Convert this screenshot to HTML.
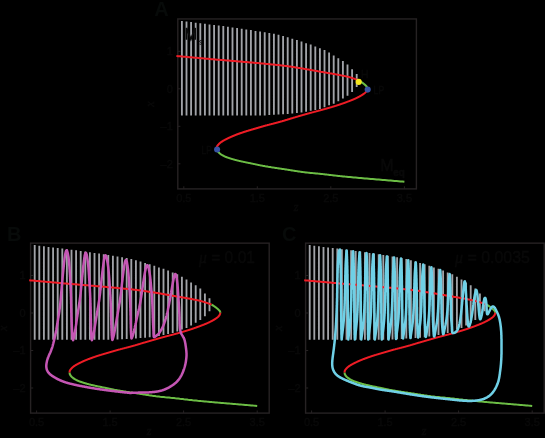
<!DOCTYPE html>
<html><head><meta charset="utf-8"><title>Bifurcation figure</title>
<style>
html,body{margin:0;padding:0;background:#000;}
body{width:545px;height:438px;overflow:hidden;}
svg{display:block;will-change:transform;}
text{font-family:"Liberation Sans",sans-serif;fill:#090909;stroke:#090909;stroke-width:0.45px;}
.t{font-size:11px;}
.h{font-size:11.5px;}
.L{font-size:20px;font-weight:bold;fill:#070a09;stroke:none;}
.ai{font-size:12px;font-style:italic;font-family:"Liberation Serif",serif;}
.m2{font-size:16px;}
.s{font-size:10px;font-weight:bold;}
.mu{font-size:16.4px;}
.mi{font-style:italic;font-family:"Liberation Serif",serif;}
</style></head><body>
<svg width="545" height="438" viewBox="0 0 545 438">
<rect width="545" height="438" fill="#000"/>
<g transform="translate(0.00,0.00)">
<path d="M181.90 20.90V115.60M186.50 21.50V115.60M191.10 22.10V115.60M195.70 22.70V115.60M200.30 23.20V115.60M204.90 23.80V115.60M209.50 24.40V115.60M214.10 25.00V115.60M218.70 25.50V115.60M223.30 26.10V115.60M227.90 26.80V115.60M232.50 27.40V115.60M237.10 28.00V115.60M241.70 28.70V115.60M246.30 29.40V115.60M250.90 30.10V115.60M255.50 30.90V115.60M260.10 31.60V115.50M264.70 32.30V115.40M269.30 33.00V115.00M273.90 33.80V114.70M278.50 34.80V114.40M283.10 36.00V114.20M287.70 37.30V113.90M292.30 38.70V113.50M296.90 40.10V113.10M301.50 41.60V112.40M306.10 43.20V111.70M310.70 44.60V110.70M315.30 46.40V109.90M319.90 48.30V108.90M324.50 50.10V107.30M329.10 52.50V105.30M333.70 55.40V103.80M338.30 58.20V101.20M342.90 61.10V98.60M347.50 64.40V95.80M352.10 69.20V92.10M356.70 74.00V87.10" stroke="#a1a3a8" stroke-width="1.85" fill="none"/>
<rect x="177.80" y="18.95" width="238.60" height="169.95" fill="none" stroke="#262223" stroke-width="1.4"/>
<path d="M177.80 51.30h2.6M177.80 88.80h2.6M177.80 126.30h2.6M177.80 163.80h2.6M183.80 188.90v-2.6M257.30 188.90v-2.6M330.80 188.90v-2.6M404.40 188.90v-2.6" stroke="#262223" stroke-width="1" fill="none"/>
<text x="172.8" y="55.2" text-anchor="end" class="t">1</text>
<text x="172.8" y="92.7" text-anchor="end" class="t">0</text>
<text x="172.8" y="130.2" text-anchor="end" class="t">–1</text>
<text x="172.8" y="167.7" text-anchor="end" class="t">–2</text>
<text x="183.8" y="201.9" text-anchor="middle" class="t">0.5</text>
<text x="257.3" y="201.9" text-anchor="middle" class="t">1.5</text>
<text x="330.8" y="201.9" text-anchor="middle" class="t">2.5</text>
<text x="404.4" y="201.9" text-anchor="middle" class="t">3.5</text>
<text x="154.2" y="16.3" class="L">A</text>
<text x="296.2" y="210.8" text-anchor="middle" class="ai">z</text>
<text transform="translate(154.2,104.2) rotate(-90)" text-anchor="middle" class="ai">x</text>
<g fill="none" stroke-width="2.0" stroke-linecap="butt" stroke-linejoin="round">
<path d="M404.4 181.7L402.4 181.5L400.5 181.4L398.5 181.2L396.5 181.0L394.6 180.9L392.6 180.7L390.6 180.5L388.7 180.4L386.7 180.2L384.7 180.0L382.8 179.9L380.8 179.7L378.8 179.5L376.8 179.4L374.8 179.2L372.8 179.0L370.8 178.9L368.8 178.7L366.8 178.5L364.8 178.4L362.9 178.2L361.0 178.0L359.2 177.9L357.3 177.7L355.5 177.5L353.7 177.4L351.9 177.2L350.1 177.0L348.3 176.9L346.6 176.7L344.9 176.6L343.2 176.4L341.6 176.2L339.9 176.1L338.4 175.9L336.9 175.7L335.4 175.6L334.0 175.4L332.6 175.2L331.2 175.1L329.8 174.9L328.4 174.7L327.0 174.6L325.5 174.4L324.1 174.2L322.6 174.1L321.1 173.9L319.5 173.7L317.8 173.6L316.1 173.4L314.3 173.2L312.5 173.1L310.7 172.9L309.0 172.7L307.4 172.6L305.9 172.4L304.5 172.2L303.2 172.1L302.0 171.9L300.8 171.7L299.6 171.6L298.5 171.4L297.4 171.2L296.3 171.1L295.2 170.9L294.1 170.7L293.0 170.6L292.0 170.4L291.0 170.2L289.9 170.1L288.9 169.9L287.9 169.7L286.8 169.6L285.8 169.4L284.7 169.2L283.6 169.1L282.4 168.9L281.3 168.7L280.2 168.6L279.0 168.4L277.9 168.2L276.8 168.1L275.7 167.9L274.6 167.7L273.5 167.6L272.4 167.4L271.3 167.3L270.3 167.1L269.2 166.9L268.2 166.8L267.2 166.6L266.2 166.4L265.2 166.3L264.3 166.1L263.4 165.9L262.6 165.8L261.7 165.6L260.9 165.4L260.1 165.3L259.3 165.1L258.5 164.9L257.7 164.8L256.9 164.6L256.1 164.4L255.4 164.3L254.6 164.1L253.8 163.9L253.0 163.8L252.2 163.6L251.4 163.4L250.6 163.3L249.7 163.1L248.9 162.9L248.1 162.8L247.3 162.6L246.5 162.4L245.6 162.3L244.8 162.1L244.1 161.9L243.3 161.8L242.5 161.6L241.8 161.4L241.0 161.3L240.3 161.1L239.6 160.9L238.9 160.8L238.1 160.6L237.4 160.4L236.8 160.3L236.1 160.1L235.5 159.9L234.8 159.8L234.2 159.6L233.7 159.4L233.1 159.3L232.5 159.1L231.9 158.9L231.4 158.8L230.8 158.6L230.3 158.4L229.8 158.3L229.3 158.1L228.8 157.9L228.3 157.8L227.8 157.6L227.3 157.5L226.9 157.3L226.5 157.1L226.0 157.0L225.6 156.8L225.2 156.6L224.9 156.5L224.5 156.3L224.2 156.1L223.8 156.0L223.5 155.8L223.2 155.6L222.9 155.5L222.6 155.3L222.3 155.1L222.0 155.0L221.7 154.8L221.5 154.6L221.2 154.5L221.0 154.3L220.8 154.1L220.5 154.0L220.3 153.8L220.1 153.6L219.9 153.5L219.7 153.3L219.5 153.1L219.3 153.0L219.1 152.8L219.0 152.6L218.8 152.5L218.6 152.3L218.5 152.1L218.3 152.0L218.2 151.8L218.1 151.6L217.9 151.5L217.8 151.3L217.7 151.1L217.6 151.0L217.5 150.8L217.4 150.6L217.3 150.5L217.2 150.3L217.1 150.1L217.0 150.0L217.0 149.8L217.0 149.6L216.9 149.5L216.9 149.3L216.9 149.1L216.8 149.0L216.8 148.8L216.8 148.6L216.8 148.5L216.8 148.3L216.8 148.2" stroke="#6cbd45"/>
<path d="M358.7 80.4L359.0 80.6L359.3 80.7L359.6 80.9L359.9 81.1L360.2 81.2L360.4 81.4L360.7 81.6L360.9 81.7L361.1 81.9L361.4 82.0L361.6 82.2L361.8 82.4L362.0 82.5L362.3 82.7L362.5 82.9L362.7 83.0L363.0 83.2L363.2 83.4L363.4 83.5L363.6 83.7L363.8 83.9L364.0 84.0L364.2 84.2L364.4 84.3L364.6 84.5L364.8 84.7L365.0 84.8L365.2 85.0L365.4 85.2L365.5 85.3L365.7 85.5L365.9 85.7L366.0 85.8L366.2 86.0L366.4 86.2L366.5 86.3L366.7 86.5L366.8 86.6L366.9 86.8L367.0 87.0L367.1 87.1L367.1 87.3L367.2 87.5L367.3 87.6L367.4 87.8L367.4 88.0L367.5 88.1L367.5 88.3L367.5 88.5" stroke="#6cbd45"/>
<path d="M176.4 56.0L178.2 56.2L180.1 56.3L181.9 56.5L183.7 56.7L185.6 56.8L187.4 57.0L189.3 57.2L191.1 57.3L193.0 57.5L194.8 57.7L196.7 57.8L198.5 58.0L200.4 58.2L202.2 58.3L204.1 58.5L206.0 58.7L207.8 58.8L209.7 59.0L211.6 59.2L213.4 59.3L215.3 59.5L217.2 59.7L219.1 59.8L221.0 60.0L222.9 60.1L224.8 60.3L226.7 60.5L228.6 60.6L230.6 60.8L232.6 61.0L234.5 61.1L236.5 61.3L238.5 61.5L240.4 61.6L242.4 61.8L244.4 62.0L246.3 62.1L248.3 62.3L250.2 62.5L252.1 62.6L254.0 62.8L255.9 63.0L257.8 63.1L259.6 63.3L261.4 63.5L263.2 63.6L265.0 63.8L266.7 64.0L268.4 64.1L270.1 64.3L271.9 64.5L273.5 64.6L275.2 64.8L276.8 65.0L278.4 65.1L280.0 65.3L281.5 65.5L282.9 65.6L284.2 65.8L285.5 66.0L286.8 66.1L288.0 66.3L289.2 66.5L290.3 66.6L291.5 66.8L292.5 67.0L293.6 67.1L294.7 67.3L295.7 67.5L296.7 67.6L297.8 67.8L298.8 68.0L299.8 68.1L300.8 68.3L301.8 68.4L302.8 68.6L303.8 68.8L304.8 68.9L305.8 69.1L306.8 69.3L307.7 69.4L308.7 69.6L309.6 69.8L310.6 69.9L311.5 70.1L312.4 70.3L313.4 70.4L314.3 70.6L315.2 70.8L316.1 70.9L317.1 71.1L318.0 71.3L318.9 71.4L319.9 71.6L320.8 71.8L321.8 71.9L322.7 72.1L323.7 72.3L324.7 72.4L325.7 72.6L326.7 72.8L327.6 72.9L328.6 73.1L329.6 73.3L330.6 73.4L331.6 73.6L332.5 73.8L333.5 73.9L334.4 74.1L335.4 74.3L336.3 74.4L337.2 74.6L338.1 74.8L339.0 74.9L339.9 75.1L340.7 75.3L341.6 75.4L342.4 75.6L343.3 75.8L344.1 75.9L344.9 76.1L345.7 76.3L346.4 76.4L347.1 76.6L347.8 76.7L348.4 76.9L349.0 77.1L349.6 77.2L350.2 77.4L350.7 77.6L351.2 77.7L351.8 77.9L352.3 78.1L352.7 78.2L353.2 78.4L353.7 78.6L354.2 78.7L354.7 78.9L355.2 79.1L355.6 79.2L356.1 79.4L356.6 79.6L357.1 79.7L357.5 79.9L358.0 80.1L358.3 80.2L358.7 80.4" stroke="#ee1c25"/>
<path d="M367.5 88.5L367.5 88.6L367.5 88.8L367.4 88.9L367.4 89.1L367.4 89.3L367.3 89.4L367.3 89.6L367.2 89.8L367.1 89.9L367.1 90.1L367.0 90.3L366.9 90.4L366.9 90.6L366.8 90.8L366.7 90.9L366.6 91.1L366.4 91.3L366.3 91.4L366.2 91.6L366.1 91.8L365.9 91.9L365.8 92.1L365.6 92.3L365.5 92.4L365.3 92.6L365.1 92.8L364.9 92.9L364.7 93.1L364.5 93.3L364.3 93.4L364.1 93.6L363.8 93.8L363.6 93.9L363.4 94.1L363.1 94.3L362.9 94.4L362.6 94.6L362.4 94.8L362.1 94.9L361.8 95.1L361.6 95.3L361.3 95.4L361.0 95.6L360.8 95.8L360.5 95.9L360.2 96.1L359.9 96.3L359.6 96.4L359.3 96.6L358.9 96.8L358.6 96.9L358.3 97.1L358.0 97.3L357.7 97.4L357.3 97.6L357.0 97.8L356.6 97.9L356.3 98.1L355.9 98.3L355.6 98.4L355.2 98.6L354.9 98.8L354.5 98.9L354.1 99.1L353.7 99.3L353.3 99.4L353.0 99.6L352.6 99.8L352.1 99.9L351.7 100.1L351.3 100.3L350.9 100.4L350.5 100.6L350.0 100.8L349.6 100.9L349.2 101.1L348.7 101.3L348.3 101.4L347.9 101.6L347.4 101.8L347.0 101.9L346.5 102.1L346.1 102.3L345.7 102.4L345.2 102.6L344.8 102.8L344.3 102.9L343.9 103.1L343.4 103.3L343.0 103.4L342.5 103.6L342.0 103.7L341.6 103.9L341.1 104.1L340.6 104.2L340.1 104.4L339.7 104.6L339.2 104.7L338.7 104.9L338.2 105.1L337.6 105.2L337.1 105.4L336.6 105.6L336.1 105.7L335.6 105.9L335.0 106.1L334.5 106.2L333.9 106.4L333.4 106.6L332.8 106.7L332.3 106.9L331.7 107.1L331.2 107.2L330.6 107.4L330.0 107.6L329.5 107.7L328.9 107.9L328.3 108.1L327.7 108.2L327.1 108.4L326.6 108.6L326.0 108.7L325.4 108.9L324.8 109.1L324.2 109.2L323.6 109.4L323.0 109.6L322.4 109.7L321.8 109.9L321.2 110.1L320.6 110.2L320.0 110.4L319.3 110.6L318.7 110.7L318.1 110.9L317.4 111.1L316.8 111.2L316.2 111.4L315.5 111.6L314.9 111.7L314.3 111.9L313.6 112.1L313.0 112.2L312.4 112.4L311.7 112.6L311.1 112.7L310.5 112.9L309.9 113.1L309.3 113.2L308.7 113.4L308.1 113.6L307.5 113.7L306.9 113.9L306.3 114.1L305.7 114.2L305.1 114.4L304.5 114.6L304.0 114.7L303.4 114.9L302.8 115.1L302.2 115.2L301.6 115.4L301.1 115.6L300.5 115.7L299.9 115.9L299.3 116.1L298.7 116.2L298.2 116.4L297.6 116.6L297.0 116.7L296.5 116.9L295.9 117.1L295.3 117.2L294.8 117.4L294.2 117.6L293.6 117.7L293.1 117.9L292.5 118.1L292.0 118.2L291.4 118.4L290.9 118.5L290.3 118.7L289.8 118.9L289.2 119.0L288.7 119.2L288.1 119.4L287.6 119.5L287.1 119.7L286.5 119.9L286.0 120.0L285.4 120.2L284.9 120.4L284.3 120.5L283.8 120.7L283.2 120.9L282.6 121.0L282.1 121.2L281.5 121.4L280.9 121.5L280.3 121.7L279.7 121.9L279.1 122.0L278.5 122.2L277.9 122.4L277.3 122.5L276.6 122.7L276.0 122.9L275.4 123.0L274.7 123.2L274.1 123.4L273.4 123.5L272.8 123.7L272.1 123.9L271.4 124.0L270.8 124.2L270.1 124.4L269.5 124.5L268.9 124.7L268.2 124.9L267.6 125.0L267.0 125.2L266.3 125.4L265.7 125.5L265.1 125.7L264.5 125.9L264.0 126.0L263.4 126.2L262.8 126.4L262.2 126.5L261.6 126.7L261.1 126.9L260.5 127.0L259.9 127.2L259.4 127.4L258.8 127.5L258.2 127.7L257.7 127.9L257.1 128.0L256.5 128.2L256.0 128.4L255.4 128.5L254.8 128.7L254.3 128.9L253.7 129.0L253.1 129.2L252.5 129.4L252.0 129.5L251.4 129.7L250.8 129.9L250.2 130.0L249.7 130.2L249.1 130.4L248.5 130.5L248.0 130.7L247.4 130.9L246.9 131.0L246.4 131.2L245.9 131.4L245.3 131.5L244.8 131.7L244.3 131.9L243.8 132.0L243.3 132.2L242.8 132.4L242.3 132.5L241.9 132.7L241.4 132.9L240.9 133.0L240.4 133.2L240.0 133.3L239.5 133.5L239.0 133.7L238.6 133.8L238.1 134.0L237.7 134.2L237.3 134.3L236.8 134.5L236.4 134.7L235.9 134.8L235.5 135.0L235.1 135.2L234.7 135.3L234.3 135.5L233.9 135.7L233.5 135.8L233.1 136.0L232.7 136.2L232.3 136.3L231.9 136.5L231.5 136.7L231.1 136.8L230.7 137.0L230.4 137.2L230.0 137.3L229.6 137.5L229.3 137.7L228.9 137.8L228.6 138.0L228.2 138.2L227.9 138.3L227.5 138.5L227.2 138.7L226.9 138.8L226.5 139.0L226.2 139.2L225.9 139.3L225.5 139.5L225.2 139.7L224.9 139.8L224.6 140.0L224.3 140.2L224.0 140.3L223.7 140.5L223.4 140.7L223.1 140.8L222.9 141.0L222.6 141.2L222.3 141.3L222.0 141.5L221.8 141.7L221.5 141.8L221.3 142.0L221.0 142.2L220.8 142.3L220.6 142.5L220.4 142.7L220.2 142.8L220.0 143.0L219.8 143.2L219.6 143.3L219.4 143.5L219.3 143.7L219.1 143.8L218.9 144.0L218.8 144.2L218.6 144.3L218.5 144.5L218.3 144.7L218.2 144.8L218.0 145.0L217.9 145.2L217.8 145.3L217.6 145.5L217.5 145.7L217.4 145.8L217.3 146.0L217.2 146.2L217.1 146.3L217.0 146.5L217.0 146.7L216.9 146.8L216.9 147.0L216.9 147.2L216.8 147.3L216.8 147.5L216.8 147.7L216.8 147.8L216.8 148.0L216.8 148.2" stroke="#ee1c25"/>
</g>
<path d="M186.5 39.7V27.9L190.85 39.3L195.2 27.9V39.7" fill="none" stroke="#0c0c0c" stroke-width="1.7" stroke-linejoin="miter"/><path d="M201.5 40.6c-2 -.6 -2.6 1.2 -.9 1.8c1.8 .6 1 2.4 -1 1.7" fill="none" stroke="#0c0c0c" stroke-width="1"/><text x="380.3" y="170.6" class="m2">M</text><text x="393.2" y="176" class="s">eq</text><circle cx="358.7" cy="81.9" r="3.05" fill="#f6e71d"/><circle cx="367.7" cy="89.6" r="3.05" fill="#3753a4"/><circle cx="217.1" cy="149.5" r="3.05" fill="#3753a4"/><text x="360.9" y="78.3" class="h" textLength="7.4" lengthAdjust="spacingAndGlyphs">H</text><text x="373.6" y="94.0" class="h" textLength="10.6" lengthAdjust="spacingAndGlyphs">LP</text><text x="201.6" y="154.3" class="h" textLength="10.2" lengthAdjust="spacingAndGlyphs">LP</text>
</g>
<g transform="translate(-147.20,224.20)">
<path d="M181.90 20.90V115.60M186.50 21.50V115.60M191.10 22.10V115.60M195.70 22.70V115.60M200.30 23.20V115.60M204.90 23.80V115.60M209.50 24.40V115.60M214.10 25.00V115.60M218.70 25.50V115.60M223.30 26.10V115.60M227.90 26.80V115.60M232.50 27.40V115.60M237.10 28.00V115.60M241.70 28.70V115.60M246.30 29.40V115.60M250.90 30.10V115.60M255.50 30.90V115.60M260.10 31.60V115.50M264.70 32.30V115.40M269.30 33.00V115.00M273.90 33.80V114.70M278.50 34.80V114.40M283.10 36.00V114.20M287.70 37.30V113.90M292.30 38.70V113.50M296.90 40.10V113.10M301.50 41.60V112.40M306.10 43.20V111.70M310.70 44.60V110.70M315.30 46.40V109.90M319.90 48.30V108.90M324.50 50.10V107.30M329.10 52.50V105.30M333.70 55.40V103.80M338.30 58.20V101.20M342.90 61.10V98.60M347.50 64.40V95.80M352.10 69.20V92.10M356.70 74.00V87.10" stroke="#a1a3a8" stroke-width="1.85" fill="none"/>
<rect x="177.80" y="18.95" width="238.60" height="169.95" fill="none" stroke="#262223" stroke-width="1.4"/>
<path d="M177.80 51.30h2.6M177.80 88.80h2.6M177.80 126.30h2.6M177.80 163.80h2.6M183.80 188.90v-2.6M257.30 188.90v-2.6M330.80 188.90v-2.6M404.40 188.90v-2.6" stroke="#262223" stroke-width="1" fill="none"/>
<text x="172.8" y="55.2" text-anchor="end" class="t">1</text>
<text x="172.8" y="92.7" text-anchor="end" class="t">0</text>
<text x="172.8" y="130.2" text-anchor="end" class="t">–1</text>
<text x="172.8" y="167.7" text-anchor="end" class="t">–2</text>
<text x="183.8" y="201.9" text-anchor="middle" class="t">0.5</text>
<text x="257.3" y="201.9" text-anchor="middle" class="t">1.5</text>
<text x="330.8" y="201.9" text-anchor="middle" class="t">2.5</text>
<text x="404.4" y="201.9" text-anchor="middle" class="t">3.5</text>
<text x="154.2" y="16.3" class="L">B</text>
<text x="296.2" y="210.8" text-anchor="middle" class="ai">z</text>
<text transform="translate(154.2,104.2) rotate(-90)" text-anchor="middle" class="ai">x</text>
<g fill="none" stroke-width="2.0" stroke-linecap="butt" stroke-linejoin="round">
<path d="M404.4 181.7L402.4 181.5L400.5 181.4L398.5 181.2L396.5 181.0L394.6 180.9L392.6 180.7L390.6 180.5L388.7 180.4L386.7 180.2L384.7 180.0L382.8 179.9L380.8 179.7L378.8 179.5L376.8 179.4L374.8 179.2L372.8 179.0L370.8 178.9L368.8 178.7L366.8 178.5L364.8 178.4L362.9 178.2L361.0 178.0L359.2 177.9L357.3 177.7L355.5 177.5L353.7 177.4L351.9 177.2L350.1 177.0L348.3 176.9L346.6 176.7L344.9 176.6L343.2 176.4L341.6 176.2L339.9 176.1L338.4 175.9L336.9 175.7L335.4 175.6L334.0 175.4L332.6 175.2L331.2 175.1L329.8 174.9L328.4 174.7L327.0 174.6L325.5 174.4L324.1 174.2L322.6 174.1L321.1 173.9L319.5 173.7L317.8 173.6L316.1 173.4L314.3 173.2L312.5 173.1L310.7 172.9L309.0 172.7L307.4 172.6L305.9 172.4L304.5 172.2L303.2 172.1L302.0 171.9L300.8 171.7L299.6 171.6L298.5 171.4L297.4 171.2L296.3 171.1L295.2 170.9L294.1 170.7L293.0 170.6L292.0 170.4L291.0 170.2L289.9 170.1L288.9 169.9L287.9 169.7L286.8 169.6L285.8 169.4L284.7 169.2L283.6 169.1L282.4 168.9L281.3 168.7L280.2 168.6L279.0 168.4L277.9 168.2L276.8 168.1L275.7 167.9L274.6 167.7L273.5 167.6L272.4 167.4L271.3 167.3L270.3 167.1L269.2 166.9L268.2 166.8L267.2 166.6L266.2 166.4L265.2 166.3L264.3 166.1L263.4 165.9L262.6 165.8L261.7 165.6L260.9 165.4L260.1 165.3L259.3 165.1L258.5 164.9L257.7 164.8L256.9 164.6L256.1 164.4L255.4 164.3L254.6 164.1L253.8 163.9L253.0 163.8L252.2 163.6L251.4 163.4L250.6 163.3L249.7 163.1L248.9 162.9L248.1 162.8L247.3 162.6L246.5 162.4L245.6 162.3L244.8 162.1L244.1 161.9L243.3 161.8L242.5 161.6L241.8 161.4L241.0 161.3L240.3 161.1L239.6 160.9L238.9 160.8L238.1 160.6L237.4 160.4L236.8 160.3L236.1 160.1L235.5 159.9L234.8 159.8L234.2 159.6L233.7 159.4L233.1 159.3L232.5 159.1L231.9 158.9L231.4 158.8L230.8 158.6L230.3 158.4L229.8 158.3L229.3 158.1L228.8 157.9L228.3 157.8L227.8 157.6L227.3 157.5L226.9 157.3L226.5 157.1L226.0 157.0L225.6 156.8L225.2 156.6L224.9 156.5L224.5 156.3L224.2 156.1L223.8 156.0L223.5 155.8L223.2 155.6L222.9 155.5L222.6 155.3L222.3 155.1L222.0 155.0L221.7 154.8L221.5 154.6L221.2 154.5L221.0 154.3L220.8 154.1L220.5 154.0L220.3 153.8L220.1 153.6L219.9 153.5L219.7 153.3L219.5 153.1L219.3 153.0L219.1 152.8L219.0 152.6L218.8 152.5L218.6 152.3L218.5 152.1L218.3 152.0L218.2 151.8L218.1 151.6L217.9 151.5L217.8 151.3L217.7 151.1L217.6 151.0L217.5 150.8L217.4 150.6L217.3 150.5L217.2 150.3L217.1 150.1L217.0 150.0L217.0 149.8L217.0 149.6L216.9 149.5L216.9 149.3L216.9 149.1L216.8 149.0L216.8 148.8L216.8 148.6L216.8 148.5L216.8 148.3L216.8 148.2" stroke="#6cbd45"/>
<path d="M358.7 80.4L359.0 80.6L359.3 80.7L359.6 80.9L359.9 81.1L360.2 81.2L360.4 81.4L360.7 81.6L360.9 81.7L361.1 81.9L361.4 82.0L361.6 82.2L361.8 82.4L362.0 82.5L362.3 82.7L362.5 82.9L362.7 83.0L363.0 83.2L363.2 83.4L363.4 83.5L363.6 83.7L363.8 83.9L364.0 84.0L364.2 84.2L364.4 84.3L364.6 84.5L364.8 84.7L365.0 84.8L365.2 85.0L365.4 85.2L365.5 85.3L365.7 85.5L365.9 85.7L366.0 85.8L366.2 86.0L366.4 86.2L366.5 86.3L366.7 86.5L366.8 86.6L366.9 86.8L367.0 87.0L367.1 87.1L367.1 87.3L367.2 87.5L367.3 87.6L367.4 87.8L367.4 88.0L367.5 88.1L367.5 88.3L367.5 88.5" stroke="#6cbd45"/>
<path d="M176.4 56.0L178.2 56.2L180.1 56.3L181.9 56.5L183.7 56.7L185.6 56.8L187.4 57.0L189.3 57.2L191.1 57.3L193.0 57.5L194.8 57.7L196.7 57.8L198.5 58.0L200.4 58.2L202.2 58.3L204.1 58.5L206.0 58.7L207.8 58.8L209.7 59.0L211.6 59.2L213.4 59.3L215.3 59.5L217.2 59.7L219.1 59.8L221.0 60.0L222.9 60.1L224.8 60.3L226.7 60.5L228.6 60.6L230.6 60.8L232.6 61.0L234.5 61.1L236.5 61.3L238.5 61.5L240.4 61.6L242.4 61.8L244.4 62.0L246.3 62.1L248.3 62.3L250.2 62.5L252.1 62.6L254.0 62.8L255.9 63.0L257.8 63.1L259.6 63.3L261.4 63.5L263.2 63.6L265.0 63.8L266.7 64.0L268.4 64.1L270.1 64.3L271.9 64.5L273.5 64.6L275.2 64.8L276.8 65.0L278.4 65.1L280.0 65.3L281.5 65.5L282.9 65.6L284.2 65.8L285.5 66.0L286.8 66.1L288.0 66.3L289.2 66.5L290.3 66.6L291.5 66.8L292.5 67.0L293.6 67.1L294.7 67.3L295.7 67.5L296.7 67.6L297.8 67.8L298.8 68.0L299.8 68.1L300.8 68.3L301.8 68.4L302.8 68.6L303.8 68.8L304.8 68.9L305.8 69.1L306.8 69.3L307.7 69.4L308.7 69.6L309.6 69.8L310.6 69.9L311.5 70.1L312.4 70.3L313.4 70.4L314.3 70.6L315.2 70.8L316.1 70.9L317.1 71.1L318.0 71.3L318.9 71.4L319.9 71.6L320.8 71.8L321.8 71.9L322.7 72.1L323.7 72.3L324.7 72.4L325.7 72.6L326.7 72.8L327.6 72.9L328.6 73.1L329.6 73.3L330.6 73.4L331.6 73.6L332.5 73.8L333.5 73.9L334.4 74.1L335.4 74.3L336.3 74.4L337.2 74.6L338.1 74.8L339.0 74.9L339.9 75.1L340.7 75.3L341.6 75.4L342.4 75.6L343.3 75.8L344.1 75.9L344.9 76.1L345.7 76.3L346.4 76.4L347.1 76.6L347.8 76.7L348.4 76.9L349.0 77.1L349.6 77.2L350.2 77.4L350.7 77.6L351.2 77.7L351.8 77.9L352.3 78.1L352.7 78.2L353.2 78.4L353.7 78.6L354.2 78.7L354.7 78.9L355.2 79.1L355.6 79.2L356.1 79.4L356.6 79.6L357.1 79.7L357.5 79.9L358.0 80.1L358.3 80.2L358.7 80.4" stroke="#ee1c25"/>
<path d="M367.5 88.5L367.5 88.6L367.5 88.8L367.4 88.9L367.4 89.1L367.4 89.3L367.3 89.4L367.3 89.6L367.2 89.8L367.1 89.9L367.1 90.1L367.0 90.3L366.9 90.4L366.9 90.6L366.8 90.8L366.7 90.9L366.6 91.1L366.4 91.3L366.3 91.4L366.2 91.6L366.1 91.8L365.9 91.9L365.8 92.1L365.6 92.3L365.5 92.4L365.3 92.6L365.1 92.8L364.9 92.9L364.7 93.1L364.5 93.3L364.3 93.4L364.1 93.6L363.8 93.8L363.6 93.9L363.4 94.1L363.1 94.3L362.9 94.4L362.6 94.6L362.4 94.8L362.1 94.9L361.8 95.1L361.6 95.3L361.3 95.4L361.0 95.6L360.8 95.8L360.5 95.9L360.2 96.1L359.9 96.3L359.6 96.4L359.3 96.6L358.9 96.8L358.6 96.9L358.3 97.1L358.0 97.3L357.7 97.4L357.3 97.6L357.0 97.8L356.6 97.9L356.3 98.1L355.9 98.3L355.6 98.4L355.2 98.6L354.9 98.8L354.5 98.9L354.1 99.1L353.7 99.3L353.3 99.4L353.0 99.6L352.6 99.8L352.1 99.9L351.7 100.1L351.3 100.3L350.9 100.4L350.5 100.6L350.0 100.8L349.6 100.9L349.2 101.1L348.7 101.3L348.3 101.4L347.9 101.6L347.4 101.8L347.0 101.9L346.5 102.1L346.1 102.3L345.7 102.4L345.2 102.6L344.8 102.8L344.3 102.9L343.9 103.1L343.4 103.3L343.0 103.4L342.5 103.6L342.0 103.7L341.6 103.9L341.1 104.1L340.6 104.2L340.1 104.4L339.7 104.6L339.2 104.7L338.7 104.9L338.2 105.1L337.6 105.2L337.1 105.4L336.6 105.6L336.1 105.7L335.6 105.9L335.0 106.1L334.5 106.2L333.9 106.4L333.4 106.6L332.8 106.7L332.3 106.9L331.7 107.1L331.2 107.2L330.6 107.4L330.0 107.6L329.5 107.7L328.9 107.9L328.3 108.1L327.7 108.2L327.1 108.4L326.6 108.6L326.0 108.7L325.4 108.9L324.8 109.1L324.2 109.2L323.6 109.4L323.0 109.6L322.4 109.7L321.8 109.9L321.2 110.1L320.6 110.2L320.0 110.4L319.3 110.6L318.7 110.7L318.1 110.9L317.4 111.1L316.8 111.2L316.2 111.4L315.5 111.6L314.9 111.7L314.3 111.9L313.6 112.1L313.0 112.2L312.4 112.4L311.7 112.6L311.1 112.7L310.5 112.9L309.9 113.1L309.3 113.2L308.7 113.4L308.1 113.6L307.5 113.7L306.9 113.9L306.3 114.1L305.7 114.2L305.1 114.4L304.5 114.6L304.0 114.7L303.4 114.9L302.8 115.1L302.2 115.2L301.6 115.4L301.1 115.6L300.5 115.7L299.9 115.9L299.3 116.1L298.7 116.2L298.2 116.4L297.6 116.6L297.0 116.7L296.5 116.9L295.9 117.1L295.3 117.2L294.8 117.4L294.2 117.6L293.6 117.7L293.1 117.9L292.5 118.1L292.0 118.2L291.4 118.4L290.9 118.5L290.3 118.7L289.8 118.9L289.2 119.0L288.7 119.2L288.1 119.4L287.6 119.5L287.1 119.7L286.5 119.9L286.0 120.0L285.4 120.2L284.9 120.4L284.3 120.5L283.8 120.7L283.2 120.9L282.6 121.0L282.1 121.2L281.5 121.4L280.9 121.5L280.3 121.7L279.7 121.9L279.1 122.0L278.5 122.2L277.9 122.4L277.3 122.5L276.6 122.7L276.0 122.9L275.4 123.0L274.7 123.2L274.1 123.4L273.4 123.5L272.8 123.7L272.1 123.9L271.4 124.0L270.8 124.2L270.1 124.4L269.5 124.5L268.9 124.7L268.2 124.9L267.6 125.0L267.0 125.2L266.3 125.4L265.7 125.5L265.1 125.7L264.5 125.9L264.0 126.0L263.4 126.2L262.8 126.4L262.2 126.5L261.6 126.7L261.1 126.9L260.5 127.0L259.9 127.2L259.4 127.4L258.8 127.5L258.2 127.7L257.7 127.9L257.1 128.0L256.5 128.2L256.0 128.4L255.4 128.5L254.8 128.7L254.3 128.9L253.7 129.0L253.1 129.2L252.5 129.4L252.0 129.5L251.4 129.7L250.8 129.9L250.2 130.0L249.7 130.2L249.1 130.4L248.5 130.5L248.0 130.7L247.4 130.9L246.9 131.0L246.4 131.2L245.9 131.4L245.3 131.5L244.8 131.7L244.3 131.9L243.8 132.0L243.3 132.2L242.8 132.4L242.3 132.5L241.9 132.7L241.4 132.9L240.9 133.0L240.4 133.2L240.0 133.3L239.5 133.5L239.0 133.7L238.6 133.8L238.1 134.0L237.7 134.2L237.3 134.3L236.8 134.5L236.4 134.7L235.9 134.8L235.5 135.0L235.1 135.2L234.7 135.3L234.3 135.5L233.9 135.7L233.5 135.8L233.1 136.0L232.7 136.2L232.3 136.3L231.9 136.5L231.5 136.7L231.1 136.8L230.7 137.0L230.4 137.2L230.0 137.3L229.6 137.5L229.3 137.7L228.9 137.8L228.6 138.0L228.2 138.2L227.9 138.3L227.5 138.5L227.2 138.7L226.9 138.8L226.5 139.0L226.2 139.2L225.9 139.3L225.5 139.5L225.2 139.7L224.9 139.8L224.6 140.0L224.3 140.2L224.0 140.3L223.7 140.5L223.4 140.7L223.1 140.8L222.9 141.0L222.6 141.2L222.3 141.3L222.0 141.5L221.8 141.7L221.5 141.8L221.3 142.0L221.0 142.2L220.8 142.3L220.6 142.5L220.4 142.7L220.2 142.8L220.0 143.0L219.8 143.2L219.6 143.3L219.4 143.5L219.3 143.7L219.1 143.8L218.9 144.0L218.8 144.2L218.6 144.3L218.5 144.5L218.3 144.7L218.2 144.8L218.0 145.0L217.9 145.2L217.8 145.3L217.6 145.5L217.5 145.7L217.4 145.8L217.3 146.0L217.2 146.2L217.1 146.3L217.0 146.5L217.0 146.7L216.9 146.8L216.9 147.0L216.9 147.2L216.8 147.3L216.8 147.5L216.8 147.7L216.8 147.8L216.8 148.0L216.8 148.2" stroke="#ee1c25"/>
</g>
<path d="M130.0 392.9L129.9 392.9L129.8 392.9L129.8 392.9L129.6 392.9L129.5 392.9L129.4 392.8L129.2 392.8L129.1 392.8L128.9 392.8L128.7 392.8L128.5 392.8L128.3 392.7L128.1 392.7L127.8 392.7L127.6 392.7L127.3 392.6L127.0 392.6L126.8 392.6L126.5 392.6L126.2 392.5L125.9 392.5L125.5 392.5L125.2 392.4L124.9 392.4L124.5 392.4L124.2 392.3L123.8 392.3L123.5 392.2L123.1 392.2L122.7 392.2L122.3 392.1L121.9 392.1L121.5 392.0L121.1 392.0L120.7 391.9L120.3 391.9L119.8 391.8L119.4 391.8L119.0 391.7L118.5 391.7L118.1 391.6L117.6 391.6L117.2 391.5L116.7 391.5L116.3 391.4L115.8 391.4L115.3 391.3L114.9 391.3L114.4 391.2L113.9 391.1L113.5 391.1L113.0 391.0L112.5 391.0L112.0 390.9L111.5 390.8L111.1 390.8L110.6 390.7L110.1 390.7L109.6 390.6L109.2 390.6L108.7 390.5L108.2 390.4L107.7 390.4L107.3 390.3L106.8 390.2L106.3 390.2L105.9 390.1L105.4 390.1L104.9 390.0L104.5 389.9L104.0 389.9L103.6 389.8L103.1 389.7L102.7 389.7L102.2 389.6L101.8 389.6L101.3 389.5L100.9 389.4L100.5 389.4L100.0 389.3L99.6 389.2L99.2 389.2L98.7 389.1L98.3 389.0L97.9 389.0L97.4 388.9L97.0 388.9L96.6 388.8L96.2 388.7L95.7 388.7L95.3 388.6L94.9 388.5L94.5 388.4L94.0 388.4L93.6 388.3L93.2 388.2L92.8 388.2L92.3 388.1L91.9 388.0L91.5 388.0L91.1 387.9L90.6 387.8L90.2 387.7L89.8 387.7L89.4 387.6L88.9 387.5L88.5 387.4L88.1 387.4L87.6 387.3L87.2 387.2L86.8 387.1L86.3 387.1L85.9 387.0L85.5 386.9L85.0 386.8L84.6 386.7L84.1 386.6L83.7 386.6L83.2 386.5L82.8 386.4L82.3 386.3L81.9 386.2L81.4 386.1L81.0 386.0L80.5 386.0L80.1 385.9L79.6 385.8L79.1 385.7L78.7 385.6L78.2 385.5L77.8 385.4L77.3 385.3L76.9 385.2L76.4 385.1L76.0 385.0L75.5 384.9L75.1 384.8L74.6 384.7L74.2 384.6L73.8 384.5L73.3 384.4L72.9 384.3L72.5 384.2L72.0 384.1L71.6 384.0L71.2 383.9L70.8 383.8L70.3 383.7L69.9 383.6L69.5 383.5L69.1 383.4L68.7 383.3L68.3 383.2L67.9 383.1L67.5 382.9L67.1 382.8L66.7 382.7L66.4 382.6L66.0 382.5L65.6 382.4L65.3 382.3L64.9 382.1L64.6 382.0L64.2 381.9L63.9 381.8L63.5 381.7L63.2 381.5L62.9 381.4L62.6 381.3L62.2 381.2L61.9 381.0L61.6 380.9L61.3 380.8L61.0 380.7L60.7 380.5L60.4 380.4L60.1 380.3L59.8 380.2L59.6 380.0L59.3 379.9L59.0 379.8L58.7 379.6L58.4 379.5L58.2 379.3L57.9 379.2L57.6 379.1L57.4 378.9L57.1 378.8L56.8 378.7L56.6 378.5L56.3 378.4L56.0 378.2L55.8 378.1L55.5 377.9L55.3 377.8L55.0 377.6L54.8 377.5L54.5 377.3L54.2 377.2L54.0 377.0L53.7 376.9L53.5 376.7L53.2 376.6L53.0 376.4L52.8 376.3L52.5 376.1L52.3 375.9L52.0 375.8L51.8 375.6L51.6 375.4L51.4 375.3L51.1 375.1L50.9 374.9L50.7 374.8L50.5 374.6L50.3 374.4L50.1 374.3L49.9 374.1L49.7 373.9L49.5 373.7L49.3 373.6L49.2 373.4L49.0 373.2L48.8 373.0L48.7 372.8L48.5 372.7L48.4 372.5L48.2 372.3L48.1 372.1L48.0 371.9L47.8 371.7L47.7 371.5L47.6 371.3L47.5 371.1L47.4 370.9L47.3 370.7L47.2 370.5L47.1 370.3L47.0 370.1L46.9 369.9L46.9 369.7L46.8 369.5L46.7 369.3L46.7 369.1L46.6 368.9L46.6 368.7L46.5 368.5L46.5 368.2L46.5 368.0L46.4 367.8L46.4 367.6L46.4 367.3L46.3 367.1L46.3 366.9L46.3 366.6L46.3 366.4L46.3 366.2L46.3 365.9L46.3 365.7L46.3 365.5L46.3 365.2L46.3 365.0L46.4 364.7L46.4 364.5L46.4 364.3L46.4 364.0L46.5 363.8L46.5 363.5L46.5 363.3L46.6 363.0L46.6 362.8L46.7 362.5L46.7 362.3L46.8 362.0L46.8 361.8L46.9 361.5L46.9 361.3L47.0 361.0L47.0 360.8L47.1 360.5L47.2 360.3L47.2 360.1L47.3 359.8L47.4 359.6L47.5 359.3L47.5 359.1L47.6 358.8L47.7 358.6L47.8 358.4L47.9 358.1L48.0 357.9L48.0 357.7L48.1 357.4L48.2 357.2L48.3 357.0L48.4 356.7L48.5 356.5L48.6 356.3L48.7 356.1L48.8 355.9L48.8 355.7L48.9 355.4L49.0 355.2L49.1 355.0L49.2 354.8L49.3 354.6L49.4 354.4L49.5 354.2L49.6 354.0L49.7 353.8L49.8 353.6L49.9 353.3L50.0 353.1L50.1 352.9L50.2 352.7L50.3 352.5L50.4 352.2L50.5 352.0L50.6 351.8L50.7 351.5L50.8 351.3L50.9 351.0L51.0 350.7L51.1 350.5L51.2 350.2L51.3 349.9L51.4 349.6L51.5 349.3L51.6 349.0L51.7 348.7L51.8 348.4L52.0 348.1L52.1 347.7L52.2 347.4L52.3 347.1L52.4 346.7L52.5 346.4L52.6 346.0L52.7 345.6L52.8 345.3L52.9 344.9L53.0 344.5L53.1 344.1L53.2 343.8L53.3 343.4L53.4 343.0L53.5 342.6L53.6 342.2L53.7 341.8L53.8 341.4L53.9 341.0L54.0 340.6L54.1 340.2L54.2 339.8L54.3 339.4L54.4 339.0L54.5 338.6L54.6 338.2L54.6 337.8L54.7 337.4L54.8 337.0L54.9 336.6L55.0 336.2L55.1 335.8L55.2 335.4L55.3 335.0L55.3 334.6L55.4 334.2L55.5 333.8L55.6 333.5L55.7 333.1L55.7 332.7L55.8 332.3L55.9 332.0L55.9 331.6L56.0 331.2L56.1 330.9L56.2 330.5L56.2 330.1L56.3 329.8L56.4 329.4L56.4 329.1L56.5 328.7L56.6 328.3L56.6 328.0L56.7 327.6L56.7 327.3L56.8 326.9L56.9 326.6L56.9 326.2L57.0 325.9L57.0 325.5L57.1 325.2L57.2 324.8L57.2 324.5L57.3 324.1L57.3 323.8L57.4 323.5L57.5 323.1L57.5 322.8L57.6 322.4L57.6 322.1L57.7 321.7L57.7 321.4L57.8 321.0L57.9 320.7L57.9 320.3L58.0 320.0L58.0 319.6L58.1 319.3L58.1 318.9L58.2 318.6L58.2 318.2L58.3 317.9L58.4 317.5L58.4 317.2L58.5 316.8L58.5 316.5L58.6 316.1L58.6 315.8L58.7 315.5L58.7 315.1L58.8 314.8L58.9 314.4L58.9 314.1L59.0 313.7L59.0 313.4L59.1 313.0L59.1 312.7L59.2 312.4L59.2 312.0L59.3 311.7L59.3 311.4L59.4 311.0L59.4 310.7L59.4 310.4L59.5 310.0L59.5 309.7L59.6 309.4L59.6 309.0L59.7 308.7L59.7 308.4L59.8 308.1L59.8 307.8L59.8 307.5L59.9 307.1L59.9 306.8L59.9 306.5L60.0 306.2L60.0 305.9L60.1 305.6L60.1 305.3L60.1 305.0L60.2 304.7L60.2 304.4L60.2 304.1L60.3 303.8L60.3 303.5L60.3 303.1L60.4 302.8L60.4 302.5L60.4 302.2L60.4 301.9L60.5 301.6L60.5 301.3L60.5 301.0L60.6 300.7L60.6 300.3L60.6 300.0L60.7 299.7L60.7 299.4L60.7 299.0L60.7 298.7L60.8 298.4L60.8 298.1L60.8 297.7L60.9 297.4L60.9 297.0L60.9 296.7L60.9 296.3L61.0 296.0L61.0 295.6L61.0 295.3L61.1 294.9L61.1 294.5L61.1 294.2L61.2 293.8L61.2 293.4L61.2 293.0L61.2 292.7L61.3 292.3L61.3 291.9L61.3 291.5L61.4 291.1L61.4 290.7L61.4 290.3L61.5 290.0L61.5 289.6L61.5 289.2L61.6 288.7L61.6 288.3L61.6 287.9L61.7 287.5L61.7 287.1L61.7 286.7L61.8 286.3L61.8 285.9L61.9 285.4L61.9 285.0L61.9 284.6L62.0 284.2L62.0 283.7L62.0 283.3L62.1 282.9L62.1 282.4L62.2 282.0L62.2 281.6L62.2 281.1L62.3 280.7L62.3 280.2L62.4 279.8L62.4 279.4L62.5 278.9L62.5 278.5L62.5 278.0L62.6 277.6L62.6 277.1L62.7 276.7L62.7 276.2L62.8 275.8L62.8 275.3L62.8 274.9L62.9 274.4L62.9 274.0L63.0 273.6L63.0 273.1L63.1 272.7L63.1 272.2L63.2 271.8L63.2 271.4L63.2 270.9L63.3 270.5L63.3 270.1L63.4 269.6L63.4 269.2L63.5 268.8L63.5 268.4L63.6 268.0L63.6 267.6L63.6 267.2L63.7 266.8L63.7 266.4L63.8 266.0L63.8 265.6L63.8 265.2L63.9 264.8L63.9 264.5L64.0 264.1L64.0 263.7L64.0 263.4L64.1 263.0L64.1 262.7L64.1 262.4L64.2 262.0L64.2 261.7L64.3 261.4L64.3 261.1L64.3 260.7L64.4 260.4L64.4 260.1L64.4 259.8L64.5 259.5L64.5 259.2L64.5 259.0L64.6 258.7L64.6 258.4L64.6 258.1L64.7 257.8L64.7 257.6L64.7 257.3L64.8 257.0L64.8 256.8L64.9 256.5L64.9 256.2L65.0 256.0L65.0 255.7L65.0 255.4L65.1 255.2L65.1 254.9L65.2 254.6L65.2 254.4L65.3 254.1L65.3 253.8L65.4 253.6L65.4 253.3L65.5 253.0L65.6 252.8L65.6 252.5L65.7 252.3L65.7 252.0L65.8 251.8L65.9 251.6L65.9 251.4L66.0 251.2L66.1 251.0L66.1 250.8L66.2 250.7L66.3 250.6L66.3 250.5L66.4 250.4L66.5 250.3L66.5 250.3L66.6 250.3L66.7 250.3L66.8 250.4L66.8 250.4L66.9 250.5L67.0 250.6L67.0 250.8L67.1 250.9L67.2 251.1L67.2 251.3L67.3 251.5L67.4 251.7L67.4 251.9L67.5 252.2L67.5 252.4L67.6 252.6L67.7 252.9L67.7 253.2L67.8 253.4L67.8 253.7L67.9 254.0L67.9 254.2L68.0 254.5L68.0 254.8L68.1 255.0L68.1 255.3L68.2 255.5L68.2 255.8L68.3 256.1L68.3 256.3L68.4 256.6L68.4 256.9L68.5 257.1L68.5 257.4L68.5 257.7L68.6 258.0L68.6 258.2L68.6 258.5L68.7 258.8L68.7 259.1L68.8 259.4L68.8 259.7L68.8 260.0L68.9 260.3L68.9 260.6L68.9 260.9L68.9 261.2L69.0 261.5L69.0 261.8L69.0 262.2L69.1 262.5L69.1 262.9L69.1 263.2L69.2 263.6L69.2 263.9L69.2 264.3L69.3 264.7L69.3 265.1L69.3 265.5L69.3 265.8L69.4 266.2L69.4 266.6L69.4 267.1L69.5 267.5L69.5 267.9L69.5 268.3L69.5 268.7L69.6 269.1L69.6 269.6L69.6 270.0L69.7 270.4L69.7 270.9L69.7 271.3L69.7 271.7L69.8 272.2L69.8 272.6L69.8 273.1L69.9 273.5L69.9 274.0L69.9 274.4L69.9 274.8L70.0 275.3L70.0 275.7L70.0 276.2L70.0 276.6L70.1 277.1L70.1 277.5L70.1 277.9L70.1 278.4L70.2 278.8L70.2 279.3L70.2 279.7L70.2 280.1L70.2 280.5L70.3 281.0L70.3 281.4L70.3 281.8L70.3 282.2L70.4 282.6L70.4 283.0L70.4 283.4L70.4 283.8L70.4 284.2L70.5 284.6L70.5 285.0L70.5 285.4L70.5 285.8L70.5 286.2L70.6 286.6L70.6 287.0L70.6 287.4L70.6 287.8L70.6 288.1L70.6 288.5L70.7 288.9L70.7 289.3L70.7 289.7L70.7 290.0L70.7 290.4L70.7 290.8L70.8 291.2L70.8 291.6L70.8 292.0L70.8 292.3L70.8 292.7L70.8 293.1L70.9 293.5L70.9 293.9L70.9 294.3L70.9 294.7L70.9 295.1L70.9 295.5L70.9 295.9L70.9 296.3L71.0 296.7L71.0 297.1L71.0 297.5L71.0 297.9L71.0 298.3L71.0 298.7L71.0 299.2L71.0 299.6L71.1 300.0L71.1 300.5L71.1 300.9L71.1 301.3L71.1 301.8L71.1 302.2L71.1 302.7L71.1 303.1L71.1 303.6L71.2 304.0L71.2 304.5L71.2 305.0L71.2 305.4L71.2 305.9L71.2 306.4L71.2 306.8L71.2 307.3L71.2 307.8L71.2 308.2L71.3 308.7L71.3 309.2L71.3 309.7L71.3 310.1L71.3 310.6L71.3 311.1L71.3 311.6L71.3 312.1L71.3 312.5L71.4 313.0L71.4 313.5L71.4 314.0L71.4 314.5L71.4 315.0L71.4 315.4L71.4 315.9L71.4 316.4L71.5 316.9L71.5 317.4L71.5 317.8L71.5 318.3L71.5 318.8L71.5 319.3L71.6 319.8L71.6 320.2L71.6 320.7L71.6 321.2L71.6 321.7L71.6 322.1L71.7 322.6L71.7 323.1L71.7 323.5L71.7 324.0L71.7 324.5L71.8 324.9L71.8 325.4L71.8 325.8L71.8 326.3L71.8 326.7L71.9 327.2L71.9 327.6L71.9 328.0L71.9 328.5L72.0 328.9L72.0 329.3L72.0 329.7L72.0 330.1L72.1 330.6L72.1 331.0L72.1 331.4L72.1 331.7L72.2 332.1L72.2 332.5L72.2 332.9L72.2 333.2L72.3 333.6L72.3 334.0L72.3 334.3L72.3 334.6L72.4 335.0L72.4 335.3L72.4 335.6L72.5 335.9L72.5 336.2L72.5 336.5L72.5 336.8L72.6 337.0L72.6 337.3L72.6 337.6L72.6 337.8L72.7 338.0L72.7 338.3L72.7 338.5L72.8 338.7L72.8 338.9L72.8 339.1L72.8 339.2L72.9 339.4L72.9 339.6L72.9 339.7L73.0 339.8L73.0 340.0L73.0 340.1L73.0 340.1L73.1 340.2L73.1 340.3L73.2 340.1L73.2 339.9L73.3 339.7L73.4 339.5L73.4 339.3L73.5 339.0L73.6 338.8L73.6 338.6L73.7 338.3L73.8 338.1L73.8 337.8L73.9 337.6L73.9 337.3L74.0 337.0L74.1 336.8L74.1 336.5L74.2 336.2L74.3 335.9L74.3 335.6L74.4 335.3L74.4 335.0L74.5 334.7L74.5 334.4L74.6 334.1L74.7 333.8L74.7 333.4L74.8 333.1L74.8 332.8L74.9 332.4L75.0 332.1L75.0 331.8L75.1 331.4L75.1 331.1L75.2 330.7L75.2 330.4L75.3 330.0L75.3 329.7L75.4 329.3L75.5 328.9L75.5 328.6L75.6 328.2L75.6 327.9L75.7 327.5L75.7 327.1L75.8 326.8L75.8 326.4L75.9 326.0L75.9 325.6L76.0 325.3L76.1 324.9L76.1 324.5L76.2 324.1L76.2 323.8L76.3 323.4L76.3 323.0L76.4 322.6L76.4 322.2L76.5 321.9L76.5 321.5L76.6 321.1L76.6 320.7L76.7 320.4L76.8 320.0L76.8 319.6L76.9 319.2L76.9 318.9L77.0 318.5L77.0 318.1L77.1 317.8L77.1 317.4L77.2 317.0L77.3 316.7L77.3 316.3L77.4 315.9L77.4 315.6L77.5 315.2L77.5 314.8L77.6 314.5L77.6 314.1L77.7 313.7L77.8 313.4L77.8 313.0L77.9 312.7L77.9 312.3L78.0 312.0L78.0 311.6L78.1 311.3L78.1 310.9L78.2 310.5L78.2 310.2L78.3 309.8L78.4 309.5L78.4 309.2L78.5 308.8L78.5 308.5L78.6 308.1L78.6 307.8L78.7 307.4L78.7 307.1L78.8 306.7L78.8 306.4L78.9 306.1L78.9 305.7L79.0 305.4L79.0 305.1L79.1 304.7L79.1 304.4L79.2 304.0L79.2 303.7L79.3 303.4L79.3 303.0L79.4 302.7L79.4 302.4L79.5 302.0L79.5 301.7L79.6 301.3L79.6 301.0L79.7 300.6L79.7 300.3L79.8 300.0L79.8 299.6L79.8 299.3L79.9 298.9L79.9 298.6L80.0 298.2L80.0 297.9L80.1 297.5L80.1 297.2L80.2 296.8L80.2 296.4L80.3 296.1L80.3 295.7L80.3 295.3L80.4 295.0L80.4 294.6L80.5 294.2L80.5 293.9L80.6 293.5L80.6 293.1L80.6 292.7L80.7 292.4L80.7 292.0L80.8 291.6L80.8 291.2L80.8 290.8L80.9 290.4L80.9 290.1L81.0 289.7L81.0 289.3L81.0 288.9L81.1 288.5L81.1 288.1L81.2 287.7L81.2 287.3L81.2 286.9L81.3 286.5L81.3 286.1L81.4 285.7L81.4 285.3L81.4 284.9L81.5 284.5L81.5 284.1L81.6 283.7L81.6 283.3L81.6 282.9L81.7 282.5L81.7 282.1L81.8 281.7L81.8 281.3L81.8 280.9L81.9 280.5L81.9 280.1L82.0 279.7L82.0 279.3L82.0 278.9L82.1 278.5L82.1 278.0L82.1 277.6L82.2 277.2L82.2 276.8L82.3 276.4L82.3 276.0L82.3 275.6L82.4 275.2L82.4 274.8L82.5 274.4L82.5 274.0L82.5 273.6L82.6 273.2L82.6 272.8L82.7 272.4L82.7 272.0L82.7 271.6L82.8 271.3L82.8 270.9L82.9 270.5L82.9 270.1L82.9 269.7L83.0 269.3L83.0 269.0L83.1 268.6L83.1 268.2L83.1 267.8L83.2 267.5L83.2 267.1L83.3 266.7L83.3 266.4L83.3 266.0L83.4 265.7L83.4 265.3L83.5 265.0L83.5 264.6L83.6 264.3L83.6 263.9L83.6 263.6L83.7 263.3L83.7 262.9L83.8 262.6L83.8 262.3L83.8 262.0L83.9 261.6L83.9 261.3L83.9 261.0L84.0 260.7L84.0 260.4L84.1 260.1L84.1 259.8L84.1 259.6L84.2 259.3L84.2 259.0L84.2 258.7L84.3 258.5L84.3 258.2L84.3 258.0L84.4 257.7L84.4 257.5L84.5 257.2L84.5 257.0L84.5 256.8L84.6 256.5L84.6 256.3L84.6 256.1L84.7 255.9L84.7 255.7L84.7 255.5L84.8 255.3L84.8 255.1L84.9 254.9L84.9 254.7L85.0 254.5L85.0 254.4L85.1 254.2L85.1 254.0L85.2 253.8L85.2 253.7L85.3 253.5L85.3 253.4L85.4 253.3L85.5 253.1L85.5 253.0L85.6 252.9L85.6 252.9L85.7 252.8L85.8 252.8L85.8 252.8L85.9 252.8L86.0 252.9L86.0 252.9L86.1 253.0L86.2 253.1L86.2 253.3L86.3 253.4L86.3 253.5L86.4 253.7L86.4 253.9L86.5 254.0L86.6 254.2L86.6 254.4L86.7 254.6L86.7 254.8L86.7 254.9L86.8 255.1L86.8 255.3L86.9 255.6L86.9 255.8L86.9 256.0L87.0 256.2L87.0 256.4L87.1 256.6L87.1 256.9L87.1 257.1L87.2 257.3L87.2 257.5L87.2 257.8L87.3 258.0L87.3 258.2L87.3 258.5L87.4 258.7L87.4 258.9L87.4 259.2L87.5 259.4L87.5 259.7L87.5 259.9L87.6 260.2L87.6 260.4L87.6 260.7L87.7 260.9L87.7 261.2L87.7 261.5L87.8 261.7L87.8 262.0L87.8 262.3L87.9 262.5L87.9 262.8L88.0 263.1L88.0 263.4L88.0 263.7L88.1 264.0L88.1 264.3L88.1 264.6L88.2 264.9L88.2 265.3L88.2 265.6L88.3 265.9L88.3 266.3L88.3 266.6L88.4 266.9L88.4 267.3L88.4 267.7L88.5 268.0L88.5 268.4L88.5 268.8L88.5 269.1L88.6 269.5L88.6 269.9L88.6 270.3L88.7 270.7L88.7 271.1L88.7 271.5L88.8 271.9L88.8 272.3L88.8 272.7L88.8 273.1L88.9 273.5L88.9 273.9L88.9 274.4L89.0 274.8L89.0 275.2L89.0 275.6L89.0 276.0L89.1 276.5L89.1 276.9L89.1 277.3L89.1 277.8L89.2 278.2L89.2 278.6L89.2 279.0L89.3 279.5L89.3 279.9L89.3 280.3L89.3 280.8L89.4 281.2L89.4 281.6L89.4 282.1L89.4 282.5L89.5 282.9L89.5 283.4L89.5 283.8L89.5 284.2L89.6 284.7L89.6 285.1L89.6 285.5L89.7 286.0L89.7 286.4L89.7 286.9L89.7 287.3L89.8 287.7L89.8 288.2L89.8 288.6L89.8 289.0L89.9 289.5L89.9 289.9L89.9 290.4L89.9 290.8L89.9 291.3L90.0 291.7L90.0 292.2L90.0 292.6L90.0 293.1L90.1 293.5L90.1 294.0L90.1 294.4L90.1 294.9L90.1 295.3L90.2 295.8L90.2 296.2L90.2 296.7L90.2 297.2L90.2 297.6L90.3 298.1L90.3 298.5L90.3 299.0L90.3 299.5L90.3 300.0L90.4 300.4L90.4 300.9L90.4 301.4L90.4 301.9L90.4 302.3L90.4 302.8L90.5 303.3L90.5 303.8L90.5 304.3L90.5 304.7L90.5 305.2L90.5 305.7L90.5 306.2L90.6 306.7L90.6 307.2L90.6 307.7L90.6 308.2L90.6 308.6L90.6 309.1L90.6 309.6L90.7 310.1L90.7 310.6L90.7 311.1L90.7 311.6L90.7 312.1L90.7 312.5L90.7 313.0L90.7 313.5L90.7 314.0L90.8 314.5L90.8 315.0L90.8 315.5L90.8 316.0L90.8 316.4L90.8 316.9L90.8 317.4L90.8 317.9L90.8 318.4L90.9 318.8L90.9 319.3L90.9 319.8L90.9 320.3L90.9 320.7L90.9 321.2L90.9 321.7L90.9 322.1L90.9 322.6L90.9 323.1L91.0 323.5L91.0 324.0L91.0 324.4L91.0 324.9L91.0 325.3L91.0 325.8L91.0 326.2L91.0 326.7L91.0 327.1L91.1 327.5L91.1 328.0L91.1 328.4L91.1 328.8L91.1 329.2L91.1 329.6L91.1 330.0L91.1 330.5L91.2 330.8L91.2 331.2L91.2 331.6L91.2 332.0L91.2 332.4L91.2 332.7L91.2 333.1L91.3 333.5L91.3 333.8L91.3 334.1L91.3 334.5L91.3 334.8L91.3 335.1L91.4 335.4L91.4 335.8L91.4 336.1L91.4 336.3L91.4 336.6L91.5 336.9L91.5 337.2L91.5 337.4L91.5 337.7L91.5 337.9L91.6 338.2L91.6 338.4L91.6 338.6L91.6 338.8L91.7 339.0L91.7 339.2L91.7 339.4L91.7 339.5L91.8 339.7L91.8 339.8L91.8 340.0L91.9 340.1L91.9 340.2L92.0 340.0L92.0 339.8L92.1 339.6L92.2 339.4L92.3 339.2L92.3 338.9L92.4 338.7L92.5 338.5L92.6 338.2L92.6 338.0L92.7 337.7L92.8 337.5L92.8 337.2L92.9 336.9L93.0 336.6L93.0 336.4L93.1 336.1L93.2 335.8L93.2 335.5L93.3 335.2L93.4 334.9L93.4 334.6L93.5 334.3L93.6 333.9L93.6 333.6L93.7 333.3L93.7 333.0L93.8 332.6L93.9 332.3L93.9 332.0L94.0 331.6L94.1 331.3L94.1 330.9L94.2 330.6L94.2 330.2L94.3 329.9L94.4 329.5L94.4 329.1L94.5 328.8L94.5 328.4L94.6 328.0L94.7 327.7L94.7 327.3L94.8 326.9L94.8 326.6L94.9 326.2L95.0 325.8L95.0 325.4L95.1 325.1L95.1 324.7L95.2 324.3L95.3 323.9L95.3 323.6L95.4 323.2L95.4 322.8L95.5 322.4L95.6 322.1L95.6 321.7L95.7 321.3L95.7 320.9L95.8 320.6L95.9 320.2L95.9 319.8L96.0 319.4L96.1 319.1L96.1 318.7L96.2 318.3L96.2 318.0L96.3 317.6L96.4 317.2L96.4 316.9L96.5 316.5L96.5 316.1L96.6 315.8L96.7 315.4L96.7 315.0L96.8 314.7L96.8 314.3L96.9 314.0L97.0 313.6L97.0 313.2L97.1 312.9L97.1 312.5L97.2 312.2L97.3 311.8L97.3 311.5L97.4 311.1L97.4 310.8L97.5 310.4L97.6 310.1L97.6 309.7L97.7 309.4L97.7 309.0L97.8 308.7L97.9 308.3L97.9 308.0L98.0 307.7L98.0 307.3L98.1 307.0L98.1 306.6L98.2 306.3L98.3 306.0L98.3 305.6L98.4 305.3L98.4 305.0L98.5 304.6L98.5 304.3L98.6 303.9L98.6 303.6L98.7 303.3L98.7 302.9L98.8 302.6L98.8 302.2L98.9 301.9L99.0 301.6L99.0 301.2L99.1 300.9L99.1 300.5L99.2 300.2L99.2 299.8L99.3 299.5L99.3 299.1L99.4 298.8L99.4 298.4L99.5 298.1L99.5 297.7L99.6 297.3L99.6 297.0L99.6 296.6L99.7 296.2L99.7 295.9L99.8 295.5L99.8 295.1L99.9 294.7L99.9 294.4L100.0 294.0L100.0 293.6L100.1 293.2L100.1 292.9L100.2 292.5L100.2 292.1L100.2 291.7L100.3 291.3L100.3 290.9L100.4 290.5L100.4 290.1L100.5 289.7L100.5 289.4L100.6 289.0L100.6 288.6L100.6 288.2L100.7 287.8L100.7 287.4L100.8 287.0L100.8 286.6L100.9 286.2L100.9 285.8L101.0 285.4L101.0 285.0L101.0 284.6L101.1 284.2L101.1 283.7L101.2 283.3L101.2 282.9L101.3 282.5L101.3 282.1L101.3 281.7L101.4 281.3L101.4 280.9L101.5 280.5L101.5 280.1L101.6 279.7L101.6 279.3L101.6 278.9L101.7 278.5L101.7 278.1L101.8 277.7L101.8 277.3L101.9 276.9L101.9 276.5L102.0 276.1L102.0 275.7L102.0 275.3L102.1 274.9L102.1 274.5L102.2 274.1L102.2 273.7L102.3 273.3L102.3 272.9L102.3 272.5L102.4 272.1L102.4 271.7L102.5 271.4L102.5 271.0L102.6 270.6L102.6 270.2L102.7 269.9L102.7 269.5L102.7 269.1L102.8 268.8L102.8 268.4L102.9 268.0L102.9 267.7L103.0 267.3L103.0 267.0L103.1 266.6L103.1 266.3L103.2 266.0L103.2 265.6L103.2 265.3L103.3 265.0L103.3 264.6L103.4 264.3L103.4 264.0L103.5 263.7L103.5 263.4L103.5 263.1L103.6 262.8L103.6 262.5L103.7 262.2L103.7 261.9L103.8 261.6L103.8 261.3L103.8 261.1L103.9 260.8L103.9 260.6L103.9 260.3L104.0 260.1L104.0 259.8L104.1 259.6L104.1 259.3L104.1 259.1L104.2 258.9L104.2 258.7L104.3 258.4L104.3 258.2L104.3 258.0L104.4 257.8L104.4 257.6L104.5 257.4L104.5 257.3L104.6 257.1L104.6 256.9L104.7 256.7L104.7 256.5L104.8 256.4L104.8 256.2L104.9 256.1L105.0 255.9L105.0 255.8L105.1 255.7L105.2 255.6L105.2 255.5L105.3 255.4L105.4 255.3L105.5 255.3L105.5 255.3L105.6 255.3L105.7 255.4L105.7 255.4L105.8 255.5L105.9 255.6L106.0 255.7L106.0 255.8L106.1 256.0L106.2 256.1L106.2 256.3L106.3 256.5L106.3 256.6L106.4 256.8L106.5 257.0L106.5 257.2L106.6 257.4L106.6 257.6L106.7 257.8L106.7 258.0L106.8 258.2L106.8 258.4L106.8 258.6L106.9 258.8L106.9 259.1L107.0 259.3L107.0 259.5L107.0 259.7L107.1 260.0L107.1 260.2L107.2 260.4L107.2 260.7L107.2 260.9L107.3 261.2L107.3 261.4L107.4 261.6L107.4 261.9L107.4 262.1L107.5 262.4L107.5 262.6L107.6 262.9L107.6 263.1L107.7 263.4L107.7 263.7L107.7 263.9L107.8 264.2L107.8 264.5L107.9 264.7L107.9 265.0L107.9 265.3L108.0 265.6L108.0 265.9L108.1 266.2L108.1 266.5L108.1 266.8L108.2 267.1L108.2 267.5L108.3 267.8L108.3 268.1L108.3 268.5L108.4 268.8L108.4 269.2L108.4 269.5L108.5 269.9L108.5 270.2L108.6 270.6L108.6 271.0L108.6 271.4L108.7 271.7L108.7 272.1L108.7 272.5L108.8 272.9L108.8 273.3L108.8 273.7L108.9 274.1L108.9 274.5L108.9 274.9L109.0 275.4L109.0 275.8L109.0 276.2L109.1 276.6L109.1 277.0L109.1 277.5L109.2 277.9L109.2 278.3L109.2 278.7L109.3 279.2L109.3 279.6L109.3 280.0L109.4 280.5L109.4 280.9L109.4 281.3L109.5 281.8L109.5 282.2L109.5 282.6L109.5 283.1L109.6 283.5L109.6 283.9L109.6 284.4L109.7 284.8L109.7 285.2L109.7 285.7L109.8 286.1L109.8 286.5L109.8 287.0L109.9 287.4L109.9 287.8L109.9 288.3L109.9 288.7L110.0 289.1L110.0 289.6L110.0 290.0L110.1 290.5L110.1 290.9L110.1 291.3L110.1 291.8L110.2 292.2L110.2 292.7L110.2 293.1L110.2 293.6L110.3 294.0L110.3 294.5L110.3 294.9L110.4 295.4L110.4 295.8L110.4 296.3L110.4 296.7L110.5 297.2L110.5 297.7L110.5 298.1L110.5 298.6L110.5 299.0L110.6 299.5L110.6 300.0L110.6 300.5L110.6 300.9L110.7 301.4L110.7 301.9L110.7 302.3L110.7 302.8L110.7 303.3L110.8 303.8L110.8 304.3L110.8 304.7L110.8 305.2L110.8 305.7L110.8 306.2L110.9 306.7L110.9 307.2L110.9 307.7L110.9 308.1L110.9 308.6L110.9 309.1L111.0 309.6L111.0 310.1L111.0 310.6L111.0 311.1L111.0 311.6L111.0 312.1L111.0 312.5L111.1 313.0L111.1 313.5L111.1 314.0L111.1 314.5L111.1 315.0L111.1 315.5L111.1 316.0L111.1 316.4L111.2 316.9L111.2 317.4L111.2 317.9L111.2 318.4L111.2 318.9L111.2 319.3L111.2 319.8L111.2 320.3L111.3 320.8L111.3 321.2L111.3 321.7L111.3 322.2L111.3 322.6L111.3 323.1L111.3 323.6L111.3 324.0L111.3 324.5L111.4 324.9L111.4 325.4L111.4 325.8L111.4 326.3L111.4 326.7L111.4 327.2L111.4 327.6L111.4 328.0L111.5 328.4L111.5 328.9L111.5 329.3L111.5 329.7L111.5 330.1L111.5 330.5L111.6 330.9L111.6 331.3L111.6 331.7L111.6 332.1L111.6 332.4L111.6 332.8L111.7 333.2L111.7 333.5L111.7 333.9L111.7 334.2L111.7 334.5L111.7 334.9L111.8 335.2L111.8 335.5L111.8 335.8L111.8 336.1L111.9 336.4L111.9 336.7L111.9 336.9L111.9 337.2L112.0 337.5L112.0 337.7L112.0 337.9L112.0 338.2L112.1 338.4L112.1 338.6L112.1 338.8L112.2 339.0L112.2 339.2L112.2 339.3L112.3 339.5L112.3 339.6L112.3 339.8L112.4 339.9L112.4 340.0L112.5 339.8L112.6 339.6L112.6 339.4L112.7 339.2L112.8 339.0L112.9 338.7L112.9 338.5L113.0 338.3L113.1 338.0L113.2 337.8L113.2 337.5L113.3 337.2L113.4 337.0L113.5 336.7L113.5 336.4L113.6 336.1L113.7 335.8L113.7 335.5L113.8 335.2L113.9 334.9L114.0 334.6L114.0 334.3L114.1 334.0L114.2 333.6L114.2 333.3L114.3 333.0L114.4 332.6L114.4 332.3L114.5 332.0L114.6 331.6L114.6 331.3L114.7 330.9L114.8 330.6L114.8 330.2L114.9 329.8L114.9 329.5L115.0 329.1L115.1 328.7L115.1 328.4L115.2 328.0L115.3 327.6L115.3 327.3L115.4 326.9L115.5 326.5L115.5 326.1L115.6 325.8L115.6 325.4L115.7 325.0L115.8 324.6L115.8 324.3L115.9 323.9L116.0 323.5L116.0 323.1L116.1 322.7L116.2 322.4L116.2 322.0L116.3 321.6L116.4 321.2L116.4 320.9L116.5 320.5L116.5 320.1L116.6 319.7L116.7 319.4L116.7 319.0L116.8 318.6L116.9 318.3L116.9 317.9L117.0 317.5L117.1 317.2L117.1 316.8L117.2 316.4L117.3 316.1L117.3 315.7L117.4 315.4L117.5 315.0L117.5 314.6L117.6 314.3L117.6 313.9L117.7 313.6L117.8 313.2L117.8 312.9L117.9 312.5L118.0 312.2L118.0 311.8L118.1 311.5L118.2 311.1L118.2 310.8L118.3 310.4L118.3 310.1L118.4 309.7L118.5 309.4L118.5 309.0L118.6 308.7L118.6 308.4L118.7 308.0L118.8 307.7L118.8 307.4L118.9 307.0L118.9 306.7L119.0 306.3L119.1 306.0L119.1 305.7L119.2 305.3L119.2 305.0L119.3 304.6L119.3 304.3L119.4 303.9L119.5 303.6L119.5 303.3L119.6 302.9L119.6 302.6L119.7 302.2L119.7 301.9L119.8 301.5L119.8 301.2L119.9 300.8L119.9 300.4L120.0 300.1L120.0 299.7L120.1 299.4L120.1 299.0L120.2 298.6L120.2 298.2L120.3 297.9L120.3 297.5L120.4 297.1L120.4 296.7L120.5 296.4L120.5 296.0L120.6 295.6L120.6 295.2L120.7 294.8L120.7 294.4L120.8 294.1L120.8 293.7L120.9 293.3L120.9 292.9L121.0 292.5L121.0 292.1L121.1 291.7L121.1 291.3L121.2 290.9L121.2 290.5L121.2 290.1L121.3 289.7L121.3 289.3L121.4 288.9L121.4 288.5L121.5 288.1L121.5 287.7L121.6 287.3L121.6 286.9L121.7 286.5L121.7 286.1L121.8 285.7L121.8 285.2L121.8 284.8L121.9 284.4L121.9 284.0L122.0 283.6L122.0 283.2L122.1 282.8L122.1 282.4L122.2 282.0L122.2 281.6L122.3 281.2L122.3 280.8L122.4 280.4L122.4 280.0L122.5 279.6L122.5 279.2L122.5 278.8L122.6 278.4L122.6 278.0L122.7 277.6L122.7 277.2L122.8 276.8L122.8 276.4L122.9 276.0L122.9 275.6L123.0 275.2L123.0 274.9L123.1 274.5L123.1 274.1L123.2 273.7L123.2 273.4L123.3 273.0L123.3 272.6L123.4 272.3L123.4 271.9L123.4 271.5L123.5 271.2L123.5 270.8L123.6 270.5L123.6 270.2L123.7 269.8L123.7 269.5L123.8 269.2L123.8 268.8L123.9 268.5L123.9 268.2L124.0 267.9L124.0 267.6L124.1 267.3L124.1 267.0L124.1 266.7L124.2 266.4L124.2 266.1L124.3 265.8L124.3 265.5L124.4 265.3L124.4 265.0L124.4 264.8L124.5 264.5L124.5 264.3L124.6 264.0L124.6 263.8L124.6 263.6L124.7 263.3L124.7 263.1L124.8 262.9L124.8 262.7L124.9 262.5L124.9 262.3L125.0 262.1L125.0 261.9L125.1 261.7L125.1 261.5L125.2 261.4L125.2 261.2L125.3 261.0L125.4 260.9L125.4 260.7L125.5 260.6L125.6 260.4L125.6 260.3L125.7 260.2L125.8 260.1L125.8 260.1L125.9 260.0L126.0 260.0L126.1 260.0L126.1 260.0L126.2 260.1L126.3 260.2L126.3 260.3L126.4 260.4L126.4 260.5L126.5 260.7L126.6 260.8L126.6 261.0L126.7 261.2L126.7 261.3L126.8 261.5L126.8 261.7L126.9 261.9L126.9 262.1L126.9 262.3L127.0 262.5L127.0 262.7L127.1 262.9L127.1 263.1L127.1 263.4L127.2 263.6L127.2 263.8L127.2 264.0L127.3 264.3L127.3 264.5L127.3 264.7L127.4 265.0L127.4 265.2L127.5 265.4L127.5 265.7L127.5 265.9L127.6 266.2L127.6 266.4L127.6 266.7L127.7 266.9L127.7 267.2L127.7 267.4L127.8 267.7L127.8 267.9L127.8 268.2L127.9 268.5L127.9 268.8L128.0 269.0L128.0 269.3L128.0 269.6L128.1 269.9L128.1 270.2L128.1 270.5L128.2 270.8L128.2 271.2L128.2 271.5L128.3 271.8L128.3 272.2L128.3 272.5L128.4 272.9L128.4 273.2L128.4 273.6L128.5 273.9L128.5 274.3L128.5 274.7L128.5 275.1L128.6 275.4L128.6 275.8L128.6 276.2L128.7 276.6L128.7 277.0L128.7 277.4L128.8 277.8L128.8 278.2L128.8 278.7L128.8 279.1L128.9 279.5L128.9 279.9L128.9 280.3L129.0 280.7L129.0 281.2L129.0 281.6L129.0 282.0L129.1 282.5L129.1 282.9L129.1 283.3L129.2 283.7L129.2 284.2L129.2 284.6L129.2 285.0L129.3 285.5L129.3 285.9L129.3 286.3L129.3 286.8L129.4 287.2L129.4 287.6L129.4 288.1L129.5 288.5L129.5 288.9L129.5 289.4L129.5 289.8L129.6 290.2L129.6 290.7L129.6 291.1L129.6 291.5L129.7 292.0L129.7 292.4L129.7 292.8L129.7 293.3L129.8 293.7L129.8 294.2L129.8 294.6L129.8 295.1L129.9 295.5L129.9 296.0L129.9 296.4L129.9 296.8L129.9 297.3L130.0 297.8L130.0 298.2L130.0 298.7L130.0 299.1L130.1 299.6L130.1 300.0L130.1 300.5L130.1 301.0L130.1 301.4L130.2 301.9L130.2 302.4L130.2 302.8L130.2 303.3L130.2 303.8L130.2 304.3L130.3 304.7L130.3 305.2L130.3 305.7L130.3 306.2L130.3 306.7L130.3 307.1L130.3 307.6L130.4 308.1L130.4 308.6L130.4 309.1L130.4 309.6L130.4 310.1L130.4 310.5L130.4 311.0L130.5 311.5L130.5 312.0L130.5 312.5L130.5 313.0L130.5 313.5L130.5 314.0L130.5 314.4L130.5 314.9L130.6 315.4L130.6 315.9L130.6 316.4L130.6 316.9L130.6 317.3L130.6 317.8L130.6 318.3L130.6 318.8L130.6 319.3L130.6 319.7L130.7 320.2L130.7 320.7L130.7 321.1L130.7 321.6L130.7 322.1L130.7 322.5L130.7 323.0L130.7 323.5L130.7 323.9L130.8 324.4L130.8 324.8L130.8 325.3L130.8 325.7L130.8 326.2L130.8 326.6L130.8 327.0L130.8 327.5L130.8 327.9L130.9 328.3L130.9 328.7L130.9 329.1L130.9 329.5L130.9 329.9L130.9 330.3L130.9 330.7L130.9 331.1L131.0 331.4L131.0 331.8L131.0 332.2L131.0 332.5L131.0 332.9L131.0 333.2L131.1 333.5L131.1 333.9L131.1 334.2L131.1 334.5L131.1 334.8L131.2 335.1L131.2 335.4L131.2 335.6L131.2 335.9L131.2 336.1L131.3 336.4L131.3 336.6L131.3 336.8L131.3 337.1L131.4 337.3L131.4 337.5L131.4 337.6L131.4 337.8L131.5 338.0L131.5 338.1L131.5 338.3L131.6 338.4L131.6 338.5L131.7 338.3L131.8 338.1L131.9 337.9L132.0 337.7L132.1 337.5L132.2 337.3L132.2 337.1L132.3 336.9L132.4 336.6L132.5 336.4L132.6 336.1L132.7 335.9L132.8 335.6L132.9 335.4L132.9 335.1L133.0 334.8L133.1 334.5L133.2 334.2L133.3 333.9L133.4 333.7L133.4 333.4L133.5 333.1L133.6 332.7L133.7 332.4L133.8 332.1L133.8 331.8L133.9 331.5L134.0 331.1L134.1 330.8L134.2 330.5L134.2 330.2L134.3 329.8L134.4 329.5L134.5 329.1L134.6 328.8L134.6 328.4L134.7 328.1L134.8 327.7L134.9 327.4L134.9 327.0L135.0 326.7L135.1 326.3L135.2 326.0L135.2 325.6L135.3 325.2L135.4 324.9L135.5 324.5L135.6 324.2L135.6 323.8L135.7 323.4L135.8 323.1L135.9 322.7L135.9 322.4L136.0 322.0L136.1 321.6L136.2 321.3L136.2 320.9L136.3 320.6L136.4 320.2L136.5 319.9L136.6 319.5L136.6 319.2L136.7 318.8L136.8 318.5L136.9 318.1L136.9 317.8L137.0 317.4L137.1 317.1L137.2 316.7L137.3 316.4L137.3 316.0L137.4 315.7L137.5 315.3L137.6 315.0L137.6 314.7L137.7 314.3L137.8 314.0L137.9 313.7L137.9 313.3L138.0 313.0L138.1 312.7L138.2 312.3L138.2 312.0L138.3 311.7L138.4 311.3L138.5 311.0L138.5 310.7L138.6 310.4L138.7 310.0L138.8 309.7L138.8 309.4L138.9 309.1L139.0 308.7L139.0 308.4L139.1 308.1L139.2 307.8L139.3 307.4L139.3 307.1L139.4 306.8L139.5 306.5L139.5 306.2L139.6 305.8L139.7 305.5L139.7 305.2L139.8 304.8L139.9 304.5L139.9 304.2L140.0 303.8L140.1 303.5L140.1 303.2L140.2 302.8L140.3 302.5L140.3 302.2L140.4 301.8L140.4 301.5L140.5 301.1L140.6 300.8L140.6 300.4L140.7 300.1L140.7 299.7L140.8 299.3L140.9 299.0L140.9 298.6L141.0 298.3L141.0 297.9L141.1 297.5L141.2 297.2L141.2 296.8L141.3 296.4L141.3 296.1L141.4 295.7L141.4 295.3L141.5 294.9L141.6 294.6L141.6 294.2L141.7 293.8L141.7 293.4L141.8 293.0L141.8 292.7L141.9 292.3L141.9 291.9L142.0 291.5L142.1 291.1L142.1 290.7L142.2 290.3L142.2 290.0L142.3 289.6L142.3 289.2L142.4 288.8L142.4 288.4L142.5 288.0L142.6 287.6L142.6 287.2L142.7 286.8L142.7 286.4L142.8 286.1L142.8 285.7L142.9 285.3L142.9 284.9L143.0 284.5L143.1 284.1L143.1 283.7L143.2 283.3L143.2 283.0L143.3 282.6L143.3 282.2L143.4 281.8L143.5 281.4L143.5 281.1L143.6 280.7L143.6 280.3L143.7 280.0L143.7 279.6L143.8 279.2L143.8 278.9L143.9 278.5L144.0 278.1L144.0 277.8L144.1 277.4L144.1 277.1L144.2 276.7L144.2 276.4L144.3 276.0L144.4 275.7L144.4 275.4L144.5 275.0L144.5 274.7L144.6 274.4L144.6 274.1L144.7 273.7L144.8 273.4L144.8 273.1L144.9 272.8L144.9 272.5L145.0 272.2L145.0 271.9L145.1 271.6L145.1 271.4L145.2 271.1L145.2 270.8L145.3 270.6L145.4 270.3L145.4 270.0L145.5 269.8L145.5 269.5L145.6 269.3L145.6 269.1L145.7 268.8L145.7 268.6L145.8 268.4L145.8 268.2L145.9 268.0L145.9 267.8L146.0 267.6L146.0 267.4L146.1 267.2L146.1 267.0L146.2 266.8L146.3 266.7L146.3 266.5L146.4 266.3L146.5 266.2L146.5 266.0L146.6 265.9L146.7 265.8L146.8 265.6L146.8 265.5L146.9 265.4L147.0 265.3L147.1 265.3L147.2 265.2L147.3 265.2L147.3 265.2L147.4 265.2L147.5 265.3L147.6 265.3L147.7 265.4L147.7 265.5L147.8 265.6L147.9 265.8L148.0 265.9L148.0 266.1L148.1 266.2L148.2 266.4L148.2 266.6L148.3 266.7L148.3 266.9L148.4 267.1L148.4 267.3L148.5 267.5L148.5 267.7L148.6 267.9L148.6 268.1L148.7 268.3L148.7 268.5L148.8 268.7L148.8 268.9L148.9 269.2L148.9 269.4L148.9 269.6L149.0 269.8L149.0 270.1L149.1 270.3L149.1 270.5L149.2 270.7L149.2 271.0L149.3 271.2L149.3 271.5L149.4 271.7L149.4 271.9L149.4 272.2L149.5 272.4L149.5 272.7L149.6 273.0L149.6 273.2L149.7 273.5L149.7 273.8L149.8 274.0L149.8 274.3L149.8 274.6L149.9 274.9L149.9 275.2L150.0 275.5L150.0 275.8L150.1 276.1L150.1 276.5L150.1 276.8L150.2 277.1L150.2 277.5L150.3 277.8L150.3 278.2L150.3 278.5L150.4 278.9L150.4 279.3L150.5 279.6L150.5 280.0L150.5 280.4L150.6 280.8L150.6 281.1L150.6 281.5L150.7 281.9L150.7 282.3L150.8 282.7L150.8 283.1L150.8 283.5L150.9 283.9L150.9 284.3L150.9 284.7L151.0 285.1L151.0 285.5L151.0 285.9L151.1 286.4L151.1 286.8L151.2 287.2L151.2 287.6L151.2 288.0L151.3 288.4L151.3 288.8L151.3 289.2L151.4 289.6L151.4 290.1L151.4 290.5L151.5 290.9L151.5 291.3L151.5 291.7L151.6 292.1L151.6 292.5L151.6 292.9L151.7 293.4L151.7 293.8L151.7 294.2L151.8 294.6L151.8 295.0L151.8 295.5L151.9 295.9L151.9 296.3L151.9 296.7L152.0 297.1L152.0 297.6L152.0 298.0L152.0 298.4L152.1 298.9L152.1 299.3L152.1 299.7L152.2 300.1L152.2 300.6L152.2 301.0L152.2 301.5L152.3 301.9L152.3 302.3L152.3 302.8L152.3 303.2L152.3 303.7L152.4 304.1L152.4 304.6L152.4 305.0L152.4 305.5L152.4 306.0L152.5 306.4L152.5 306.9L152.5 307.3L152.5 307.8L152.5 308.3L152.6 308.7L152.6 309.2L152.6 309.7L152.6 310.1L152.6 310.6L152.6 311.1L152.6 311.5L152.7 312.0L152.7 312.5L152.7 312.9L152.7 313.4L152.7 313.9L152.7 314.3L152.8 314.8L152.8 315.3L152.8 315.7L152.8 316.2L152.8 316.6L152.8 317.1L152.8 317.6L152.9 318.0L152.9 318.5L152.9 318.9L152.9 319.4L152.9 319.8L152.9 320.3L153.0 320.7L153.0 321.2L153.0 321.6L153.0 322.0L153.0 322.5L153.1 322.9L153.1 323.3L153.1 323.8L153.1 324.2L153.1 324.6L153.2 325.0L153.2 325.4L153.2 325.8L153.2 326.3L153.3 326.7L153.3 327.1L153.3 327.4L153.3 327.8L153.3 328.2L153.4 328.6L153.4 329.0L153.4 329.4L153.4 329.7L153.4 330.1L153.4 330.4L153.5 330.8L153.5 331.2L153.5 331.5L153.5 331.8L153.5 332.2L153.5 332.5L153.5 332.8L153.5 333.1L153.5 333.4L153.5 333.7L153.5 334.0L153.6 334.3L153.6 334.6L153.6 334.9L153.6 335.2L153.6 335.4L153.6 335.6L153.6 335.9L153.6 336.1L153.7 336.3L153.7 336.4L153.7 336.6L153.8 336.7L153.9 336.8L153.9 336.9L154.0 337.0L154.1 337.0L154.2 337.0L154.4 337.0L154.5 337.0L154.6 336.9L154.8 336.9L154.9 336.8L155.1 336.7L155.3 336.6L155.4 336.4L155.6 336.3L155.8 336.2L156.0 336.0L156.1 335.9L156.3 335.8L156.5 335.6L156.6 335.5L156.8 335.4L156.9 335.2L157.1 335.1L157.2 335.0L157.4 334.9L157.5 334.8L157.7 334.7L157.8 334.5L157.9 334.4L158.1 334.3L158.2 334.1L158.4 334.0L158.5 333.9L158.6 333.7L158.8 333.6L158.9 333.4L159.1 333.2L159.2 333.0L159.4 332.8L159.5 332.6L159.7 332.4L159.8 332.2L160.0 331.9L160.1 331.7L160.3 331.4L160.5 331.2L160.6 330.9L160.8 330.6L161.0 330.3L161.1 330.1L161.3 329.8L161.5 329.5L161.6 329.1L161.8 328.8L162.0 328.5L162.1 328.2L162.3 327.8L162.5 327.5L162.6 327.2L162.8 326.8L162.9 326.5L163.1 326.1L163.3 325.7L163.4 325.4L163.6 325.0L163.7 324.6L163.9 324.3L164.0 323.9L164.1 323.5L164.3 323.1L164.4 322.7L164.6 322.3L164.7 321.9L164.8 321.5L165.0 321.1L165.1 320.7L165.2 320.3L165.4 319.9L165.5 319.5L165.6 319.1L165.7 318.6L165.9 318.2L166.0 317.8L166.1 317.4L166.2 316.9L166.3 316.5L166.4 316.1L166.6 315.6L166.7 315.2L166.8 314.7L166.9 314.3L167.0 313.8L167.1 313.4L167.2 312.9L167.3 312.5L167.4 312.0L167.5 311.6L167.6 311.1L167.7 310.7L167.8 310.2L167.9 309.7L168.0 309.3L168.1 308.8L168.2 308.3L168.3 307.9L168.4 307.4L168.5 306.9L168.6 306.4L168.7 306.0L168.8 305.5L168.9 305.0L169.0 304.5L169.1 304.1L169.2 303.6L169.3 303.1L169.3 302.6L169.4 302.2L169.5 301.7L169.6 301.2L169.7 300.8L169.8 300.3L169.9 299.8L170.0 299.3L170.0 298.9L170.1 298.4L170.2 297.9L170.3 297.5L170.4 297.0L170.4 296.6L170.5 296.1L170.6 295.7L170.7 295.2L170.8 294.8L170.8 294.3L170.9 293.9L171.0 293.4L171.1 293.0L171.1 292.6L171.2 292.2L171.3 291.7L171.3 291.3L171.4 290.9L171.5 290.5L171.6 290.1L171.6 289.7L171.7 289.3L171.8 288.9L171.8 288.5L171.9 288.1L172.0 287.7L172.0 287.3L172.1 286.9L172.2 286.6L172.2 286.2L172.3 285.8L172.4 285.4L172.4 285.1L172.5 284.7L172.6 284.3L172.6 284.0L172.7 283.6L172.8 283.3L172.8 282.9L172.9 282.5L173.0 282.2L173.0 281.8L173.1 281.5L173.2 281.1L173.2 280.8L173.3 280.4L173.4 280.1L173.4 279.7L173.5 279.4L173.6 279.0L173.7 278.7L173.7 278.3L173.8 278.0L173.9 277.6L174.0 277.3L174.1 277.0L174.1 276.7L174.2 276.4L174.3 276.1L174.4 275.8L174.5 275.5L174.5 275.3L174.6 275.0L174.7 274.8L174.8 274.6L174.9 274.5L174.9 274.3L175.0 274.2L175.1 274.1L175.2 274.0L175.3 274.0L175.4 274.0L175.4 274.0L175.5 274.1L175.6 274.2L175.7 274.3L175.7 274.4L175.8 274.6L175.9 274.8L176.0 275.0L176.0 275.2L176.1 275.5L176.2 275.8L176.3 276.1L176.3 276.4L176.4 276.7L176.5 277.0L176.5 277.4L176.6 277.7L176.7 278.1L176.7 278.4L176.8 278.8L176.8 279.2L176.9 279.6L176.9 280.0L177.0 280.4L177.0 280.8L177.1 281.2L177.1 281.6L177.2 282.0L177.2 282.4L177.3 282.8L177.3 283.2L177.4 283.6L177.4 284.1L177.5 284.5L177.5 284.9L177.5 285.4L177.6 285.8L177.6 286.2L177.7 286.7L177.7 287.1L177.7 287.6L177.8 288.0L177.8 288.5L177.8 288.9L177.9 289.4L177.9 289.9L177.9 290.3L178.0 290.8L178.0 291.3L178.0 291.7L178.1 292.2L178.1 292.7L178.1 293.1L178.2 293.6L178.2 294.1L178.2 294.6L178.3 295.0L178.3 295.5L178.3 296.0L178.4 296.5L178.4 297.0L178.4 297.4L178.4 297.9L178.5 298.4L178.5 298.9L178.5 299.4L178.6 299.9L178.6 300.3L178.6 300.8L178.7 301.3L178.7 301.8L178.7 302.3L178.8 302.8L178.8 303.2L178.8 303.7L178.9 304.2L178.9 304.7L178.9 305.2L178.9 305.7L179.0 306.1L179.0 306.6L179.0 307.1L179.1 307.6L179.1 308.0L179.1 308.5L179.1 309.0L179.2 309.5L179.2 309.9L179.2 310.4L179.2 310.9L179.2 311.3L179.3 311.8L179.3 312.3L179.3 312.7L179.3 313.2L179.3 313.6L179.4 314.1L179.4 314.5L179.4 315.0L179.4 315.4L179.4 315.8L179.4 316.3L179.5 316.7L179.5 317.2L179.5 317.6L179.5 318.0L179.5 318.4L179.5 318.9L179.5 319.3L179.5 319.7L179.5 320.1L179.6 320.5L179.6 320.9L179.6 321.3L179.6 321.7L179.6 322.1L179.6 322.5L179.6 322.8L179.6 323.2L179.6 323.6L179.7 324.0L179.7 324.3L179.7 324.7L179.7 325.0L179.7 325.4L179.7 325.7L179.8 326.1L179.8 326.4L179.8 326.7L179.8 327.0L179.9 327.4L179.9 327.7L179.9 328.0L180.0 328.3L180.0 328.6L180.0 328.9L180.1 329.2L180.1 329.4L180.2 329.7L180.2 330.0L180.3 330.3L180.3 330.5L180.4 330.8L180.4 331.0L180.5 331.3L180.5 331.5L180.6 331.8L180.7 332.0L180.8 332.3L180.8 332.5L180.9 332.7L181.0 333.0L181.1 333.2L181.2 333.4L181.3 333.6L181.4 333.9L181.5 334.1L181.7 334.3L181.8 334.5L181.9 334.7L182.0 334.9L182.1 335.1L182.3 335.4L182.4 335.6L182.5 335.8L182.7 336.0L182.8 336.2L182.9 336.5L183.1 336.7L183.2 336.9L183.3 337.1L183.4 337.4L183.6 337.6L183.7 337.8L183.8 338.1L183.9 338.3L184.0 338.6L184.1 338.8L184.2 339.1L184.3 339.3L184.4 339.6L184.5 339.9L184.6 340.2L184.7 340.4L184.7 340.7L184.8 341.0L184.9 341.3L184.9 341.6L185.0 341.9L185.1 342.2L185.1 342.5L185.2 342.8L185.2 343.1L185.3 343.4L185.4 343.7L185.4 344.0L185.5 344.3L185.5 344.6L185.5 344.9L185.6 345.2L185.6 345.6L185.7 345.9L185.7 346.2L185.8 346.5L185.8 346.8L185.9 347.1L185.9 347.4L185.9 347.8L186.0 348.1L186.0 348.4L186.1 348.7L186.1 349.0L186.1 349.3L186.2 349.6L186.2 349.9L186.2 350.2L186.3 350.5L186.3 350.8L186.3 351.2L186.4 351.5L186.4 351.8L186.4 352.1L186.4 352.4L186.4 352.6L186.5 352.9L186.5 353.2L186.5 353.5L186.5 353.8L186.5 354.1L186.5 354.4L186.5 354.7L186.5 354.9L186.5 355.2L186.5 355.5L186.5 355.8L186.5 356.0L186.5 356.3L186.4 356.6L186.4 356.8L186.4 357.1L186.4 357.3L186.4 357.6L186.3 357.9L186.3 358.1L186.3 358.4L186.3 358.6L186.2 358.9L186.2 359.1L186.2 359.4L186.1 359.7L186.1 359.9L186.1 360.2L186.0 360.4L186.0 360.7L186.0 360.9L185.9 361.2L185.9 361.4L185.9 361.7L185.8 361.9L185.8 362.2L185.7 362.5L185.7 362.7L185.6 363.0L185.6 363.3L185.5 363.5L185.5 363.8L185.4 364.1L185.3 364.4L185.3 364.6L185.2 364.9L185.1 365.2L185.1 365.5L185.0 365.8L184.9 366.1L184.8 366.4L184.7 366.8L184.6 367.1L184.5 367.4L184.4 367.7L184.3 368.1L184.2 368.4L184.1 368.8L184.0 369.1L183.9 369.5L183.7 369.8L183.6 370.2L183.5 370.5L183.4 370.9L183.2 371.3L183.1 371.6L182.9 372.0L182.8 372.4L182.6 372.7L182.5 373.1L182.3 373.4L182.1 373.8L182.0 374.2L181.8 374.5L181.6 374.9L181.5 375.2L181.3 375.6L181.1 375.9L180.9 376.3L180.7 376.6L180.5 376.9L180.3 377.2L180.1 377.6L179.9 377.9L179.7 378.2L179.5 378.5L179.3 378.8L179.1 379.1L178.8 379.4L178.6 379.7L178.4 380.0L178.2 380.2L177.9 380.5L177.7 380.8L177.5 381.0L177.2 381.3L177.0 381.5L176.7 381.8L176.5 382.0L176.2 382.3L176.0 382.5L175.7 382.7L175.5 383.0L175.2 383.2L174.9 383.4L174.7 383.6L174.4 383.9L174.1 384.1L173.8 384.3L173.6 384.5L173.3 384.7L173.0 384.9L172.7 385.1L172.4 385.3L172.1 385.5L171.8 385.7L171.5 385.9L171.2 386.1L170.9 386.3L170.6 386.5L170.3 386.7L170.0 386.8L169.7 387.0L169.4 387.2L169.1 387.4L168.8 387.6L168.4 387.7L168.1 387.9L167.8 388.1L167.5 388.2L167.1 388.4L166.8 388.5L166.5 388.7L166.1 388.8L165.8 389.0L165.5 389.1L165.1 389.3L164.8 389.4L164.5 389.6L164.1 389.7L163.8 389.8L163.4 389.9L163.1 390.1L162.7 390.2L162.4 390.3L162.0 390.4L161.7 390.5L161.3 390.6L161.0 390.7L160.6 390.8L160.3 390.9L159.9 391.0L159.5 391.1L159.2 391.1L158.8 391.2L158.4 391.3L158.1 391.4L157.7 391.4L157.3 391.5L156.9 391.6L156.6 391.6L156.2 391.7L155.8 391.7L155.4 391.8L155.0 391.8L154.7 391.9L154.3 391.9L153.9 392.0L153.5 392.0L153.1 392.1L152.7 392.1L152.3 392.1L151.9 392.2L151.5 392.2L151.1 392.2L150.7 392.3L150.2 392.3L149.8 392.3L149.4 392.3L149.0 392.4L148.6 392.4L148.1 392.4L147.7 392.4L147.3 392.4L146.8 392.4L146.4 392.5L146.0 392.5L145.5 392.5L145.1 392.5L144.6 392.5L144.2 392.5L143.7 392.5L143.2 392.6L142.8 392.6L142.3 392.6L141.8 392.6L141.4 392.6L140.9 392.6L140.4 392.6L139.9 392.6L139.4 392.6L139.0 392.6L138.5 392.6L138.0 392.7L137.5 392.7L136.9 392.7L136.4 392.7L135.9 392.7L135.4 392.7L134.9 392.7L134.4 392.7L133.8 392.8L133.3 392.8L132.8 392.8L132.2 392.8L131.7 392.8L131.1 392.9L130.6 392.9L130.0 392.9" transform="translate(147.20,-224.20)" fill="none" stroke="#c556b4" stroke-width="2.5" stroke-linejoin="round"/><text x="346.2" y="38.4" class="mu" textLength="56" lengthAdjust="spacingAndGlyphs"><tspan class="mi">μ</tspan> = 0.01</text>
</g>
<g transform="translate(127.80,224.20)">
<path d="M181.90 20.90V115.60M186.50 21.50V115.60M191.10 22.10V115.60M195.70 22.70V115.60M200.30 23.20V115.60M204.90 23.80V115.60M209.50 24.40V115.60M214.10 25.00V115.60M218.70 25.50V115.60M223.30 26.10V115.60M227.90 26.80V115.60M232.50 27.40V115.60M237.10 28.00V115.60M241.70 28.70V115.60M246.30 29.40V115.60M250.90 30.10V115.60M255.50 30.90V115.60M260.10 31.60V115.50M264.70 32.30V115.40M269.30 33.00V115.00M273.90 33.80V114.70M278.50 34.80V114.40M283.10 36.00V114.20M287.70 37.30V113.90M292.30 38.70V113.50M296.90 40.10V113.10M301.50 41.60V112.40M306.10 43.20V111.70M310.70 44.60V110.70M315.30 46.40V109.90M319.90 48.30V108.90M324.50 50.10V107.30M329.10 52.50V105.30M333.70 55.40V103.80M338.30 58.20V101.20M342.90 61.10V98.60M347.50 64.40V95.80M352.10 69.20V92.10M356.70 74.00V87.10" stroke="#a1a3a8" stroke-width="1.85" fill="none"/>
<rect x="177.80" y="18.95" width="238.60" height="169.95" fill="none" stroke="#262223" stroke-width="1.4"/>
<path d="M177.80 51.30h2.6M177.80 88.80h2.6M177.80 126.30h2.6M177.80 163.80h2.6M183.80 188.90v-2.6M257.30 188.90v-2.6M330.80 188.90v-2.6M404.40 188.90v-2.6" stroke="#262223" stroke-width="1" fill="none"/>
<text x="172.8" y="55.2" text-anchor="end" class="t">1</text>
<text x="172.8" y="92.7" text-anchor="end" class="t">0</text>
<text x="172.8" y="130.2" text-anchor="end" class="t">–1</text>
<text x="172.8" y="167.7" text-anchor="end" class="t">–2</text>
<text x="183.8" y="201.9" text-anchor="middle" class="t">0.5</text>
<text x="257.3" y="201.9" text-anchor="middle" class="t">1.5</text>
<text x="330.8" y="201.9" text-anchor="middle" class="t">2.5</text>
<text x="404.4" y="201.9" text-anchor="middle" class="t">3.5</text>
<text x="154.2" y="16.3" class="L">C</text>
<text x="296.2" y="210.8" text-anchor="middle" class="ai">z</text>
<text transform="translate(154.2,104.2) rotate(-90)" text-anchor="middle" class="ai">x</text>
<g fill="none" stroke-width="2.0" stroke-linecap="butt" stroke-linejoin="round">
<path d="M404.4 181.7L402.4 181.5L400.5 181.4L398.5 181.2L396.5 181.0L394.6 180.9L392.6 180.7L390.6 180.5L388.7 180.4L386.7 180.2L384.7 180.0L382.8 179.9L380.8 179.7L378.8 179.5L376.8 179.4L374.8 179.2L372.8 179.0L370.8 178.9L368.8 178.7L366.8 178.5L364.8 178.4L362.9 178.2L361.0 178.0L359.2 177.9L357.3 177.7L355.5 177.5L353.7 177.4L351.9 177.2L350.1 177.0L348.3 176.9L346.6 176.7L344.9 176.6L343.2 176.4L341.6 176.2L339.9 176.1L338.4 175.9L336.9 175.7L335.4 175.6L334.0 175.4L332.6 175.2L331.2 175.1L329.8 174.9L328.4 174.7L327.0 174.6L325.5 174.4L324.1 174.2L322.6 174.1L321.1 173.9L319.5 173.7L317.8 173.6L316.1 173.4L314.3 173.2L312.5 173.1L310.7 172.9L309.0 172.7L307.4 172.6L305.9 172.4L304.5 172.2L303.2 172.1L302.0 171.9L300.8 171.7L299.6 171.6L298.5 171.4L297.4 171.2L296.3 171.1L295.2 170.9L294.1 170.7L293.0 170.6L292.0 170.4L291.0 170.2L289.9 170.1L288.9 169.9L287.9 169.7L286.8 169.6L285.8 169.4L284.7 169.2L283.6 169.1L282.4 168.9L281.3 168.7L280.2 168.6L279.0 168.4L277.9 168.2L276.8 168.1L275.7 167.9L274.6 167.7L273.5 167.6L272.4 167.4L271.3 167.3L270.3 167.1L269.2 166.9L268.2 166.8L267.2 166.6L266.2 166.4L265.2 166.3L264.3 166.1L263.4 165.9L262.6 165.8L261.7 165.6L260.9 165.4L260.1 165.3L259.3 165.1L258.5 164.9L257.7 164.8L256.9 164.6L256.1 164.4L255.4 164.3L254.6 164.1L253.8 163.9L253.0 163.8L252.2 163.6L251.4 163.4L250.6 163.3L249.7 163.1L248.9 162.9L248.1 162.8L247.3 162.6L246.5 162.4L245.6 162.3L244.8 162.1L244.1 161.9L243.3 161.8L242.5 161.6L241.8 161.4L241.0 161.3L240.3 161.1L239.6 160.9L238.9 160.8L238.1 160.6L237.4 160.4L236.8 160.3L236.1 160.1L235.5 159.9L234.8 159.8L234.2 159.6L233.7 159.4L233.1 159.3L232.5 159.1L231.9 158.9L231.4 158.8L230.8 158.6L230.3 158.4L229.8 158.3L229.3 158.1L228.8 157.9L228.3 157.8L227.8 157.6L227.3 157.5L226.9 157.3L226.5 157.1L226.0 157.0L225.6 156.8L225.2 156.6L224.9 156.5L224.5 156.3L224.2 156.1L223.8 156.0L223.5 155.8L223.2 155.6L222.9 155.5L222.6 155.3L222.3 155.1L222.0 155.0L221.7 154.8L221.5 154.6L221.2 154.5L221.0 154.3L220.8 154.1L220.5 154.0L220.3 153.8L220.1 153.6L219.9 153.5L219.7 153.3L219.5 153.1L219.3 153.0L219.1 152.8L219.0 152.6L218.8 152.5L218.6 152.3L218.5 152.1L218.3 152.0L218.2 151.8L218.1 151.6L217.9 151.5L217.8 151.3L217.7 151.1L217.6 151.0L217.5 150.8L217.4 150.6L217.3 150.5L217.2 150.3L217.1 150.1L217.0 150.0L217.0 149.8L217.0 149.6L216.9 149.5L216.9 149.3L216.9 149.1L216.8 149.0L216.8 148.8L216.8 148.6L216.8 148.5L216.8 148.3L216.8 148.2" stroke="#6cbd45"/>
<path d="M358.7 80.4L359.0 80.6L359.3 80.7L359.6 80.9L359.9 81.1L360.2 81.2L360.4 81.4L360.7 81.6L360.9 81.7L361.1 81.9L361.4 82.0L361.6 82.2L361.8 82.4L362.0 82.5L362.3 82.7L362.5 82.9L362.7 83.0L363.0 83.2L363.2 83.4L363.4 83.5L363.6 83.7L363.8 83.9L364.0 84.0L364.2 84.2L364.4 84.3L364.6 84.5L364.8 84.7L365.0 84.8L365.2 85.0L365.4 85.2L365.5 85.3L365.7 85.5L365.9 85.7L366.0 85.8L366.2 86.0L366.4 86.2L366.5 86.3L366.7 86.5L366.8 86.6L366.9 86.8L367.0 87.0L367.1 87.1L367.1 87.3L367.2 87.5L367.3 87.6L367.4 87.8L367.4 88.0L367.5 88.1L367.5 88.3L367.5 88.5" stroke="#6cbd45"/>
<path d="M176.4 56.0L178.2 56.2L180.1 56.3L181.9 56.5L183.7 56.7L185.6 56.8L187.4 57.0L189.3 57.2L191.1 57.3L193.0 57.5L194.8 57.7L196.7 57.8L198.5 58.0L200.4 58.2L202.2 58.3L204.1 58.5L206.0 58.7L207.8 58.8L209.7 59.0L211.6 59.2L213.4 59.3L215.3 59.5L217.2 59.7L219.1 59.8L221.0 60.0L222.9 60.1L224.8 60.3L226.7 60.5L228.6 60.6L230.6 60.8L232.6 61.0L234.5 61.1L236.5 61.3L238.5 61.5L240.4 61.6L242.4 61.8L244.4 62.0L246.3 62.1L248.3 62.3L250.2 62.5L252.1 62.6L254.0 62.8L255.9 63.0L257.8 63.1L259.6 63.3L261.4 63.5L263.2 63.6L265.0 63.8L266.7 64.0L268.4 64.1L270.1 64.3L271.9 64.5L273.5 64.6L275.2 64.8L276.8 65.0L278.4 65.1L280.0 65.3L281.5 65.5L282.9 65.6L284.2 65.8L285.5 66.0L286.8 66.1L288.0 66.3L289.2 66.5L290.3 66.6L291.5 66.8L292.5 67.0L293.6 67.1L294.7 67.3L295.7 67.5L296.7 67.6L297.8 67.8L298.8 68.0L299.8 68.1L300.8 68.3L301.8 68.4L302.8 68.6L303.8 68.8L304.8 68.9L305.8 69.1L306.8 69.3L307.7 69.4L308.7 69.6L309.6 69.8L310.6 69.9L311.5 70.1L312.4 70.3L313.4 70.4L314.3 70.6L315.2 70.8L316.1 70.9L317.1 71.1L318.0 71.3L318.9 71.4L319.9 71.6L320.8 71.8L321.8 71.9L322.7 72.1L323.7 72.3L324.7 72.4L325.7 72.6L326.7 72.8L327.6 72.9L328.6 73.1L329.6 73.3L330.6 73.4L331.6 73.6L332.5 73.8L333.5 73.9L334.4 74.1L335.4 74.3L336.3 74.4L337.2 74.6L338.1 74.8L339.0 74.9L339.9 75.1L340.7 75.3L341.6 75.4L342.4 75.6L343.3 75.8L344.1 75.9L344.9 76.1L345.7 76.3L346.4 76.4L347.1 76.6L347.8 76.7L348.4 76.9L349.0 77.1L349.6 77.2L350.2 77.4L350.7 77.6L351.2 77.7L351.8 77.9L352.3 78.1L352.7 78.2L353.2 78.4L353.7 78.6L354.2 78.7L354.7 78.9L355.2 79.1L355.6 79.2L356.1 79.4L356.6 79.6L357.1 79.7L357.5 79.9L358.0 80.1L358.3 80.2L358.7 80.4" stroke="#ee1c25"/>
<path d="M367.5 88.5L367.5 88.6L367.5 88.8L367.4 88.9L367.4 89.1L367.4 89.3L367.3 89.4L367.3 89.6L367.2 89.8L367.1 89.9L367.1 90.1L367.0 90.3L366.9 90.4L366.9 90.6L366.8 90.8L366.7 90.9L366.6 91.1L366.4 91.3L366.3 91.4L366.2 91.6L366.1 91.8L365.9 91.9L365.8 92.1L365.6 92.3L365.5 92.4L365.3 92.6L365.1 92.8L364.9 92.9L364.7 93.1L364.5 93.3L364.3 93.4L364.1 93.6L363.8 93.8L363.6 93.9L363.4 94.1L363.1 94.3L362.9 94.4L362.6 94.6L362.4 94.8L362.1 94.9L361.8 95.1L361.6 95.3L361.3 95.4L361.0 95.6L360.8 95.8L360.5 95.9L360.2 96.1L359.9 96.3L359.6 96.4L359.3 96.6L358.9 96.8L358.6 96.9L358.3 97.1L358.0 97.3L357.7 97.4L357.3 97.6L357.0 97.8L356.6 97.9L356.3 98.1L355.9 98.3L355.6 98.4L355.2 98.6L354.9 98.8L354.5 98.9L354.1 99.1L353.7 99.3L353.3 99.4L353.0 99.6L352.6 99.8L352.1 99.9L351.7 100.1L351.3 100.3L350.9 100.4L350.5 100.6L350.0 100.8L349.6 100.9L349.2 101.1L348.7 101.3L348.3 101.4L347.9 101.6L347.4 101.8L347.0 101.9L346.5 102.1L346.1 102.3L345.7 102.4L345.2 102.6L344.8 102.8L344.3 102.9L343.9 103.1L343.4 103.3L343.0 103.4L342.5 103.6L342.0 103.7L341.6 103.9L341.1 104.1L340.6 104.2L340.1 104.4L339.7 104.6L339.2 104.7L338.7 104.9L338.2 105.1L337.6 105.2L337.1 105.4L336.6 105.6L336.1 105.7L335.6 105.9L335.0 106.1L334.5 106.2L333.9 106.4L333.4 106.6L332.8 106.7L332.3 106.9L331.7 107.1L331.2 107.2L330.6 107.4L330.0 107.6L329.5 107.7L328.9 107.9L328.3 108.1L327.7 108.2L327.1 108.4L326.6 108.6L326.0 108.7L325.4 108.9L324.8 109.1L324.2 109.2L323.6 109.4L323.0 109.6L322.4 109.7L321.8 109.9L321.2 110.1L320.6 110.2L320.0 110.4L319.3 110.6L318.7 110.7L318.1 110.9L317.4 111.1L316.8 111.2L316.2 111.4L315.5 111.6L314.9 111.7L314.3 111.9L313.6 112.1L313.0 112.2L312.4 112.4L311.7 112.6L311.1 112.7L310.5 112.9L309.9 113.1L309.3 113.2L308.7 113.4L308.1 113.6L307.5 113.7L306.9 113.9L306.3 114.1L305.7 114.2L305.1 114.4L304.5 114.6L304.0 114.7L303.4 114.9L302.8 115.1L302.2 115.2L301.6 115.4L301.1 115.6L300.5 115.7L299.9 115.9L299.3 116.1L298.7 116.2L298.2 116.4L297.6 116.6L297.0 116.7L296.5 116.9L295.9 117.1L295.3 117.2L294.8 117.4L294.2 117.6L293.6 117.7L293.1 117.9L292.5 118.1L292.0 118.2L291.4 118.4L290.9 118.5L290.3 118.7L289.8 118.9L289.2 119.0L288.7 119.2L288.1 119.4L287.6 119.5L287.1 119.7L286.5 119.9L286.0 120.0L285.4 120.2L284.9 120.4L284.3 120.5L283.8 120.7L283.2 120.9L282.6 121.0L282.1 121.2L281.5 121.4L280.9 121.5L280.3 121.7L279.7 121.9L279.1 122.0L278.5 122.2L277.9 122.4L277.3 122.5L276.6 122.7L276.0 122.9L275.4 123.0L274.7 123.2L274.1 123.4L273.4 123.5L272.8 123.7L272.1 123.9L271.4 124.0L270.8 124.2L270.1 124.4L269.5 124.5L268.9 124.7L268.2 124.9L267.6 125.0L267.0 125.2L266.3 125.4L265.7 125.5L265.1 125.7L264.5 125.9L264.0 126.0L263.4 126.2L262.8 126.4L262.2 126.5L261.6 126.7L261.1 126.9L260.5 127.0L259.9 127.2L259.4 127.4L258.8 127.5L258.2 127.7L257.7 127.9L257.1 128.0L256.5 128.2L256.0 128.4L255.4 128.5L254.8 128.7L254.3 128.9L253.7 129.0L253.1 129.2L252.5 129.4L252.0 129.5L251.4 129.7L250.8 129.9L250.2 130.0L249.7 130.2L249.1 130.4L248.5 130.5L248.0 130.7L247.4 130.9L246.9 131.0L246.4 131.2L245.9 131.4L245.3 131.5L244.8 131.7L244.3 131.9L243.8 132.0L243.3 132.2L242.8 132.4L242.3 132.5L241.9 132.7L241.4 132.9L240.9 133.0L240.4 133.2L240.0 133.3L239.5 133.5L239.0 133.7L238.6 133.8L238.1 134.0L237.7 134.2L237.3 134.3L236.8 134.5L236.4 134.7L235.9 134.8L235.5 135.0L235.1 135.2L234.7 135.3L234.3 135.5L233.9 135.7L233.5 135.8L233.1 136.0L232.7 136.2L232.3 136.3L231.9 136.5L231.5 136.7L231.1 136.8L230.7 137.0L230.4 137.2L230.0 137.3L229.6 137.5L229.3 137.7L228.9 137.8L228.6 138.0L228.2 138.2L227.9 138.3L227.5 138.5L227.2 138.7L226.9 138.8L226.5 139.0L226.2 139.2L225.9 139.3L225.5 139.5L225.2 139.7L224.9 139.8L224.6 140.0L224.3 140.2L224.0 140.3L223.7 140.5L223.4 140.7L223.1 140.8L222.9 141.0L222.6 141.2L222.3 141.3L222.0 141.5L221.8 141.7L221.5 141.8L221.3 142.0L221.0 142.2L220.8 142.3L220.6 142.5L220.4 142.7L220.2 142.8L220.0 143.0L219.8 143.2L219.6 143.3L219.4 143.5L219.3 143.7L219.1 143.8L218.9 144.0L218.8 144.2L218.6 144.3L218.5 144.5L218.3 144.7L218.2 144.8L218.0 145.0L217.9 145.2L217.8 145.3L217.6 145.5L217.5 145.7L217.4 145.8L217.3 146.0L217.2 146.2L217.1 146.3L217.0 146.5L217.0 146.7L216.9 146.8L216.9 147.0L216.9 147.2L216.8 147.3L216.8 147.5L216.8 147.7L216.8 147.8L216.8 148.0L216.8 148.2" stroke="#ee1c25"/>
</g>
<path d="M455.0 399.9L454.6 399.9L454.2 399.8L453.8 399.8L453.5 399.7L453.1 399.7L452.7 399.7L452.3 399.6L451.9 399.6L451.5 399.5L451.2 399.5L450.8 399.5L450.4 399.4L450.0 399.4L449.6 399.3L449.2 399.3L448.8 399.2L448.4 399.2L448.1 399.2L447.7 399.1L447.3 399.1L446.9 399.0L446.5 399.0L446.1 399.0L445.7 398.9L445.3 398.9L445.0 398.8L444.6 398.8L444.2 398.8L443.8 398.7L443.4 398.7L443.0 398.6L442.6 398.6L442.2 398.5L441.8 398.5L441.5 398.5L441.1 398.4L440.7 398.4L440.3 398.3L439.9 398.3L439.5 398.2L439.1 398.2L438.7 398.2L438.3 398.1L438.0 398.1L437.6 398.0L437.2 398.0L436.8 397.9L436.4 397.9L436.0 397.9L435.6 397.8L435.2 397.8L434.8 397.7L434.5 397.7L434.1 397.6L433.7 397.6L433.3 397.5L432.9 397.5L432.5 397.4L432.1 397.4L431.7 397.4L431.4 397.3L431.0 397.3L430.6 397.2L430.2 397.2L429.8 397.1L429.4 397.1L429.0 397.0L428.7 397.0L428.3 396.9L427.9 396.9L427.5 396.8L427.1 396.8L426.7 396.7L426.3 396.7L426.0 396.6L425.6 396.6L425.2 396.5L424.8 396.5L424.4 396.4L424.0 396.4L423.7 396.3L423.3 396.3L422.9 396.2L422.5 396.2L422.1 396.1L421.7 396.1L421.4 396.0L421.0 395.9L420.6 395.9L420.2 395.8L419.8 395.8L419.4 395.7L419.0 395.7L418.7 395.6L418.3 395.6L417.9 395.5L417.5 395.4L417.1 395.4L416.7 395.3L416.3 395.3L415.9 395.2L415.5 395.1L415.1 395.1L414.7 395.0L414.3 394.9L413.9 394.9L413.5 394.8L413.1 394.8L412.7 394.7L412.2 394.6L411.8 394.6L411.4 394.5L411.0 394.4L410.6 394.4L410.1 394.3L409.7 394.2L409.3 394.1L408.8 394.1L408.4 394.0L408.0 393.9L407.5 393.9L407.1 393.8L406.6 393.7L406.2 393.6L405.7 393.6L405.3 393.5L404.8 393.4L404.4 393.3L403.9 393.3L403.4 393.2L403.0 393.1L402.5 393.0L402.1 393.0L401.6 392.9L401.2 392.8L400.7 392.7L400.2 392.6L399.8 392.6L399.3 392.5L398.9 392.4L398.4 392.3L398.0 392.3L397.5 392.2L397.1 392.1L396.7 392.1L396.2 392.0L395.8 391.9L395.4 391.8L394.9 391.8L394.5 391.7L394.1 391.6L393.7 391.6L393.3 391.5L392.9 391.4L392.5 391.4L392.1 391.3L391.7 391.3L391.3 391.2L390.9 391.1L390.5 391.1L390.1 391.0L389.8 391.0L389.4 390.9L389.1 390.9L388.7 390.8L388.4 390.8L388.0 390.7L387.7 390.7L387.4 390.6L387.0 390.6L386.7 390.5L386.4 390.5L386.1 390.4L385.8 390.4L385.5 390.4L385.2 390.3L384.9 390.3L384.6 390.2L384.3 390.2L384.0 390.1L383.7 390.1L383.4 390.0L383.1 390.0L382.8 390.0L382.5 389.9L382.2 389.9L381.9 389.8L381.6 389.8L381.3 389.7L381.0 389.7L380.6 389.6L380.3 389.6L380.0 389.5L379.7 389.4L379.4 389.4L379.1 389.3L378.8 389.3L378.4 389.2L378.1 389.1L377.8 389.1L377.5 389.0L377.1 389.0L376.8 388.9L376.5 388.8L376.1 388.8L375.8 388.7L375.5 388.6L375.1 388.6L374.8 388.5L374.5 388.4L374.1 388.3L373.8 388.3L373.5 388.2L373.2 388.1L372.8 388.1L372.5 388.0L372.2 387.9L371.9 387.9L371.5 387.8L371.2 387.8L370.9 387.7L370.6 387.6L370.3 387.6L370.0 387.5L369.7 387.5L369.4 387.4L369.1 387.3L368.8 387.3L368.5 387.2L368.2 387.2L367.9 387.1L367.6 387.1L367.3 387.0L367.1 387.0L366.8 386.9L366.5 386.9L366.3 386.8L366.0 386.8L365.7 386.7L365.5 386.7L365.2 386.7L364.9 386.6L364.7 386.6L364.4 386.5L364.1 386.5L363.9 386.4L363.6 386.4L363.4 386.3L363.1 386.2L362.8 386.2L362.6 386.1L362.3 386.1L362.1 386.0L361.8 386.0L361.5 385.9L361.3 385.8L361.0 385.8L360.8 385.7L360.5 385.6L360.2 385.5L360.0 385.5L359.7 385.4L359.4 385.3L359.2 385.2L358.9 385.2L358.6 385.1L358.4 385.0L358.1 384.9L357.8 384.8L357.6 384.7L357.3 384.7L357.0 384.6L356.8 384.5L356.5 384.4L356.2 384.3L356.0 384.2L355.7 384.1L355.4 384.0L355.2 383.9L354.9 383.8L354.7 383.7L354.4 383.6L354.1 383.5L353.9 383.4L353.6 383.3L353.3 383.2L353.1 383.1L352.8 383.0L352.6 382.9L352.3 382.8L352.0 382.7L351.8 382.6L351.5 382.5L351.3 382.4L351.0 382.3L350.7 382.2L350.5 382.1L350.2 382.0L350.0 381.9L349.7 381.8L349.4 381.7L349.2 381.6L348.9 381.5L348.6 381.3L348.4 381.2L348.1 381.1L347.9 381.0L347.6 380.9L347.3 380.8L347.1 380.7L346.8 380.6L346.5 380.4L346.3 380.3L346.0 380.2L345.7 380.1L345.4 380.0L345.2 379.9L344.9 379.7L344.6 379.6L344.4 379.5L344.1 379.4L343.8 379.3L343.6 379.1L343.3 379.0L343.1 378.9L342.8 378.8L342.5 378.7L342.3 378.5L342.0 378.4L341.8 378.3L341.5 378.1L341.3 378.0L341.0 377.9L340.8 377.7L340.6 377.6L340.3 377.5L340.1 377.3L339.8 377.2L339.6 377.1L339.4 376.9L339.2 376.8L339.0 376.7L338.7 376.5L338.5 376.4L338.3 376.2L338.1 376.1L337.9 375.9L337.7 375.8L337.5 375.6L337.3 375.5L337.1 375.3L336.9 375.2L336.8 375.0L336.6 374.8L336.4 374.7L336.2 374.5L336.1 374.3L335.9 374.2L335.7 374.0L335.6 373.8L335.4 373.7L335.3 373.5L335.1 373.3L335.0 373.1L334.9 372.9L334.7 372.7L334.6 372.5L334.5 372.4L334.3 372.2L334.2 372.0L334.1 371.8L334.0 371.6L333.9 371.4L333.8 371.2L333.7 371.0L333.6 370.8L333.5 370.6L333.4 370.3L333.3 370.1L333.2 369.9L333.1 369.7L333.1 369.5L333.0 369.3L332.9 369.1L332.9 368.9L332.8 368.7L332.7 368.4L332.7 368.2L332.6 368.0L332.6 367.8L332.5 367.6L332.5 367.4L332.5 367.1L332.4 366.9L332.4 366.7L332.4 366.5L332.3 366.3L332.3 366.0L332.3 365.8L332.3 365.6L332.3 365.4L332.2 365.1L332.2 364.9L332.2 364.7L332.2 364.4L332.2 364.2L332.2 364.0L332.2 363.7L332.2 363.5L332.2 363.2L332.2 363.0L332.2 362.7L332.2 362.5L332.2 362.2L332.2 362.0L332.3 361.7L332.3 361.5L332.3 361.2L332.3 361.0L332.3 360.7L332.3 360.5L332.4 360.2L332.4 360.0L332.4 359.8L332.4 359.5L332.5 359.3L332.5 359.0L332.5 358.8L332.5 358.5L332.6 358.3L332.6 358.1L332.6 357.8L332.6 357.6L332.7 357.4L332.7 357.1L332.7 356.9L332.8 356.7L332.8 356.4L332.8 356.2L332.9 356.0L332.9 355.8L332.9 355.5L332.9 355.3L333.0 355.1L333.0 354.8L333.0 354.6L333.1 354.3L333.1 354.1L333.2 353.8L333.2 353.6L333.2 353.3L333.3 353.1L333.3 352.8L333.3 352.5L333.4 352.2L333.4 351.9L333.4 351.6L333.5 351.3L333.5 351.0L333.6 350.7L333.6 350.4L333.6 350.1L333.7 349.7L333.7 349.4L333.8 349.1L333.8 348.7L333.9 348.4L333.9 348.0L333.9 347.6L334.0 347.3L334.0 346.9L334.1 346.5L334.1 346.1L334.2 345.8L334.2 345.4L334.2 345.0L334.3 344.6L334.3 344.2L334.4 343.8L334.4 343.4L334.5 343.0L334.5 342.6L334.6 342.2L334.6 341.7L334.6 341.3L334.7 340.9L334.7 340.5L334.8 340.1L334.8 339.6L334.8 339.2L334.9 338.8L334.9 338.4L335.0 337.9L335.0 337.5L335.0 337.1L335.1 336.6L335.1 336.2L335.2 335.8L335.2 335.3L335.2 334.9L335.3 334.5L335.3 334.1L335.3 333.6L335.4 333.2L335.4 332.8L335.4 332.3L335.5 331.9L335.5 331.4L335.5 331.0L335.6 330.6L335.6 330.1L335.6 329.7L335.7 329.3L335.7 328.8L335.7 328.4L335.8 328.0L335.8 327.5L335.8 327.1L335.8 326.7L335.9 326.2L335.9 325.8L335.9 325.4L336.0 324.9L336.0 324.5L336.0 324.0L336.0 323.6L336.1 323.2L336.1 322.7L336.1 322.3L336.1 321.9L336.2 321.4L336.2 321.0L336.2 320.6L336.2 320.1L336.3 319.7L336.3 319.3L336.3 318.8L336.3 318.4L336.3 318.0L336.4 317.5L336.4 317.1L336.4 316.7L336.4 316.2L336.4 315.8L336.5 315.4L336.5 314.9L336.5 314.5L336.5 314.1L336.5 313.6L336.6 313.2L336.6 312.8L336.6 312.4L336.6 311.9L336.6 311.5L336.6 311.1L336.7 310.6L336.7 310.2L336.7 309.8L336.7 309.3L336.7 308.9L336.7 308.5L336.8 308.0L336.8 307.6L336.8 307.2L336.8 306.7L336.8 306.3L336.8 305.9L336.8 305.4L336.9 305.0L336.9 304.6L336.9 304.1L336.9 303.7L336.9 303.2L336.9 302.8L336.9 302.4L336.9 301.9L337.0 301.5L337.0 301.0L337.0 300.6L337.0 300.1L337.0 299.7L337.0 299.3L337.0 298.8L337.0 298.4L337.1 297.9L337.1 297.5L337.1 297.0L337.1 296.6L337.1 296.1L337.1 295.7L337.1 295.2L337.1 294.7L337.1 294.3L337.1 293.8L337.1 293.4L337.2 292.9L337.2 292.5L337.2 292.0L337.2 291.6L337.2 291.1L337.2 290.7L337.2 290.2L337.2 289.8L337.2 289.3L337.2 288.9L337.2 288.4L337.3 288.0L337.3 287.5L337.3 287.1L337.3 286.6L337.3 286.2L337.3 285.7L337.3 285.3L337.3 284.8L337.3 284.4L337.3 283.9L337.3 283.5L337.3 283.0L337.3 282.6L337.4 282.2L337.4 281.7L337.4 281.3L337.4 280.8L337.4 280.4L337.4 280.0L337.4 279.5L337.4 279.1L337.4 278.7L337.4 278.2L337.4 277.8L337.5 277.4L337.5 277.0L337.5 276.5L337.5 276.1L337.5 275.7L337.5 275.3L337.5 274.9L337.5 274.5L337.5 274.0L337.5 273.6L337.6 273.2L337.6 272.8L337.6 272.4L337.6 272.0L337.6 271.6L337.6 271.2L337.6 270.8L337.6 270.4L337.7 270.0L337.7 269.6L337.7 269.2L337.7 268.8L337.7 268.5L337.7 268.1L337.7 267.7L337.8 267.3L337.8 266.9L337.8 266.5L337.8 266.2L337.8 265.8L337.8 265.4L337.8 265.0L337.9 264.7L337.9 264.3L337.9 263.9L337.9 263.6L337.9 263.2L338.0 262.9L338.0 262.5L338.0 262.1L338.0 261.8L338.0 261.4L338.1 261.1L338.1 260.8L338.1 260.4L338.1 260.1L338.2 259.7L338.2 259.4L338.2 259.1L338.2 258.8L338.2 258.4L338.3 258.1L338.3 257.8L338.3 257.5L338.3 257.2L338.4 256.9L338.4 256.6L338.4 256.3L338.4 256.0L338.5 255.7L338.5 255.4L338.5 255.2L338.5 254.9L338.5 254.6L338.6 254.4L338.6 254.1L338.6 253.9L338.6 253.6L338.7 253.4L338.7 253.1L338.7 252.9L338.7 252.7L338.8 252.5L338.8 252.2L338.8 252.0L338.8 251.8L338.9 251.6L338.9 251.4L338.9 251.3L339.0 251.1L339.0 250.9L339.1 250.8L339.1 250.6L339.2 250.5L339.2 250.3L339.3 250.2L339.4 250.1L339.4 250.0L339.5 249.9L339.6 249.8L339.6 249.7L339.7 249.7L339.8 249.6L339.8 249.6L339.9 249.6L339.9 249.7L340.0 249.8L340.0 249.8L340.1 250.0L340.1 250.1L340.1 250.3L340.1 250.4L340.2 250.6L340.2 250.8L340.2 251.0L340.2 251.3L340.2 251.5L340.2 251.8L340.2 252.1L340.2 252.3L340.2 252.6L340.2 252.9L340.2 253.2L340.2 253.5L340.2 253.8L340.2 254.1L340.2 254.4L340.2 254.7L340.2 255.0L340.2 255.3L340.2 255.6L340.2 255.8L340.2 256.1L340.2 256.4L340.2 256.7L340.2 257.0L340.2 257.3L340.3 257.6L340.3 257.9L340.3 258.2L340.3 258.5L340.3 258.8L340.3 259.1L340.3 259.4L340.3 259.7L340.4 260.0L340.4 260.3L340.4 260.6L340.4 260.9L340.4 261.2L340.4 261.5L340.4 261.8L340.5 262.1L340.5 262.4L340.5 262.8L340.5 263.1L340.5 263.4L340.5 263.7L340.5 264.1L340.5 264.4L340.6 264.8L340.6 265.1L340.6 265.4L340.6 265.8L340.6 266.1L340.6 266.5L340.6 266.8L340.6 267.2L340.6 267.6L340.7 267.9L340.7 268.3L340.7 268.6L340.7 269.0L340.7 269.4L340.7 269.8L340.7 270.1L340.7 270.5L340.7 270.9L340.7 271.3L340.7 271.6L340.7 272.0L340.7 272.4L340.7 272.8L340.8 273.2L340.8 273.6L340.8 274.0L340.8 274.3L340.8 274.7L340.8 275.1L340.8 275.5L340.8 275.9L340.8 276.3L340.8 276.7L340.8 277.1L340.8 277.5L340.8 277.9L340.8 278.3L340.8 278.7L340.8 279.1L340.8 279.5L340.8 279.9L340.8 280.3L340.9 280.7L340.9 281.2L340.9 281.6L340.9 282.0L340.9 282.4L340.9 282.8L340.9 283.2L340.9 283.6L340.9 284.0L340.9 284.5L340.9 284.9L340.9 285.3L340.9 285.7L340.9 286.2L340.9 286.6L340.9 287.0L340.9 287.4L340.9 287.9L340.9 288.3L340.9 288.7L340.9 289.2L341.0 289.6L341.0 290.1L341.0 290.5L341.0 290.9L341.0 291.4L341.0 291.8L341.0 292.3L341.0 292.7L341.0 293.2L341.0 293.7L341.0 294.1L341.0 294.6L341.0 295.0L341.0 295.5L341.0 296.0L341.0 296.4L341.0 296.9L341.0 297.4L341.0 297.9L341.0 298.3L341.0 298.8L341.0 299.3L341.0 299.8L341.1 300.2L341.1 300.7L341.1 301.2L341.1 301.7L341.1 302.2L341.1 302.7L341.1 303.1L341.1 303.6L341.1 304.1L341.1 304.6L341.1 305.1L341.1 305.6L341.1 306.0L341.1 306.5L341.1 307.0L341.1 307.5L341.1 308.0L341.1 308.5L341.1 308.9L341.1 309.4L341.1 309.9L341.1 310.4L341.1 310.9L341.1 311.3L341.2 311.8L341.2 312.3L341.2 312.8L341.2 313.2L341.2 313.7L341.2 314.2L341.2 314.6L341.2 315.1L341.2 315.5L341.2 316.0L341.2 316.5L341.2 316.9L341.2 317.4L341.2 317.8L341.2 318.3L341.2 318.7L341.2 319.1L341.2 319.6L341.2 320.0L341.2 320.4L341.2 320.9L341.2 321.3L341.2 321.7L341.3 322.1L341.3 322.6L341.3 323.0L341.3 323.4L341.3 323.8L341.3 324.2L341.3 324.6L341.3 325.0L341.3 325.4L341.3 325.8L341.3 326.2L341.3 326.5L341.3 326.9L341.3 327.3L341.3 327.7L341.3 328.1L341.3 328.4L341.3 328.8L341.3 329.1L341.4 329.5L341.4 329.9L341.4 330.2L341.4 330.6L341.4 330.9L341.4 331.2L341.4 331.6L341.4 331.9L341.4 332.2L341.4 332.6L341.4 332.9L341.4 333.2L341.4 333.5L341.4 333.8L341.4 334.1L341.4 334.4L341.5 334.7L341.5 335.0L341.5 335.3L341.5 335.6L341.5 335.8L341.5 336.1L341.5 336.4L341.5 336.7L341.5 336.9L341.5 337.2L341.5 337.4L341.5 337.7L341.5 337.9L341.5 338.2L341.6 338.4L341.6 338.6L341.6 338.9L341.6 339.1L341.6 339.3L341.6 339.5L341.6 339.2L341.7 339.0L341.7 338.7L341.7 338.4L341.8 338.1L341.8 337.9L341.8 337.6L341.9 337.3L341.9 337.0L341.9 336.7L342.0 336.5L342.0 336.2L342.0 335.9L342.1 335.6L342.1 335.4L342.1 335.1L342.2 334.8L342.2 334.5L342.2 334.2L342.3 333.9L342.3 333.7L342.4 333.4L342.4 333.1L342.4 332.8L342.5 332.5L342.5 332.2L342.5 331.9L342.6 331.6L342.6 331.3L342.6 331.0L342.7 330.7L342.7 330.4L342.8 330.1L342.8 329.8L342.8 329.5L342.9 329.2L342.9 328.9L342.9 328.6L343.0 328.3L343.0 327.9L343.1 327.6L343.1 327.3L343.1 327.0L343.2 326.6L343.2 326.3L343.2 326.0L343.3 325.7L343.3 325.3L343.3 325.0L343.4 324.6L343.4 324.3L343.4 323.9L343.5 323.6L343.5 323.2L343.5 322.9L343.6 322.5L343.6 322.2L343.6 321.8L343.7 321.4L343.7 321.1L343.7 320.7L343.8 320.3L343.8 319.9L343.8 319.6L343.9 319.2L343.9 318.8L343.9 318.4L343.9 318.0L344.0 317.6L344.0 317.2L344.0 316.8L344.1 316.4L344.1 315.9L344.1 315.5L344.1 315.1L344.2 314.7L344.2 314.2L344.2 313.8L344.2 313.4L344.3 312.9L344.3 312.5L344.3 312.0L344.3 311.6L344.3 311.2L344.4 310.7L344.4 310.3L344.4 309.8L344.4 309.4L344.4 308.9L344.5 308.4L344.5 308.0L344.5 307.5L344.5 307.1L344.5 306.6L344.6 306.1L344.6 305.7L344.6 305.2L344.6 304.7L344.6 304.3L344.6 303.8L344.7 303.4L344.7 302.9L344.7 302.4L344.7 302.0L344.7 301.5L344.7 301.0L344.7 300.6L344.8 300.1L344.8 299.7L344.8 299.2L344.8 298.7L344.8 298.3L344.8 297.8L344.8 297.4L344.8 296.9L344.9 296.5L344.9 296.0L344.9 295.6L344.9 295.1L344.9 294.7L344.9 294.2L344.9 293.8L344.9 293.4L345.0 292.9L345.0 292.5L345.0 292.1L345.0 291.7L345.0 291.2L345.0 290.8L345.0 290.4L345.0 290.0L345.0 289.6L345.0 289.1L345.1 288.7L345.1 288.3L345.1 287.9L345.1 287.5L345.1 287.1L345.1 286.7L345.1 286.3L345.1 285.9L345.1 285.5L345.1 285.1L345.1 284.7L345.1 284.3L345.2 283.9L345.2 283.5L345.2 283.1L345.2 282.7L345.2 282.4L345.2 282.0L345.2 281.6L345.2 281.2L345.2 280.8L345.2 280.4L345.2 280.0L345.2 279.7L345.3 279.3L345.3 278.9L345.3 278.5L345.3 278.1L345.3 277.8L345.3 277.4L345.3 277.0L345.3 276.6L345.3 276.3L345.3 275.9L345.3 275.5L345.3 275.1L345.4 274.8L345.4 274.4L345.4 274.0L345.4 273.7L345.4 273.3L345.4 272.9L345.4 272.6L345.4 272.2L345.4 271.8L345.4 271.5L345.4 271.1L345.4 270.8L345.5 270.4L345.5 270.1L345.5 269.7L345.5 269.4L345.5 269.0L345.5 268.7L345.5 268.3L345.5 268.0L345.5 267.7L345.6 267.3L345.6 267.0L345.6 266.7L345.6 266.3L345.6 266.0L345.6 265.7L345.6 265.3L345.6 265.0L345.7 264.7L345.7 264.4L345.7 264.1L345.7 263.8L345.7 263.5L345.7 263.2L345.7 262.9L345.8 262.6L345.8 262.3L345.8 262.0L345.8 261.7L345.8 261.4L345.8 261.1L345.9 260.9L345.9 260.6L345.9 260.3L345.9 260.0L345.9 259.7L346.0 259.5L346.0 259.2L346.0 258.9L346.0 258.6L346.0 258.3L346.0 258.1L346.1 257.8L346.1 257.5L346.1 257.2L346.1 257.0L346.1 256.7L346.2 256.4L346.2 256.1L346.2 255.8L346.2 255.5L346.2 255.3L346.2 255.0L346.3 254.7L346.3 254.4L346.3 254.1L346.3 253.8L346.3 253.5L346.3 253.2L346.4 253.0L346.4 252.7L346.4 252.4L346.4 252.2L346.4 251.9L346.4 251.7L346.5 251.5L346.5 251.3L346.5 251.1L346.5 251.0L346.5 250.8L346.5 250.7L346.5 250.6L346.6 250.5L346.6 250.4L346.6 250.4L346.6 250.4L346.6 250.4L346.6 250.5L346.6 250.6L346.7 250.7L346.7 250.8L346.7 250.9L346.7 251.1L346.7 251.3L346.7 251.5L346.7 251.7L346.8 251.9L346.8 252.2L346.8 252.4L346.8 252.7L346.8 252.9L346.8 253.2L346.8 253.5L346.8 253.8L346.8 254.1L346.9 254.4L346.9 254.7L346.9 255.0L346.9 255.2L346.9 255.5L346.9 255.8L346.9 256.1L346.9 256.4L347.0 256.7L347.0 256.9L347.0 257.2L347.0 257.5L347.0 257.8L347.0 258.1L347.0 258.3L347.0 258.6L347.0 258.9L347.0 259.2L347.1 259.4L347.1 259.7L347.1 260.0L347.1 260.3L347.1 260.6L347.1 260.8L347.1 261.1L347.1 261.4L347.1 261.7L347.1 262.0L347.2 262.3L347.2 262.6L347.2 262.9L347.2 263.2L347.2 263.5L347.2 263.8L347.2 264.1L347.2 264.4L347.2 264.7L347.2 265.0L347.2 265.3L347.3 265.7L347.3 266.0L347.3 266.3L347.3 266.6L347.3 267.0L347.3 267.3L347.3 267.6L347.3 268.0L347.3 268.3L347.3 268.7L347.3 269.0L347.3 269.3L347.4 269.7L347.4 270.0L347.4 270.4L347.4 270.7L347.4 271.1L347.4 271.5L347.4 271.8L347.4 272.2L347.4 272.5L347.4 272.9L347.4 273.3L347.4 273.6L347.4 274.0L347.5 274.4L347.5 274.8L347.5 275.1L347.5 275.5L347.5 275.9L347.5 276.2L347.5 276.6L347.5 277.0L347.5 277.4L347.5 277.8L347.5 278.1L347.5 278.5L347.5 278.9L347.5 279.3L347.5 279.7L347.5 280.0L347.5 280.4L347.6 280.8L347.6 281.2L347.6 281.6L347.6 282.0L347.6 282.4L347.6 282.7L347.6 283.1L347.6 283.5L347.6 283.9L347.6 284.3L347.6 284.7L347.6 285.1L347.6 285.5L347.6 285.9L347.6 286.3L347.6 286.7L347.6 287.1L347.6 287.5L347.6 287.9L347.6 288.3L347.6 288.7L347.6 289.2L347.7 289.6L347.7 290.0L347.7 290.4L347.7 290.8L347.7 291.2L347.7 291.7L347.7 292.1L347.7 292.5L347.7 292.9L347.7 293.4L347.7 293.8L347.7 294.2L347.7 294.7L347.7 295.1L347.7 295.5L347.7 296.0L347.7 296.4L347.7 296.9L347.7 297.3L347.7 297.8L347.7 298.2L347.7 298.7L347.7 299.1L347.7 299.6L347.7 300.0L347.7 300.5L347.8 300.9L347.8 301.4L347.8 301.8L347.8 302.3L347.8 302.8L347.8 303.2L347.8 303.7L347.8 304.1L347.8 304.6L347.8 305.0L347.8 305.5L347.8 306.0L347.8 306.4L347.8 306.9L347.8 307.3L347.8 307.8L347.8 308.3L347.8 308.7L347.8 309.2L347.8 309.6L347.8 310.1L347.8 310.5L347.8 311.0L347.8 311.4L347.8 311.9L347.9 312.3L347.9 312.8L347.9 313.2L347.9 313.7L347.9 314.1L347.9 314.6L347.9 315.0L347.9 315.4L347.9 315.9L347.9 316.3L347.9 316.7L347.9 317.2L347.9 317.6L347.9 318.0L347.9 318.4L347.9 318.8L347.9 319.3L347.9 319.7L347.9 320.1L347.9 320.5L347.9 320.9L347.9 321.3L347.9 321.7L348.0 322.1L348.0 322.5L348.0 322.9L348.0 323.3L348.0 323.7L348.0 324.1L348.0 324.4L348.0 324.8L348.0 325.2L348.0 325.6L348.0 325.9L348.0 326.3L348.0 326.7L348.0 327.0L348.0 327.4L348.0 327.7L348.0 328.1L348.0 328.4L348.0 328.8L348.0 329.1L348.0 329.5L348.1 329.8L348.1 330.1L348.1 330.5L348.1 330.8L348.1 331.1L348.1 331.4L348.1 331.8L348.1 332.1L348.1 332.4L348.1 332.7L348.1 333.0L348.1 333.3L348.1 333.6L348.1 333.9L348.1 334.2L348.1 334.4L348.2 334.7L348.2 335.0L348.2 335.3L348.2 335.5L348.2 335.8L348.2 336.1L348.2 336.3L348.2 336.6L348.2 336.8L348.2 337.1L348.2 337.3L348.2 337.5L348.2 337.8L348.2 338.0L348.3 338.2L348.3 338.5L348.3 338.7L348.3 338.9L348.3 339.1L348.3 339.3L348.3 339.5L348.3 339.2L348.4 339.0L348.4 338.7L348.4 338.4L348.5 338.1L348.5 337.9L348.5 337.6L348.5 337.3L348.6 337.0L348.6 336.7L348.6 336.5L348.7 336.2L348.7 335.9L348.7 335.6L348.8 335.4L348.8 335.1L348.8 334.8L348.9 334.5L348.9 334.2L349.0 333.9L349.0 333.7L349.0 333.4L349.1 333.1L349.1 332.8L349.1 332.5L349.2 332.2L349.2 331.9L349.2 331.6L349.3 331.3L349.3 331.0L349.3 330.7L349.4 330.4L349.4 330.1L349.4 329.8L349.5 329.5L349.5 329.2L349.6 328.9L349.6 328.6L349.6 328.2L349.7 327.9L349.7 327.6L349.7 327.3L349.8 327.0L349.8 326.6L349.8 326.3L349.9 326.0L349.9 325.6L349.9 325.3L350.0 325.0L350.0 324.6L350.0 324.3L350.1 323.9L350.1 323.6L350.1 323.2L350.2 322.9L350.2 322.5L350.2 322.1L350.3 321.8L350.3 321.4L350.3 321.0L350.3 320.7L350.4 320.3L350.4 319.9L350.4 319.5L350.5 319.1L350.5 318.7L350.5 318.3L350.5 317.9L350.6 317.5L350.6 317.1L350.6 316.7L350.6 316.3L350.7 315.9L350.7 315.4L350.7 315.0L350.7 314.6L350.8 314.2L350.8 313.7L350.8 313.3L350.8 312.8L350.9 312.4L350.9 312.0L350.9 311.5L350.9 311.1L350.9 310.6L351.0 310.2L351.0 309.7L351.0 309.3L351.0 308.8L351.0 308.3L351.0 307.9L351.1 307.4L351.1 307.0L351.1 306.5L351.1 306.0L351.1 305.6L351.1 305.1L351.2 304.6L351.2 304.2L351.2 303.7L351.2 303.2L351.2 302.8L351.2 302.3L351.2 301.9L351.3 301.4L351.3 300.9L351.3 300.5L351.3 300.0L351.3 299.6L351.3 299.1L351.3 298.6L351.3 298.2L351.4 297.7L351.4 297.3L351.4 296.8L351.4 296.4L351.4 295.9L351.4 295.5L351.4 295.1L351.4 294.6L351.4 294.2L351.5 293.7L351.5 293.3L351.5 292.9L351.5 292.5L351.5 292.0L351.5 291.6L351.5 291.2L351.5 290.8L351.5 290.3L351.5 289.9L351.6 289.5L351.6 289.1L351.6 288.7L351.6 288.3L351.6 287.9L351.6 287.5L351.6 287.1L351.6 286.7L351.6 286.3L351.6 285.9L351.6 285.5L351.6 285.1L351.7 284.7L351.7 284.3L351.7 283.9L351.7 283.5L351.7 283.1L351.7 282.7L351.7 282.3L351.7 282.0L351.7 281.6L351.7 281.2L351.7 280.8L351.7 280.4L351.8 280.1L351.8 279.7L351.8 279.3L351.8 278.9L351.8 278.5L351.8 278.2L351.8 277.8L351.8 277.4L351.8 277.0L351.8 276.7L351.8 276.3L351.8 275.9L351.8 275.5L351.9 275.2L351.9 274.8L351.9 274.4L351.9 274.1L351.9 273.7L351.9 273.3L351.9 273.0L351.9 272.6L351.9 272.3L351.9 271.9L351.9 271.5L352.0 271.2L352.0 270.8L352.0 270.5L352.0 270.1L352.0 269.8L352.0 269.4L352.0 269.1L352.0 268.8L352.0 268.4L352.1 268.1L352.1 267.7L352.1 267.4L352.1 267.1L352.1 266.8L352.1 266.4L352.1 266.1L352.1 265.8L352.2 265.5L352.2 265.2L352.2 264.9L352.2 264.5L352.2 264.2L352.2 263.9L352.2 263.6L352.3 263.3L352.3 263.1L352.3 262.8L352.3 262.5L352.3 262.2L352.3 261.9L352.4 261.6L352.4 261.3L352.4 261.1L352.4 260.8L352.4 260.5L352.5 260.2L352.5 259.9L352.5 259.7L352.5 259.4L352.5 259.1L352.5 258.8L352.6 258.6L352.6 258.3L352.6 258.0L352.6 257.7L352.6 257.4L352.7 257.2L352.7 256.9L352.7 256.6L352.7 256.3L352.7 256.0L352.7 255.7L352.8 255.4L352.8 255.2L352.8 254.9L352.8 254.6L352.8 254.3L352.9 254.0L352.9 253.7L352.9 253.5L352.9 253.2L352.9 253.0L352.9 252.7L352.9 252.5L353.0 252.3L353.0 252.1L353.0 251.9L353.0 251.8L353.0 251.6L353.0 251.5L353.1 251.4L353.1 251.4L353.1 251.3L353.1 251.3L353.1 251.3L353.1 251.4L353.1 251.4L353.2 251.5L353.2 251.6L353.2 251.8L353.2 251.9L353.2 252.1L353.2 252.3L353.2 252.5L353.2 252.7L353.3 252.9L353.3 253.2L353.3 253.5L353.3 253.7L353.3 254.0L353.3 254.3L353.3 254.6L353.3 254.8L353.4 255.1L353.4 255.4L353.4 255.7L353.4 256.0L353.4 256.3L353.4 256.6L353.4 256.9L353.4 257.1L353.4 257.4L353.5 257.7L353.5 258.0L353.5 258.3L353.5 258.5L353.5 258.8L353.5 259.1L353.5 259.4L353.5 259.7L353.5 259.9L353.6 260.2L353.6 260.5L353.6 260.8L353.6 261.0L353.6 261.3L353.6 261.6L353.6 261.9L353.6 262.2L353.6 262.5L353.6 262.8L353.7 263.0L353.7 263.3L353.7 263.6L353.7 263.9L353.7 264.2L353.7 264.5L353.7 264.8L353.7 265.2L353.7 265.5L353.7 265.8L353.7 266.1L353.8 266.4L353.8 266.7L353.8 267.1L353.8 267.4L353.8 267.7L353.8 268.1L353.8 268.4L353.8 268.7L353.8 269.1L353.8 269.4L353.8 269.8L353.8 270.1L353.9 270.5L353.9 270.8L353.9 271.2L353.9 271.5L353.9 271.9L353.9 272.2L353.9 272.6L353.9 273.0L353.9 273.3L353.9 273.7L353.9 274.1L353.9 274.4L353.9 274.8L354.0 275.2L354.0 275.5L354.0 275.9L354.0 276.3L354.0 276.6L354.0 277.0L354.0 277.4L354.0 277.8L354.0 278.2L354.0 278.5L354.0 278.9L354.0 279.3L354.0 279.7L354.0 280.1L354.0 280.4L354.0 280.8L354.1 281.2L354.1 281.6L354.1 282.0L354.1 282.4L354.1 282.7L354.1 283.1L354.1 283.5L354.1 283.9L354.1 284.3L354.1 284.7L354.1 285.1L354.1 285.5L354.1 285.9L354.1 286.3L354.1 286.7L354.1 287.1L354.1 287.5L354.1 287.9L354.1 288.3L354.1 288.7L354.1 289.1L354.1 289.5L354.2 290.0L354.2 290.4L354.2 290.8L354.2 291.2L354.2 291.6L354.2 292.0L354.2 292.5L354.2 292.9L354.2 293.3L354.2 293.7L354.2 294.2L354.2 294.6L354.2 295.0L354.2 295.5L354.2 295.9L354.2 296.4L354.2 296.8L354.2 297.2L354.2 297.7L354.2 298.1L354.2 298.6L354.2 299.0L354.2 299.5L354.2 299.9L354.2 300.4L354.2 300.8L354.3 301.3L354.3 301.8L354.3 302.2L354.3 302.7L354.3 303.1L354.3 303.6L354.3 304.0L354.3 304.5L354.3 305.0L354.3 305.4L354.3 305.9L354.3 306.3L354.3 306.8L354.3 307.3L354.3 307.7L354.3 308.2L354.3 308.6L354.3 309.1L354.3 309.5L354.3 310.0L354.3 310.4L354.3 310.9L354.3 311.4L354.3 311.8L354.3 312.3L354.4 312.7L354.4 313.1L354.4 313.6L354.4 314.0L354.4 314.5L354.4 314.9L354.4 315.4L354.4 315.8L354.4 316.2L354.4 316.7L354.4 317.1L354.4 317.5L354.4 317.9L354.4 318.4L354.4 318.8L354.4 319.2L354.4 319.6L354.4 320.0L354.4 320.4L354.4 320.9L354.4 321.3L354.4 321.7L354.4 322.1L354.5 322.5L354.5 322.9L354.5 323.2L354.5 323.6L354.5 324.0L354.5 324.4L354.5 324.8L354.5 325.2L354.5 325.5L354.5 325.9L354.5 326.3L354.5 326.6L354.5 327.0L354.5 327.4L354.5 327.7L354.5 328.1L354.5 328.4L354.5 328.8L354.5 329.1L354.5 329.5L354.6 329.8L354.6 330.1L354.6 330.5L354.6 330.8L354.6 331.1L354.6 331.4L354.6 331.7L354.6 332.1L354.6 332.4L354.6 332.7L354.6 333.0L354.6 333.3L354.6 333.6L354.6 333.9L354.6 334.1L354.6 334.4L354.6 334.7L354.7 335.0L354.7 335.3L354.7 335.5L354.7 335.8L354.7 336.1L354.7 336.3L354.7 336.6L354.7 336.8L354.7 337.1L354.7 337.3L354.7 337.5L354.7 337.8L354.7 338.0L354.8 338.2L354.8 338.5L354.8 338.7L354.8 338.9L354.8 339.1L354.8 339.3L354.8 339.5L354.8 339.2L354.9 339.0L354.9 338.7L354.9 338.4L355.0 338.1L355.0 337.9L355.0 337.6L355.1 337.3L355.1 337.0L355.1 336.7L355.1 336.5L355.2 336.2L355.2 335.9L355.3 335.6L355.3 335.4L355.3 335.1L355.4 334.8L355.4 334.5L355.4 334.2L355.5 333.9L355.5 333.7L355.5 333.4L355.6 333.1L355.6 332.8L355.6 332.5L355.7 332.2L355.7 331.9L355.7 331.6L355.8 331.3L355.8 331.0L355.9 330.7L355.9 330.4L355.9 330.1L356.0 329.8L356.0 329.5L356.0 329.2L356.1 328.9L356.1 328.6L356.1 328.2L356.2 327.9L356.2 327.6L356.2 327.3L356.3 326.9L356.3 326.6L356.3 326.3L356.4 326.0L356.4 325.6L356.4 325.3L356.5 324.9L356.5 324.6L356.5 324.3L356.6 323.9L356.6 323.5L356.6 323.2L356.7 322.8L356.7 322.5L356.7 322.1L356.8 321.7L356.8 321.4L356.8 321.0L356.9 320.6L356.9 320.2L356.9 319.9L357.0 319.5L357.0 319.1L357.0 318.7L357.0 318.3L357.1 317.9L357.1 317.5L357.1 317.1L357.1 316.6L357.2 316.2L357.2 315.8L357.2 315.4L357.2 315.0L357.3 314.5L357.3 314.1L357.3 313.7L357.3 313.2L357.4 312.8L357.4 312.3L357.4 311.9L357.4 311.4L357.4 311.0L357.5 310.5L357.5 310.1L357.5 309.6L357.5 309.2L357.5 308.7L357.5 308.3L357.6 307.8L357.6 307.3L357.6 306.9L357.6 306.4L357.6 305.9L357.6 305.5L357.7 305.0L357.7 304.5L357.7 304.1L357.7 303.6L357.7 303.2L357.7 302.7L357.7 302.2L357.8 301.8L357.8 301.3L357.8 300.8L357.8 300.4L357.8 299.9L357.8 299.5L357.8 299.0L357.8 298.6L357.9 298.1L357.9 297.7L357.9 297.2L357.9 296.8L357.9 296.3L357.9 295.9L357.9 295.4L357.9 295.0L357.9 294.6L358.0 294.1L358.0 293.7L358.0 293.3L358.0 292.8L358.0 292.4L358.0 292.0L358.0 291.6L358.0 291.2L358.0 290.7L358.0 290.3L358.1 289.9L358.1 289.5L358.1 289.1L358.1 288.7L358.1 288.3L358.1 287.9L358.1 287.5L358.1 287.1L358.1 286.7L358.1 286.3L358.1 285.9L358.2 285.5L358.2 285.1L358.2 284.7L358.2 284.3L358.2 283.9L358.2 283.5L358.2 283.1L358.2 282.8L358.2 282.4L358.2 282.0L358.2 281.6L358.2 281.2L358.2 280.8L358.3 280.5L358.3 280.1L358.3 279.7L358.3 279.3L358.3 278.9L358.3 278.6L358.3 278.2L358.3 277.8L358.3 277.4L358.3 277.1L358.3 276.7L358.3 276.3L358.4 276.0L358.4 275.6L358.4 275.2L358.4 274.9L358.4 274.5L358.4 274.1L358.4 273.8L358.4 273.4L358.4 273.0L358.4 272.7L358.4 272.3L358.5 272.0L358.5 271.6L358.5 271.3L358.5 270.9L358.5 270.6L358.5 270.2L358.5 269.9L358.5 269.5L358.5 269.2L358.6 268.9L358.6 268.5L358.6 268.2L358.6 267.9L358.6 267.5L358.6 267.2L358.6 266.9L358.6 266.6L358.7 266.3L358.7 265.9L358.7 265.6L358.7 265.3L358.7 265.0L358.7 264.7L358.7 264.4L358.8 264.1L358.8 263.8L358.8 263.5L358.8 263.3L358.8 263.0L358.8 262.7L358.9 262.4L358.9 262.1L358.9 261.8L358.9 261.6L358.9 261.3L359.0 261.0L359.0 260.7L359.0 260.4L359.0 260.2L359.0 259.9L359.1 259.6L359.1 259.3L359.1 259.1L359.1 258.8L359.1 258.5L359.1 258.2L359.2 257.9L359.2 257.7L359.2 257.4L359.2 257.1L359.2 256.8L359.3 256.5L359.3 256.2L359.3 255.9L359.3 255.6L359.3 255.4L359.3 255.1L359.4 254.8L359.4 254.5L359.4 254.3L359.4 254.0L359.4 253.8L359.4 253.5L359.5 253.3L359.5 253.1L359.5 252.9L359.5 252.8L359.5 252.6L359.5 252.5L359.5 252.4L359.6 252.3L359.6 252.2L359.6 252.2L359.6 252.2L359.6 252.2L359.6 252.3L359.6 252.4L359.7 252.5L359.7 252.6L359.7 252.7L359.7 252.9L359.7 253.1L359.7 253.3L359.7 253.5L359.8 253.7L359.8 254.0L359.8 254.2L359.8 254.5L359.8 254.8L359.8 255.1L359.8 255.3L359.8 255.6L359.9 255.9L359.9 256.2L359.9 256.5L359.9 256.8L359.9 257.1L359.9 257.4L359.9 257.6L359.9 257.9L359.9 258.2L360.0 258.5L360.0 258.8L360.0 259.0L360.0 259.3L360.0 259.6L360.0 259.9L360.0 260.2L360.0 260.4L360.0 260.7L360.1 261.0L360.1 261.3L360.1 261.5L360.1 261.8L360.1 262.1L360.1 262.4L360.1 262.7L360.1 263.0L360.1 263.2L360.1 263.5L360.2 263.8L360.2 264.1L360.2 264.4L360.2 264.7L360.2 265.0L360.2 265.3L360.2 265.6L360.2 265.9L360.2 266.2L360.2 266.6L360.2 266.9L360.3 267.2L360.3 267.5L360.3 267.8L360.3 268.2L360.3 268.5L360.3 268.8L360.3 269.2L360.3 269.5L360.3 269.9L360.3 270.2L360.3 270.5L360.4 270.9L360.4 271.2L360.4 271.6L360.4 271.9L360.4 272.3L360.4 272.7L360.4 273.0L360.4 273.4L360.4 273.7L360.4 274.1L360.4 274.5L360.4 274.8L360.4 275.2L360.4 275.6L360.5 275.9L360.5 276.3L360.5 276.7L360.5 277.1L360.5 277.4L360.5 277.8L360.5 278.2L360.5 278.6L360.5 278.9L360.5 279.3L360.5 279.7L360.5 280.1L360.5 280.5L360.5 280.8L360.5 281.2L360.5 281.6L360.6 282.0L360.6 282.4L360.6 282.8L360.6 283.2L360.6 283.5L360.6 283.9L360.6 284.3L360.6 284.7L360.6 285.1L360.6 285.5L360.6 285.9L360.6 286.3L360.6 286.7L360.6 287.1L360.6 287.5L360.6 287.9L360.6 288.3L360.6 288.7L360.6 289.1L360.6 289.5L360.6 289.9L360.6 290.3L360.7 290.8L360.7 291.2L360.7 291.6L360.7 292.0L360.7 292.4L360.7 292.9L360.7 293.3L360.7 293.7L360.7 294.1L360.7 294.6L360.7 295.0L360.7 295.4L360.7 295.9L360.7 296.3L360.7 296.7L360.7 297.2L360.7 297.6L360.7 298.1L360.7 298.5L360.7 299.0L360.7 299.4L360.7 299.9L360.7 300.3L360.7 300.8L360.7 301.2L360.8 301.7L360.8 302.1L360.8 302.6L360.8 303.0L360.8 303.5L360.8 304.0L360.8 304.4L360.8 304.9L360.8 305.3L360.8 305.8L360.8 306.3L360.8 306.7L360.8 307.2L360.8 307.6L360.8 308.1L360.8 308.5L360.8 309.0L360.8 309.5L360.8 309.9L360.8 310.4L360.8 310.8L360.8 311.3L360.8 311.7L360.8 312.2L360.9 312.6L360.9 313.1L360.9 313.5L360.9 314.0L360.9 314.4L360.9 314.9L360.9 315.3L360.9 315.7L360.9 316.2L360.9 316.6L360.9 317.0L360.9 317.5L360.9 317.9L360.9 318.3L360.9 318.7L360.9 319.2L360.9 319.6L360.9 320.0L360.9 320.4L360.9 320.8L360.9 321.2L360.9 321.6L360.9 322.0L361.0 322.4L361.0 322.8L361.0 323.2L361.0 323.6L361.0 324.0L361.0 324.4L361.0 324.7L361.0 325.1L361.0 325.5L361.0 325.9L361.0 326.2L361.0 326.6L361.0 327.0L361.0 327.3L361.0 327.7L361.0 328.0L361.0 328.4L361.0 328.7L361.0 329.1L361.0 329.4L361.1 329.8L361.1 330.1L361.1 330.4L361.1 330.8L361.1 331.1L361.1 331.4L361.1 331.7L361.1 332.0L361.1 332.4L361.1 332.7L361.1 333.0L361.1 333.3L361.1 333.6L361.1 333.9L361.1 334.1L361.1 334.4L361.1 334.7L361.2 335.0L361.2 335.3L361.2 335.5L361.2 335.8L361.2 336.1L361.2 336.3L361.2 336.6L361.2 336.8L361.2 337.1L361.2 337.3L361.2 337.5L361.2 337.8L361.2 338.0L361.2 338.2L361.3 338.5L361.3 338.7L361.3 338.9L361.3 339.1L361.3 339.3L361.3 339.5L361.3 339.2L361.4 339.0L361.4 338.7L361.4 338.4L361.5 338.1L361.5 337.9L361.5 337.6L361.6 337.3L361.6 337.0L361.7 336.8L361.7 336.5L361.7 336.2L361.8 335.9L361.8 335.6L361.8 335.4L361.9 335.1L361.9 334.8L362.0 334.5L362.0 334.2L362.0 333.9L362.1 333.7L362.1 333.4L362.2 333.1L362.2 332.8L362.2 332.5L362.3 332.2L362.3 331.9L362.4 331.6L362.4 331.3L362.4 331.0L362.5 330.7L362.5 330.4L362.6 330.1L362.6 329.8L362.6 329.5L362.7 329.2L362.7 328.9L362.8 328.6L362.8 328.2L362.8 327.9L362.9 327.6L362.9 327.3L363.0 327.0L363.0 326.6L363.0 326.3L363.1 326.0L363.1 325.6L363.1 325.3L363.2 324.9L363.2 324.6L363.3 324.2L363.3 323.9L363.3 323.5L363.4 323.2L363.4 322.8L363.4 322.5L363.5 322.1L363.5 321.7L363.5 321.4L363.6 321.0L363.6 320.6L363.6 320.2L363.7 319.8L363.7 319.4L363.7 319.0L363.8 318.7L363.8 318.2L363.8 317.8L363.9 317.4L363.9 317.0L363.9 316.6L363.9 316.2L364.0 315.8L364.0 315.3L364.0 314.9L364.1 314.5L364.1 314.0L364.1 313.6L364.1 313.2L364.2 312.7L364.2 312.3L364.2 311.8L364.2 311.4L364.2 310.9L364.3 310.5L364.3 310.0L364.3 309.6L364.3 309.1L364.4 308.6L364.4 308.2L364.4 307.7L364.4 307.3L364.4 306.8L364.4 306.3L364.5 305.9L364.5 305.4L364.5 304.9L364.5 304.5L364.5 304.0L364.6 303.6L364.6 303.1L364.6 302.6L364.6 302.2L364.6 301.7L364.6 301.2L364.6 300.8L364.7 300.3L364.7 299.9L364.7 299.4L364.7 299.0L364.7 298.5L364.7 298.1L364.7 297.6L364.8 297.2L364.8 296.7L364.8 296.3L364.8 295.8L364.8 295.4L364.8 295.0L364.8 294.5L364.8 294.1L364.9 293.7L364.9 293.2L364.9 292.8L364.9 292.4L364.9 292.0L364.9 291.6L364.9 291.1L364.9 290.7L364.9 290.3L365.0 289.9L365.0 289.5L365.0 289.1L365.0 288.7L365.0 288.3L365.0 287.9L365.0 287.5L365.0 287.1L365.0 286.7L365.0 286.3L365.0 285.9L365.1 285.5L365.1 285.1L365.1 284.7L365.1 284.3L365.1 284.0L365.1 283.6L365.1 283.2L365.1 282.8L365.1 282.4L365.1 282.0L365.1 281.6L365.2 281.3L365.2 280.9L365.2 280.5L365.2 280.1L365.2 279.8L365.2 279.4L365.2 279.0L365.2 278.6L365.2 278.3L365.2 277.9L365.2 277.5L365.2 277.1L365.3 276.8L365.3 276.4L365.3 276.0L365.3 275.7L365.3 275.3L365.3 274.9L365.3 274.6L365.3 274.2L365.3 273.8L365.3 273.5L365.3 273.1L365.4 272.8L365.4 272.4L365.4 272.1L365.4 271.7L365.4 271.4L365.4 271.0L365.4 270.7L365.4 270.3L365.4 270.0L365.5 269.7L365.5 269.3L365.5 269.0L365.5 268.7L365.5 268.3L365.5 268.0L365.5 267.7L365.5 267.4L365.6 267.1L365.6 266.7L365.6 266.4L365.6 266.1L365.6 265.8L365.6 265.5L365.6 265.2L365.7 264.9L365.7 264.6L365.7 264.3L365.7 264.1L365.7 263.8L365.7 263.5L365.8 263.2L365.8 262.9L365.8 262.6L365.8 262.4L365.8 262.1L365.9 261.8L365.9 261.5L365.9 261.2L365.9 261.0L365.9 260.7L366.0 260.4L366.0 260.1L366.0 259.9L366.0 259.6L366.0 259.3L366.0 259.0L366.1 258.7L366.1 258.5L366.1 258.2L366.1 257.9L366.1 257.6L366.2 257.3L366.2 257.0L366.2 256.7L366.2 256.4L366.2 256.2L366.2 255.9L366.3 255.6L366.3 255.3L366.3 255.1L366.3 254.8L366.3 254.6L366.3 254.4L366.4 254.1L366.4 253.9L366.4 253.8L366.4 253.6L366.4 253.5L366.4 253.4L366.5 253.3L366.5 253.2L366.5 253.2L366.5 253.1L366.5 253.1L366.5 253.2L366.5 253.3L366.6 253.3L366.6 253.5L366.6 253.6L366.6 253.8L366.6 253.9L366.6 254.1L366.6 254.3L366.6 254.6L366.7 254.8L366.7 255.0L366.7 255.3L366.7 255.6L366.7 255.9L366.7 256.1L366.7 256.4L366.7 256.7L366.8 257.0L366.8 257.3L366.8 257.6L366.8 257.9L366.8 258.2L366.8 258.4L366.8 258.7L366.8 259.0L366.9 259.3L366.9 259.6L366.9 259.8L366.9 260.1L366.9 260.4L366.9 260.7L366.9 261.0L366.9 261.2L366.9 261.5L367.0 261.8L367.0 262.1L367.0 262.3L367.0 262.6L367.0 262.9L367.0 263.2L367.0 263.5L367.0 263.7L367.0 264.0L367.0 264.3L367.1 264.6L367.1 264.9L367.1 265.2L367.1 265.5L367.1 265.8L367.1 266.1L367.1 266.4L367.1 266.7L367.1 267.0L367.1 267.3L367.1 267.7L367.2 268.0L367.2 268.3L367.2 268.6L367.2 269.0L367.2 269.3L367.2 269.6L367.2 270.0L367.2 270.3L367.2 270.6L367.2 271.0L367.2 271.3L367.3 271.7L367.3 272.0L367.3 272.4L367.3 272.7L367.3 273.1L367.3 273.5L367.3 273.8L367.3 274.2L367.3 274.5L367.3 274.9L367.3 275.3L367.3 275.6L367.3 276.0L367.4 276.4L367.4 276.7L367.4 277.1L367.4 277.5L367.4 277.9L367.4 278.2L367.4 278.6L367.4 279.0L367.4 279.4L367.4 279.7L367.4 280.1L367.4 280.5L367.4 280.9L367.4 281.3L367.4 281.6L367.4 282.0L367.5 282.4L367.5 282.8L367.5 283.2L367.5 283.6L367.5 283.9L367.5 284.3L367.5 284.7L367.5 285.1L367.5 285.5L367.5 285.9L367.5 286.3L367.5 286.7L367.5 287.1L367.5 287.5L367.5 287.9L367.5 288.3L367.5 288.7L367.5 289.1L367.5 289.5L367.5 289.9L367.5 290.3L367.5 290.7L367.6 291.2L367.6 291.6L367.6 292.0L367.6 292.4L367.6 292.8L367.6 293.2L367.6 293.7L367.6 294.1L367.6 294.5L367.6 295.0L367.6 295.4L367.6 295.8L367.6 296.3L367.6 296.7L367.6 297.1L367.6 297.6L367.6 298.0L367.6 298.5L367.6 298.9L367.6 299.3L367.6 299.8L367.6 300.2L367.6 300.7L367.6 301.2L367.6 301.6L367.7 302.1L367.7 302.5L367.7 303.0L367.7 303.4L367.7 303.9L367.7 304.3L367.7 304.8L367.7 305.3L367.7 305.7L367.7 306.2L367.7 306.6L367.7 307.1L367.7 307.6L367.7 308.0L367.7 308.5L367.7 308.9L367.7 309.4L367.7 309.8L367.7 310.3L367.7 310.7L367.7 311.2L367.7 311.7L367.7 312.1L367.7 312.6L367.8 313.0L367.8 313.4L367.8 313.9L367.8 314.3L367.8 314.8L367.8 315.2L367.8 315.7L367.8 316.1L367.8 316.5L367.8 317.0L367.8 317.4L367.8 317.8L367.8 318.3L367.8 318.7L367.8 319.1L367.8 319.5L367.8 319.9L367.8 320.3L367.8 320.8L367.8 321.2L367.8 321.6L367.8 322.0L367.8 322.4L367.9 322.8L367.9 323.2L367.9 323.6L367.9 323.9L367.9 324.3L367.9 324.7L367.9 325.1L367.9 325.5L367.9 325.8L367.9 326.2L367.9 326.6L367.9 326.9L367.9 327.3L367.9 327.7L367.9 328.0L367.9 328.4L367.9 328.7L367.9 329.1L367.9 329.4L367.9 329.7L368.0 330.1L368.0 330.4L368.0 330.7L368.0 331.1L368.0 331.4L368.0 331.7L368.0 332.0L368.0 332.3L368.0 332.6L368.0 333.0L368.0 333.3L368.0 333.5L368.0 333.8L368.0 334.1L368.0 334.4L368.0 334.7L368.1 335.0L368.1 335.3L368.1 335.5L368.1 335.8L368.1 336.1L368.1 336.3L368.1 336.6L368.1 336.8L368.1 337.1L368.1 337.3L368.1 337.5L368.1 337.8L368.1 338.0L368.1 338.2L368.2 338.5L368.2 338.7L368.2 338.9L368.2 339.1L368.2 339.3L368.2 339.5L368.2 339.2L368.3 339.0L368.3 338.7L368.3 338.4L368.4 338.1L368.4 337.9L368.4 337.6L368.5 337.3L368.5 337.0L368.5 336.8L368.6 336.5L368.6 336.2L368.7 335.9L368.7 335.6L368.7 335.4L368.8 335.1L368.8 334.8L368.8 334.5L368.9 334.2L368.9 333.9L368.9 333.7L369.0 333.4L369.0 333.1L369.1 332.8L369.1 332.5L369.1 332.2L369.2 331.9L369.2 331.6L369.3 331.3L369.3 331.0L369.3 330.7L369.4 330.4L369.4 330.1L369.4 329.8L369.5 329.5L369.5 329.2L369.6 328.9L369.6 328.5L369.6 328.2L369.7 327.9L369.7 327.6L369.8 327.3L369.8 326.9L369.8 326.6L369.9 326.3L369.9 325.9L369.9 325.6L370.0 325.2L370.0 324.9L370.0 324.6L370.1 324.2L370.1 323.9L370.2 323.5L370.2 323.1L370.2 322.8L370.3 322.4L370.3 322.0L370.3 321.7L370.4 321.3L370.4 320.9L370.4 320.5L370.4 320.2L370.5 319.8L370.5 319.4L370.5 319.0L370.6 318.6L370.6 318.2L370.6 317.8L370.7 317.3L370.7 316.9L370.7 316.5L370.7 316.1L370.8 315.7L370.8 315.2L370.8 314.8L370.8 314.4L370.9 313.9L370.9 313.5L370.9 313.0L370.9 312.6L371.0 312.2L371.0 311.7L371.0 311.3L371.0 310.8L371.0 310.3L371.1 309.9L371.1 309.4L371.1 309.0L371.1 308.5L371.1 308.0L371.2 307.6L371.2 307.1L371.2 306.7L371.2 306.2L371.2 305.7L371.2 305.3L371.3 304.8L371.3 304.3L371.3 303.9L371.3 303.4L371.3 303.0L371.3 302.5L371.3 302.0L371.4 301.6L371.4 301.1L371.4 300.7L371.4 300.2L371.4 299.7L371.4 299.3L371.4 298.8L371.5 298.4L371.5 297.9L371.5 297.5L371.5 297.0L371.5 296.6L371.5 296.2L371.5 295.7L371.5 295.3L371.6 294.9L371.6 294.4L371.6 294.0L371.6 293.6L371.6 293.2L371.6 292.7L371.6 292.3L371.6 291.9L371.6 291.5L371.6 291.1L371.7 290.7L371.7 290.3L371.7 289.8L371.7 289.4L371.7 289.0L371.7 288.6L371.7 288.2L371.7 287.8L371.7 287.4L371.7 287.0L371.7 286.6L371.8 286.3L371.8 285.9L371.8 285.5L371.8 285.1L371.8 284.7L371.8 284.3L371.8 283.9L371.8 283.5L371.8 283.2L371.8 282.8L371.8 282.4L371.9 282.0L371.9 281.6L371.9 281.3L371.9 280.9L371.9 280.5L371.9 280.1L371.9 279.7L371.9 279.4L371.9 279.0L371.9 278.6L371.9 278.2L371.9 277.9L372.0 277.5L372.0 277.1L372.0 276.8L372.0 276.4L372.0 276.0L372.0 275.7L372.0 275.3L372.0 274.9L372.0 274.6L372.0 274.2L372.0 273.9L372.1 273.5L372.1 273.2L372.1 272.8L372.1 272.5L372.1 272.1L372.1 271.8L372.1 271.4L372.1 271.1L372.1 270.7L372.2 270.4L372.2 270.1L372.2 269.7L372.2 269.4L372.2 269.1L372.2 268.8L372.2 268.4L372.2 268.1L372.3 267.8L372.3 267.5L372.3 267.2L372.3 266.9L372.3 266.6L372.3 266.3L372.4 266.0L372.4 265.7L372.4 265.4L372.4 265.1L372.4 264.8L372.4 264.5L372.5 264.2L372.5 264.0L372.5 263.7L372.5 263.4L372.5 263.1L372.6 262.8L372.6 262.6L372.6 262.3L372.6 262.0L372.6 261.7L372.6 261.5L372.7 261.2L372.7 260.9L372.7 260.6L372.7 260.4L372.7 260.1L372.8 259.8L372.8 259.5L372.8 259.2L372.8 258.9L372.8 258.7L372.9 258.4L372.9 258.1L372.9 257.8L372.9 257.5L372.9 257.2L372.9 256.9L373.0 256.6L373.0 256.4L373.0 256.1L373.0 255.9L373.0 255.6L373.0 255.4L373.1 255.2L373.1 255.0L373.1 254.8L373.1 254.6L373.1 254.5L373.1 254.4L373.2 254.3L373.2 254.2L373.2 254.2L373.2 254.2L373.2 254.2L373.2 254.2L373.2 254.3L373.3 254.4L373.3 254.5L373.3 254.6L373.3 254.8L373.3 255.0L373.3 255.2L373.3 255.4L373.4 255.6L373.4 255.8L373.4 256.1L373.4 256.4L373.4 256.6L373.4 256.9L373.4 257.2L373.4 257.5L373.5 257.8L373.5 258.1L373.5 258.3L373.5 258.6L373.5 258.9L373.5 259.2L373.5 259.5L373.5 259.8L373.5 260.1L373.6 260.3L373.6 260.6L373.6 260.9L373.6 261.2L373.6 261.4L373.6 261.7L373.6 262.0L373.6 262.3L373.6 262.6L373.7 262.8L373.7 263.1L373.7 263.4L373.7 263.7L373.7 264.0L373.7 264.2L373.7 264.5L373.7 264.8L373.7 265.1L373.7 265.4L373.8 265.7L373.8 266.0L373.8 266.3L373.8 266.6L373.8 266.9L373.8 267.2L373.8 267.5L373.8 267.8L373.8 268.1L373.8 268.4L373.9 268.7L373.9 269.1L373.9 269.4L373.9 269.7L373.9 270.1L373.9 270.4L373.9 270.7L373.9 271.1L373.9 271.4L373.9 271.7L373.9 272.1L374.0 272.4L374.0 272.8L374.0 273.1L374.0 273.5L374.0 273.8L374.0 274.2L374.0 274.6L374.0 274.9L374.0 275.3L374.0 275.7L374.0 276.0L374.0 276.4L374.0 276.7L374.1 277.1L374.1 277.5L374.1 277.9L374.1 278.2L374.1 278.6L374.1 279.0L374.1 279.4L374.1 279.7L374.1 280.1L374.1 280.5L374.1 280.9L374.1 281.2L374.1 281.6L374.1 282.0L374.1 282.4L374.1 282.8L374.2 283.2L374.2 283.5L374.2 283.9L374.2 284.3L374.2 284.7L374.2 285.1L374.2 285.5L374.2 285.9L374.2 286.3L374.2 286.7L374.2 287.1L374.2 287.5L374.2 287.9L374.2 288.3L374.2 288.7L374.2 289.1L374.2 289.5L374.2 289.9L374.2 290.3L374.2 290.7L374.2 291.1L374.2 291.5L374.3 291.9L374.3 292.3L374.3 292.8L374.3 293.2L374.3 293.6L374.3 294.0L374.3 294.4L374.3 294.9L374.3 295.3L374.3 295.7L374.3 296.2L374.3 296.6L374.3 297.0L374.3 297.5L374.3 297.9L374.3 298.4L374.3 298.8L374.3 299.2L374.3 299.7L374.3 300.1L374.3 300.6L374.3 301.0L374.3 301.5L374.3 301.9L374.4 302.4L374.4 302.9L374.4 303.3L374.4 303.8L374.4 304.2L374.4 304.7L374.4 305.1L374.4 305.6L374.4 306.1L374.4 306.5L374.4 307.0L374.4 307.4L374.4 307.9L374.4 308.3L374.4 308.8L374.4 309.3L374.4 309.7L374.4 310.2L374.4 310.6L374.4 311.1L374.4 311.5L374.4 312.0L374.4 312.4L374.4 312.9L374.5 313.3L374.5 313.8L374.5 314.2L374.5 314.7L374.5 315.1L374.5 315.6L374.5 316.0L374.5 316.4L374.5 316.9L374.5 317.3L374.5 317.7L374.5 318.2L374.5 318.6L374.5 319.0L374.5 319.4L374.5 319.9L374.5 320.3L374.5 320.7L374.5 321.1L374.5 321.5L374.5 321.9L374.5 322.3L374.6 322.7L374.6 323.1L374.6 323.5L374.6 323.9L374.6 324.3L374.6 324.7L374.6 325.0L374.6 325.4L374.6 325.8L374.6 326.2L374.6 326.5L374.6 326.9L374.6 327.3L374.6 327.6L374.6 328.0L374.6 328.3L374.6 328.7L374.6 329.0L374.6 329.4L374.6 329.7L374.7 330.1L374.7 330.4L374.7 330.7L374.7 331.0L374.7 331.4L374.7 331.7L374.7 332.0L374.7 332.3L374.7 332.6L374.7 332.9L374.7 333.2L374.7 333.5L374.7 333.8L374.7 334.1L374.7 334.4L374.7 334.7L374.8 335.0L374.8 335.2L374.8 335.5L374.8 335.8L374.8 336.0L374.8 336.3L374.8 336.6L374.8 336.8L374.8 337.1L374.8 337.3L374.8 337.5L374.8 337.8L374.8 338.0L374.8 338.2L374.9 338.5L374.9 338.7L374.9 338.9L374.9 339.1L374.9 339.3L374.9 339.5L374.9 339.2L375.0 339.0L375.0 338.7L375.0 338.4L375.1 338.1L375.1 337.9L375.2 337.6L375.2 337.3L375.2 337.0L375.3 336.8L375.3 336.5L375.3 336.2L375.4 335.9L375.4 335.6L375.5 335.4L375.5 335.1L375.5 334.8L375.6 334.5L375.6 334.2L375.7 333.9L375.7 333.7L375.7 333.4L375.8 333.1L375.8 332.8L375.9 332.5L375.9 332.2L375.9 331.9L376.0 331.6L376.0 331.3L376.1 331.0L376.1 330.7L376.1 330.4L376.2 330.1L376.2 329.8L376.3 329.5L376.3 329.2L376.4 328.9L376.4 328.5L376.4 328.2L376.5 327.9L376.5 327.6L376.6 327.2L376.6 326.9L376.6 326.6L376.7 326.3L376.7 325.9L376.7 325.6L376.8 325.2L376.8 324.9L376.9 324.5L376.9 324.2L376.9 323.8L377.0 323.5L377.0 323.1L377.0 322.8L377.1 322.4L377.1 322.0L377.2 321.6L377.2 321.3L377.2 320.9L377.3 320.5L377.3 320.1L377.3 319.7L377.4 319.3L377.4 318.9L377.4 318.5L377.4 318.1L377.5 317.7L377.5 317.3L377.5 316.9L377.6 316.4L377.6 316.0L377.6 315.6L377.6 315.2L377.7 314.7L377.7 314.3L377.7 313.8L377.8 313.4L377.8 313.0L377.8 312.5L377.8 312.1L377.8 311.6L377.9 311.2L377.9 310.7L377.9 310.2L377.9 309.8L378.0 309.3L378.0 308.9L378.0 308.4L378.0 307.9L378.0 307.5L378.1 307.0L378.1 306.6L378.1 306.1L378.1 305.6L378.1 305.2L378.1 304.7L378.2 304.2L378.2 303.8L378.2 303.3L378.2 302.9L378.2 302.4L378.2 301.9L378.3 301.5L378.3 301.0L378.3 300.6L378.3 300.1L378.3 299.7L378.3 299.2L378.3 298.8L378.4 298.3L378.4 297.9L378.4 297.4L378.4 297.0L378.4 296.5L378.4 296.1L378.4 295.7L378.4 295.2L378.5 294.8L378.5 294.4L378.5 294.0L378.5 293.5L378.5 293.1L378.5 292.7L378.5 292.3L378.5 291.9L378.5 291.5L378.6 291.1L378.6 290.6L378.6 290.2L378.6 289.8L378.6 289.4L378.6 289.0L378.6 288.6L378.6 288.2L378.6 287.8L378.6 287.4L378.7 287.0L378.7 286.7L378.7 286.3L378.7 285.9L378.7 285.5L378.7 285.1L378.7 284.7L378.7 284.3L378.7 283.9L378.7 283.6L378.7 283.2L378.7 282.8L378.8 282.4L378.8 282.0L378.8 281.7L378.8 281.3L378.8 280.9L378.8 280.5L378.8 280.2L378.8 279.8L378.8 279.4L378.8 279.0L378.8 278.7L378.9 278.3L378.9 277.9L378.9 277.6L378.9 277.2L378.9 276.8L378.9 276.5L378.9 276.1L378.9 275.7L378.9 275.4L378.9 275.0L378.9 274.7L379.0 274.3L379.0 273.9L379.0 273.6L379.0 273.2L379.0 272.9L379.0 272.6L379.0 272.2L379.0 271.9L379.0 271.5L379.1 271.2L379.1 270.9L379.1 270.5L379.1 270.2L379.1 269.9L379.1 269.6L379.1 269.2L379.1 268.9L379.2 268.6L379.2 268.3L379.2 268.0L379.2 267.7L379.2 267.4L379.2 267.1L379.3 266.8L379.3 266.5L379.3 266.2L379.3 265.9L379.3 265.6L379.3 265.3L379.4 265.1L379.4 264.8L379.4 264.5L379.4 264.2L379.4 263.9L379.5 263.7L379.5 263.4L379.5 263.1L379.5 262.8L379.5 262.6L379.6 262.3L379.6 262.0L379.6 261.7L379.6 261.4L379.6 261.2L379.7 260.9L379.7 260.6L379.7 260.3L379.7 260.0L379.7 259.8L379.7 259.5L379.8 259.2L379.8 258.9L379.8 258.6L379.8 258.3L379.8 258.0L379.9 257.7L379.9 257.5L379.9 257.2L379.9 257.0L379.9 256.7L379.9 256.5L380.0 256.3L380.0 256.1L380.0 255.9L380.0 255.7L380.0 255.6L380.0 255.5L380.1 255.4L380.1 255.3L380.1 255.3L380.1 255.2L380.1 255.3L380.1 255.3L380.1 255.4L380.2 255.5L380.2 255.6L380.2 255.7L380.2 255.9L380.2 256.1L380.2 256.3L380.2 256.5L380.3 256.7L380.3 256.9L380.3 257.2L380.3 257.4L380.3 257.7L380.3 258.0L380.3 258.3L380.3 258.6L380.4 258.9L380.4 259.2L380.4 259.4L380.4 259.7L380.4 260.0L380.4 260.3L380.4 260.6L380.4 260.9L380.5 261.1L380.5 261.4L380.5 261.7L380.5 262.0L380.5 262.3L380.5 262.5L380.5 262.8L380.5 263.1L380.5 263.4L380.6 263.6L380.6 263.9L380.6 264.2L380.6 264.5L380.6 264.8L380.6 265.0L380.6 265.3L380.6 265.6L380.6 265.9L380.6 266.2L380.7 266.5L380.7 266.8L380.7 267.1L380.7 267.4L380.7 267.7L380.7 268.0L380.7 268.3L380.7 268.6L380.7 268.9L380.7 269.2L380.8 269.5L380.8 269.9L380.8 270.2L380.8 270.5L380.8 270.8L380.8 271.2L380.8 271.5L380.8 271.9L380.8 272.2L380.8 272.5L380.8 272.9L380.8 273.2L380.9 273.6L380.9 273.9L380.9 274.3L380.9 274.6L380.9 275.0L380.9 275.3L380.9 275.7L380.9 276.1L380.9 276.4L380.9 276.8L380.9 277.2L380.9 277.5L381.0 277.9L381.0 278.3L381.0 278.6L381.0 279.0L381.0 279.4L381.0 279.8L381.0 280.1L381.0 280.5L381.0 280.9L381.0 281.3L381.0 281.6L381.0 282.0L381.0 282.4L381.0 282.8L381.0 283.2L381.0 283.6L381.1 283.9L381.1 284.3L381.1 284.7L381.1 285.1L381.1 285.5L381.1 285.9L381.1 286.3L381.1 286.7L381.1 287.1L381.1 287.4L381.1 287.8L381.1 288.2L381.1 288.6L381.1 289.0L381.1 289.4L381.1 289.8L381.1 290.3L381.1 290.7L381.1 291.1L381.1 291.5L381.1 291.9L381.2 292.3L381.2 292.7L381.2 293.1L381.2 293.5L381.2 294.0L381.2 294.4L381.2 294.8L381.2 295.2L381.2 295.7L381.2 296.1L381.2 296.5L381.2 297.0L381.2 297.4L381.2 297.8L381.2 298.3L381.2 298.7L381.2 299.2L381.2 299.6L381.2 300.0L381.2 300.5L381.2 300.9L381.2 301.4L381.2 301.8L381.2 302.3L381.2 302.8L381.3 303.2L381.3 303.7L381.3 304.1L381.3 304.6L381.3 305.0L381.3 305.5L381.3 306.0L381.3 306.4L381.3 306.9L381.3 307.3L381.3 307.8L381.3 308.2L381.3 308.7L381.3 309.2L381.3 309.6L381.3 310.1L381.3 310.5L381.3 311.0L381.3 311.4L381.3 311.9L381.3 312.3L381.3 312.8L381.3 313.2L381.4 313.7L381.4 314.1L381.4 314.6L381.4 315.0L381.4 315.5L381.4 315.9L381.4 316.4L381.4 316.8L381.4 317.2L381.4 317.7L381.4 318.1L381.4 318.5L381.4 318.9L381.4 319.4L381.4 319.8L381.4 320.2L381.4 320.6L381.4 321.0L381.4 321.4L381.4 321.8L381.4 322.2L381.4 322.6L381.5 323.0L381.5 323.4L381.5 323.8L381.5 324.2L381.5 324.6L381.5 325.0L381.5 325.4L381.5 325.7L381.5 326.1L381.5 326.5L381.5 326.9L381.5 327.2L381.5 327.6L381.5 327.9L381.5 328.3L381.5 328.7L381.5 329.0L381.5 329.3L381.5 329.7L381.5 330.0L381.6 330.4L381.6 330.7L381.6 331.0L381.6 331.3L381.6 331.7L381.6 332.0L381.6 332.3L381.6 332.6L381.6 332.9L381.6 333.2L381.6 333.5L381.6 333.8L381.6 334.1L381.6 334.4L381.6 334.7L381.6 335.0L381.7 335.2L381.7 335.5L381.7 335.8L381.7 336.0L381.7 336.3L381.7 336.6L381.7 336.8L381.7 337.1L381.7 337.3L381.7 337.5L381.7 337.8L381.7 338.0L381.7 338.2L381.8 338.5L381.8 338.7L381.8 338.9L381.8 339.1L381.8 339.3L381.8 339.5L381.8 339.2L381.9 339.0L381.9 338.7L381.9 338.4L382.0 338.1L382.0 337.9L382.0 337.6L382.1 337.3L382.1 337.0L382.2 336.7L382.2 336.5L382.2 336.2L382.3 335.9L382.3 335.6L382.4 335.4L382.4 335.1L382.4 334.8L382.5 334.5L382.5 334.2L382.5 333.9L382.6 333.6L382.6 333.4L382.7 333.1L382.7 332.8L382.8 332.5L382.8 332.2L382.8 331.9L382.9 331.6L382.9 331.3L383.0 331.0L383.0 330.7L383.0 330.4L383.1 330.1L383.1 329.8L383.2 329.5L383.2 329.1L383.2 328.8L383.3 328.5L383.3 328.2L383.4 327.9L383.4 327.5L383.4 327.2L383.5 326.9L383.5 326.5L383.6 326.2L383.6 325.9L383.6 325.5L383.7 325.2L383.7 324.8L383.7 324.5L383.8 324.1L383.8 323.8L383.9 323.4L383.9 323.1L383.9 322.7L384.0 322.3L384.0 321.9L384.0 321.6L384.1 321.2L384.1 320.8L384.1 320.4L384.2 320.0L384.2 319.6L384.2 319.2L384.3 318.8L384.3 318.4L384.3 318.0L384.3 317.6L384.4 317.2L384.4 316.7L384.4 316.3L384.5 315.9L384.5 315.5L384.5 315.0L384.5 314.6L384.6 314.1L384.6 313.7L384.6 313.3L384.6 312.8L384.7 312.4L384.7 311.9L384.7 311.4L384.7 311.0L384.7 310.5L384.8 310.1L384.8 309.6L384.8 309.2L384.8 308.7L384.8 308.2L384.9 307.8L384.9 307.3L384.9 306.8L384.9 306.4L384.9 305.9L385.0 305.5L385.0 305.0L385.0 304.5L385.0 304.1L385.0 303.6L385.0 303.1L385.0 302.7L385.1 302.2L385.1 301.8L385.1 301.3L385.1 300.8L385.1 300.4L385.1 299.9L385.1 299.5L385.2 299.0L385.2 298.6L385.2 298.1L385.2 297.7L385.2 297.3L385.2 296.8L385.2 296.4L385.2 296.0L385.3 295.5L385.3 295.1L385.3 294.7L385.3 294.3L385.3 293.8L385.3 293.4L385.3 293.0L385.3 292.6L385.3 292.2L385.4 291.8L385.4 291.4L385.4 290.9L385.4 290.5L385.4 290.1L385.4 289.7L385.4 289.3L385.4 288.9L385.4 288.5L385.4 288.1L385.5 287.8L385.5 287.4L385.5 287.0L385.5 286.6L385.5 286.2L385.5 285.8L385.5 285.4L385.5 285.0L385.5 284.6L385.5 284.3L385.5 283.9L385.5 283.5L385.6 283.1L385.6 282.7L385.6 282.4L385.6 282.0L385.6 281.6L385.6 281.2L385.6 280.9L385.6 280.5L385.6 280.1L385.6 279.7L385.6 279.4L385.7 279.0L385.7 278.6L385.7 278.3L385.7 277.9L385.7 277.5L385.7 277.2L385.7 276.8L385.7 276.4L385.7 276.1L385.7 275.7L385.7 275.4L385.8 275.0L385.8 274.7L385.8 274.3L385.8 274.0L385.8 273.6L385.8 273.3L385.8 272.9L385.8 272.6L385.9 272.2L385.9 271.9L385.9 271.6L385.9 271.2L385.9 270.9L385.9 270.6L385.9 270.3L385.9 270.0L386.0 269.6L386.0 269.3L386.0 269.0L386.0 268.7L386.0 268.4L386.0 268.1L386.1 267.8L386.1 267.5L386.1 267.2L386.1 266.9L386.1 266.7L386.1 266.4L386.2 266.1L386.2 265.8L386.2 265.5L386.2 265.2L386.2 265.0L386.3 264.7L386.3 264.4L386.3 264.1L386.3 263.9L386.3 263.6L386.4 263.3L386.4 263.0L386.4 262.7L386.4 262.5L386.4 262.2L386.5 261.9L386.5 261.6L386.5 261.3L386.5 261.1L386.5 260.8L386.6 260.5L386.6 260.2L386.6 259.9L386.6 259.6L386.6 259.3L386.6 259.0L386.7 258.8L386.7 258.5L386.7 258.2L386.7 258.0L386.7 257.7L386.7 257.5L386.8 257.3L386.8 257.1L386.8 256.9L386.8 256.8L386.8 256.6L386.8 256.5L386.9 256.4L386.9 256.4L386.9 256.4L386.9 256.4L386.9 256.4L386.9 256.4L387.0 256.5L387.0 256.6L387.0 256.7L387.0 256.9L387.0 257.1L387.0 257.3L387.0 257.5L387.0 257.7L387.1 257.9L387.1 258.2L387.1 258.4L387.1 258.7L387.1 259.0L387.1 259.3L387.1 259.5L387.2 259.8L387.2 260.1L387.2 260.4L387.2 260.7L387.2 261.0L387.2 261.3L387.2 261.6L387.2 261.8L387.2 262.1L387.3 262.4L387.3 262.7L387.3 263.0L387.3 263.2L387.3 263.5L387.3 263.8L387.3 264.1L387.3 264.3L387.3 264.6L387.4 264.9L387.4 265.2L387.4 265.5L387.4 265.7L387.4 266.0L387.4 266.3L387.4 266.6L387.4 266.9L387.4 267.2L387.5 267.5L387.5 267.8L387.5 268.0L387.5 268.3L387.5 268.6L387.5 269.0L387.5 269.3L387.5 269.6L387.5 269.9L387.5 270.2L387.6 270.5L387.6 270.8L387.6 271.2L387.6 271.5L387.6 271.8L387.6 272.2L387.6 272.5L387.6 272.8L387.6 273.2L387.6 273.5L387.6 273.9L387.7 274.2L387.7 274.6L387.7 274.9L387.7 275.3L387.7 275.6L387.7 276.0L387.7 276.3L387.7 276.7L387.7 277.1L387.7 277.4L387.7 277.8L387.7 278.2L387.7 278.5L387.8 278.9L387.8 279.3L387.8 279.7L387.8 280.0L387.8 280.4L387.8 280.8L387.8 281.2L387.8 281.5L387.8 281.9L387.8 282.3L387.8 282.7L387.8 283.0L387.8 283.4L387.8 283.8L387.8 284.2L387.9 284.6L387.9 285.0L387.9 285.3L387.9 285.7L387.9 286.1L387.9 286.5L387.9 286.9L387.9 287.3L387.9 287.7L387.9 288.1L387.9 288.5L387.9 288.9L387.9 289.3L387.9 289.7L387.9 290.1L387.9 290.5L387.9 290.9L387.9 291.3L387.9 291.7L387.9 292.1L387.9 292.5L388.0 292.9L388.0 293.4L388.0 293.8L388.0 294.2L388.0 294.6L388.0 295.0L388.0 295.5L388.0 295.9L388.0 296.3L388.0 296.7L388.0 297.2L388.0 297.6L388.0 298.0L388.0 298.5L388.0 298.9L388.0 299.4L388.0 299.8L388.0 300.3L388.0 300.7L388.0 301.1L388.0 301.6L388.0 302.1L388.0 302.5L388.0 303.0L388.1 303.4L388.1 303.9L388.1 304.3L388.1 304.8L388.1 305.2L388.1 305.7L388.1 306.2L388.1 306.6L388.1 307.1L388.1 307.5L388.1 308.0L388.1 308.4L388.1 308.9L388.1 309.4L388.1 309.8L388.1 310.3L388.1 310.7L388.1 311.2L388.1 311.6L388.1 312.1L388.1 312.5L388.1 313.0L388.1 313.5L388.2 313.9L388.2 314.3L388.2 314.8L388.2 315.2L388.2 315.7L388.2 316.1L388.2 316.6L388.2 317.0L388.2 317.4L388.2 317.9L388.2 318.3L388.2 318.7L388.2 319.1L388.2 319.6L388.2 320.0L388.2 320.4L388.2 320.8L388.2 321.2L388.2 321.6L388.2 322.0L388.2 322.4L388.2 322.8L388.3 323.2L388.3 323.6L388.3 324.0L388.3 324.4L388.3 324.8L388.3 325.2L388.3 325.6L388.3 325.9L388.3 326.3L388.3 326.7L388.3 327.1L388.3 327.4L388.3 327.8L388.3 328.1L388.3 328.5L388.3 328.8L388.3 329.2L388.3 329.5L388.3 329.9L388.4 330.2L388.4 330.5L388.4 330.9L388.4 331.2L388.4 331.5L388.4 331.8L388.4 332.2L388.4 332.5L388.4 332.8L388.4 333.1L388.4 333.4L388.4 333.7L388.4 334.0L388.4 334.3L388.4 334.6L388.4 334.8L388.5 335.1L388.5 335.4L388.5 335.7L388.5 335.9L388.5 336.2L388.5 336.4L388.5 336.7L388.5 336.9L388.5 337.2L388.5 337.4L388.5 337.7L388.5 337.9L388.5 338.1L388.6 338.3L388.6 338.6L388.6 338.8L388.6 339.0L388.6 339.2L388.6 339.4L388.6 339.1L388.7 338.8L388.7 338.6L388.8 338.3L388.8 338.0L388.8 337.7L388.9 337.5L388.9 337.2L389.0 336.9L389.0 336.6L389.0 336.4L389.1 336.1L389.1 335.8L389.2 335.5L389.2 335.2L389.3 335.0L389.3 334.7L389.3 334.4L389.4 334.1L389.4 333.8L389.5 333.5L389.5 333.2L389.6 332.9L389.6 332.7L389.7 332.4L389.7 332.1L389.8 331.8L389.8 331.5L389.8 331.2L389.9 330.9L389.9 330.6L390.0 330.3L390.0 329.9L390.1 329.6L390.1 329.3L390.2 329.0L390.2 328.7L390.2 328.4L390.3 328.0L390.3 327.7L390.4 327.4L390.4 327.1L390.5 326.7L390.5 326.4L390.6 326.1L390.6 325.7L390.6 325.4L390.7 325.0L390.7 324.7L390.8 324.3L390.8 324.0L390.8 323.6L390.9 323.2L390.9 322.9L391.0 322.5L391.0 322.1L391.0 321.8L391.1 321.4L391.1 321.0L391.2 320.6L391.2 320.2L391.2 319.8L391.3 319.4L391.3 319.0L391.3 318.6L391.4 318.2L391.4 317.8L391.4 317.4L391.5 316.9L391.5 316.5L391.5 316.1L391.6 315.6L391.6 315.2L391.6 314.8L391.6 314.3L391.7 313.9L391.7 313.4L391.7 313.0L391.8 312.5L391.8 312.1L391.8 311.6L391.8 311.2L391.9 310.7L391.9 310.2L391.9 309.8L391.9 309.3L391.9 308.9L392.0 308.4L392.0 307.9L392.0 307.5L392.0 307.0L392.1 306.5L392.1 306.1L392.1 305.6L392.1 305.1L392.1 304.7L392.2 304.2L392.2 303.8L392.2 303.3L392.2 302.8L392.2 302.4L392.2 301.9L392.3 301.5L392.3 301.0L392.3 300.5L392.3 300.1L392.3 299.6L392.3 299.2L392.3 298.8L392.4 298.3L392.4 297.9L392.4 297.4L392.4 297.0L392.4 296.6L392.4 296.1L392.4 295.7L392.5 295.3L392.5 294.9L392.5 294.4L392.5 294.0L392.5 293.6L392.5 293.2L392.5 292.8L392.5 292.4L392.6 291.9L392.6 291.5L392.6 291.1L392.6 290.7L392.6 290.3L392.6 289.9L392.6 289.5L392.6 289.1L392.6 288.7L392.6 288.3L392.7 287.9L392.7 287.6L392.7 287.2L392.7 286.8L392.7 286.4L392.7 286.0L392.7 285.6L392.7 285.2L392.7 284.8L392.7 284.5L392.8 284.1L392.8 283.7L392.8 283.3L392.8 282.9L392.8 282.6L392.8 282.2L392.8 281.8L392.8 281.4L392.8 281.1L392.8 280.7L392.8 280.3L392.9 279.9L392.9 279.6L392.9 279.2L392.9 278.8L392.9 278.5L392.9 278.1L392.9 277.7L392.9 277.4L392.9 277.0L392.9 276.7L392.9 276.3L393.0 275.9L393.0 275.6L393.0 275.2L393.0 274.9L393.0 274.5L393.0 274.2L393.0 273.8L393.0 273.5L393.0 273.2L393.1 272.8L393.1 272.5L393.1 272.2L393.1 271.8L393.1 271.5L393.1 271.2L393.1 270.9L393.2 270.6L393.2 270.2L393.2 269.9L393.2 269.6L393.2 269.3L393.2 269.0L393.3 268.7L393.3 268.4L393.3 268.1L393.3 267.9L393.3 267.6L393.3 267.3L393.4 267.0L393.4 266.7L393.4 266.4L393.4 266.2L393.4 265.9L393.5 265.6L393.5 265.3L393.5 265.0L393.5 264.8L393.5 264.5L393.6 264.2L393.6 263.9L393.6 263.7L393.6 263.4L393.6 263.1L393.7 262.8L393.7 262.5L393.7 262.2L393.7 262.0L393.7 261.7L393.8 261.4L393.8 261.1L393.8 260.8L393.8 260.5L393.8 260.2L393.9 259.9L393.9 259.7L393.9 259.4L393.9 259.1L393.9 258.9L393.9 258.7L394.0 258.5L394.0 258.3L394.0 258.1L394.0 257.9L394.0 257.8L394.0 257.6L394.1 257.6L394.1 257.5L394.1 257.5L394.1 257.4L394.1 257.5L394.1 257.5L394.1 257.6L394.2 257.7L394.2 257.8L394.2 258.0L394.2 258.1L394.2 258.3L394.2 258.5L394.2 258.7L394.3 259.0L394.3 259.2L394.3 259.5L394.3 259.8L394.3 260.0L394.3 260.3L394.3 260.6L394.4 260.9L394.4 261.2L394.4 261.5L394.4 261.8L394.4 262.1L394.4 262.3L394.4 262.6L394.4 262.9L394.5 263.2L394.5 263.5L394.5 263.7L394.5 264.0L394.5 264.3L394.5 264.6L394.5 264.9L394.5 265.1L394.5 265.4L394.6 265.7L394.6 266.0L394.6 266.2L394.6 266.5L394.6 266.8L394.6 267.1L394.6 267.4L394.6 267.7L394.6 267.9L394.7 268.2L394.7 268.5L394.7 268.8L394.7 269.1L394.7 269.4L394.7 269.7L394.7 270.0L394.7 270.3L394.7 270.7L394.7 271.0L394.8 271.3L394.8 271.6L394.8 271.9L394.8 272.3L394.8 272.6L394.8 272.9L394.8 273.3L394.8 273.6L394.8 273.9L394.8 274.3L394.8 274.6L394.9 275.0L394.9 275.3L394.9 275.7L394.9 276.0L394.9 276.4L394.9 276.8L394.9 277.1L394.9 277.5L394.9 277.8L394.9 278.2L394.9 278.6L394.9 278.9L394.9 279.3L395.0 279.7L395.0 280.0L395.0 280.4L395.0 280.8L395.0 281.2L395.0 281.5L395.0 281.9L395.0 282.3L395.0 282.7L395.0 283.0L395.0 283.4L395.0 283.8L395.0 284.2L395.0 284.6L395.1 285.0L395.1 285.3L395.1 285.7L395.1 286.1L395.1 286.5L395.1 286.9L395.1 287.3L395.1 287.7L395.1 288.1L395.1 288.5L395.1 288.9L395.1 289.3L395.1 289.7L395.1 290.1L395.1 290.5L395.1 290.9L395.1 291.3L395.1 291.7L395.1 292.1L395.2 292.5L395.2 292.9L395.2 293.3L395.2 293.7L395.2 294.1L395.2 294.6L395.2 295.0L395.2 295.4L395.2 295.8L395.2 296.3L395.2 296.7L395.2 297.1L395.2 297.5L395.2 298.0L395.2 298.4L395.2 298.9L395.2 299.3L395.2 299.7L395.2 300.2L395.2 300.6L395.2 301.1L395.2 301.5L395.3 302.0L395.3 302.4L395.3 302.9L395.3 303.3L395.3 303.8L395.3 304.2L395.3 304.7L395.3 305.2L395.3 305.6L395.3 306.1L395.3 306.5L395.3 307.0L395.3 307.4L395.3 307.9L395.3 308.4L395.3 308.8L395.3 309.3L395.3 309.7L395.3 310.2L395.3 310.6L395.3 311.1L395.4 311.6L395.4 312.0L395.4 312.5L395.4 312.9L395.4 313.4L395.4 313.8L395.4 314.3L395.4 314.7L395.4 315.2L395.4 315.6L395.4 316.0L395.4 316.5L395.4 316.9L395.4 317.4L395.4 317.8L395.4 318.2L395.4 318.6L395.4 319.1L395.4 319.5L395.5 319.9L395.5 320.3L395.5 320.7L395.5 321.2L395.5 321.6L395.5 322.0L395.5 322.4L395.5 322.8L395.5 323.2L395.5 323.6L395.5 324.0L395.5 324.3L395.5 324.7L395.5 325.1L395.5 325.5L395.5 325.9L395.6 326.2L395.6 326.6L395.6 327.0L395.6 327.3L395.6 327.7L395.6 328.1L395.6 328.4L395.6 328.8L395.6 329.1L395.6 329.5L395.6 329.8L395.6 330.1L395.6 330.5L395.7 330.8L395.7 331.1L395.7 331.4L395.7 331.8L395.7 332.1L395.7 332.4L395.7 332.7L395.7 333.0L395.7 333.3L395.7 333.6L395.7 333.9L395.8 334.2L395.8 334.4L395.8 334.7L395.8 335.0L395.8 335.3L395.8 335.5L395.8 335.8L395.8 336.0L395.8 336.3L395.8 336.5L395.9 336.8L395.9 337.0L395.9 337.3L395.9 337.5L395.9 337.7L395.9 338.0L395.9 338.2L395.9 338.4L396.0 338.6L396.0 338.8L396.0 339.0L396.0 338.7L396.0 338.5L396.1 338.2L396.1 337.9L396.2 337.6L396.2 337.4L396.2 337.1L396.3 336.8L396.3 336.5L396.3 336.2L396.4 336.0L396.4 335.7L396.5 335.4L396.5 335.1L396.5 334.8L396.6 334.6L396.6 334.3L396.7 334.0L396.7 333.7L396.7 333.4L396.8 333.1L396.8 332.8L396.9 332.5L396.9 332.3L396.9 332.0L397.0 331.7L397.0 331.4L397.1 331.1L397.1 330.8L397.2 330.5L397.2 330.1L397.2 329.8L397.3 329.5L397.3 329.2L397.4 328.9L397.4 328.6L397.4 328.3L397.5 327.9L397.5 327.6L397.6 327.3L397.6 327.0L397.6 326.6L397.7 326.3L397.7 326.0L397.8 325.6L397.8 325.3L397.8 324.9L397.9 324.6L397.9 324.2L397.9 323.9L398.0 323.5L398.0 323.1L398.1 322.8L398.1 322.4L398.1 322.0L398.2 321.6L398.2 321.3L398.2 320.9L398.3 320.5L398.3 320.1L398.3 319.7L398.4 319.3L398.4 318.9L398.4 318.5L398.5 318.1L398.5 317.7L398.5 317.2L398.5 316.8L398.6 316.4L398.6 315.9L398.6 315.5L398.6 315.1L398.7 314.6L398.7 314.2L398.7 313.7L398.7 313.3L398.8 312.8L398.8 312.4L398.8 311.9L398.8 311.5L398.9 311.0L398.9 310.6L398.9 310.1L398.9 309.6L398.9 309.2L399.0 308.7L399.0 308.3L399.0 307.8L399.0 307.3L399.0 306.9L399.1 306.4L399.1 305.9L399.1 305.5L399.1 305.0L399.1 304.5L399.1 304.1L399.1 303.6L399.2 303.2L399.2 302.7L399.2 302.2L399.2 301.8L399.2 301.3L399.2 300.9L399.3 300.4L399.3 300.0L399.3 299.5L399.3 299.1L399.3 298.6L399.3 298.2L399.3 297.7L399.3 297.3L399.4 296.9L399.4 296.4L399.4 296.0L399.4 295.6L399.4 295.2L399.4 294.8L399.4 294.3L399.4 293.9L399.4 293.5L399.5 293.1L399.5 292.7L399.5 292.3L399.5 291.9L399.5 291.5L399.5 291.1L399.5 290.7L399.5 290.3L399.5 289.9L399.5 289.5L399.6 289.1L399.6 288.7L399.6 288.3L399.6 287.9L399.6 287.5L399.6 287.1L399.6 286.7L399.6 286.3L399.6 285.9L399.6 285.6L399.6 285.2L399.7 284.8L399.7 284.4L399.7 284.0L399.7 283.7L399.7 283.3L399.7 282.9L399.7 282.5L399.7 282.2L399.7 281.8L399.7 281.4L399.7 281.0L399.7 280.7L399.8 280.3L399.8 279.9L399.8 279.6L399.8 279.2L399.8 278.8L399.8 278.5L399.8 278.1L399.8 277.7L399.8 277.4L399.8 277.0L399.9 276.7L399.9 276.3L399.9 276.0L399.9 275.6L399.9 275.3L399.9 274.9L399.9 274.6L399.9 274.2L400.0 273.9L400.0 273.6L400.0 273.2L400.0 272.9L400.0 272.6L400.0 272.2L400.0 271.9L400.1 271.6L400.1 271.3L400.1 271.0L400.1 270.7L400.1 270.4L400.1 270.1L400.1 269.8L400.2 269.5L400.2 269.2L400.2 268.9L400.2 268.6L400.2 268.3L400.3 268.0L400.3 267.7L400.3 267.5L400.3 267.2L400.3 266.9L400.4 266.6L400.4 266.3L400.4 266.1L400.4 265.8L400.4 265.5L400.5 265.2L400.5 265.0L400.5 264.7L400.5 264.4L400.5 264.1L400.6 263.8L400.6 263.6L400.6 263.3L400.6 263.0L400.6 262.7L400.7 262.4L400.7 262.1L400.7 261.8L400.7 261.5L400.7 261.2L400.8 261.0L400.8 260.7L400.8 260.4L400.8 260.2L400.8 259.9L400.8 259.7L400.9 259.5L400.9 259.3L400.9 259.1L400.9 259.0L400.9 258.8L400.9 258.7L401.0 258.7L401.0 258.6L401.0 258.6L401.0 258.6L401.0 258.6L401.0 258.7L401.1 258.8L401.1 258.9L401.1 259.0L401.1 259.2L401.1 259.4L401.1 259.6L401.1 259.8L401.2 260.0L401.2 260.2L401.2 260.5L401.2 260.8L401.2 261.0L401.2 261.3L401.2 261.6L401.3 261.9L401.3 262.2L401.3 262.5L401.3 262.8L401.3 263.1L401.3 263.3L401.3 263.6L401.3 263.9L401.4 264.2L401.4 264.5L401.4 264.7L401.4 265.0L401.4 265.3L401.4 265.6L401.4 265.9L401.4 266.1L401.4 266.4L401.5 266.7L401.5 267.0L401.5 267.2L401.5 267.5L401.5 267.8L401.5 268.1L401.5 268.4L401.5 268.7L401.5 269.0L401.6 269.2L401.6 269.5L401.6 269.8L401.6 270.1L401.6 270.4L401.6 270.7L401.6 271.0L401.6 271.4L401.6 271.7L401.6 272.0L401.7 272.3L401.7 272.6L401.7 273.0L401.7 273.3L401.7 273.6L401.7 274.0L401.7 274.3L401.7 274.6L401.7 275.0L401.7 275.3L401.7 275.7L401.8 276.0L401.8 276.4L401.8 276.7L401.8 277.1L401.8 277.4L401.8 277.8L401.8 278.2L401.8 278.5L401.8 278.9L401.8 279.2L401.8 279.6L401.8 280.0L401.9 280.4L401.9 280.7L401.9 281.1L401.9 281.5L401.9 281.8L401.9 282.2L401.9 282.6L401.9 283.0L401.9 283.4L401.9 283.7L401.9 284.1L401.9 284.5L401.9 284.9L401.9 285.3L402.0 285.6L402.0 286.0L402.0 286.4L402.0 286.8L402.0 287.2L402.0 287.6L402.0 288.0L402.0 288.4L402.0 288.8L402.0 289.1L402.0 289.5L402.0 289.9L402.0 290.3L402.0 290.7L402.0 291.1L402.0 291.5L402.0 292.0L402.1 292.4L402.1 292.8L402.1 293.2L402.1 293.6L402.1 294.0L402.1 294.4L402.1 294.8L402.1 295.3L402.1 295.7L402.1 296.1L402.1 296.5L402.1 297.0L402.1 297.4L402.1 297.8L402.1 298.3L402.1 298.7L402.1 299.1L402.1 299.6L402.1 300.0L402.2 300.5L402.2 300.9L402.2 301.3L402.2 301.8L402.2 302.2L402.2 302.7L402.2 303.1L402.2 303.6L402.2 304.1L402.2 304.5L402.2 305.0L402.2 305.4L402.2 305.9L402.2 306.3L402.2 306.8L402.2 307.3L402.2 307.7L402.2 308.2L402.2 308.6L402.2 309.1L402.3 309.5L402.3 310.0L402.3 310.5L402.3 310.9L402.3 311.4L402.3 311.8L402.3 312.3L402.3 312.7L402.3 313.2L402.3 313.6L402.3 314.1L402.3 314.5L402.3 315.0L402.3 315.4L402.3 315.9L402.3 316.3L402.3 316.7L402.4 317.2L402.4 317.6L402.4 318.0L402.4 318.5L402.4 318.9L402.4 319.3L402.4 319.7L402.4 320.2L402.4 320.6L402.4 321.0L402.4 321.4L402.4 321.8L402.4 322.2L402.4 322.6L402.5 323.0L402.5 323.4L402.5 323.8L402.5 324.2L402.5 324.6L402.5 324.9L402.5 325.3L402.5 325.7L402.5 326.1L402.5 326.4L402.5 326.8L402.5 327.2L402.6 327.5L402.6 327.9L402.6 328.2L402.6 328.6L402.6 328.9L402.6 329.3L402.6 329.6L402.6 329.9L402.6 330.3L402.6 330.6L402.7 330.9L402.7 331.2L402.7 331.5L402.7 331.9L402.7 332.2L402.7 332.5L402.7 332.8L402.7 333.1L402.7 333.4L402.8 333.6L402.8 333.9L402.8 334.2L402.8 334.5L402.8 334.8L402.8 335.0L402.8 335.3L402.9 335.5L402.9 335.8L402.9 336.1L402.9 336.3L402.9 336.5L402.9 336.8L402.9 337.0L403.0 337.2L403.0 337.5L403.0 337.7L403.0 337.9L403.0 338.1L403.0 338.3L403.1 338.5L403.1 338.2L403.1 338.0L403.2 337.7L403.2 337.4L403.2 337.1L403.3 336.9L403.3 336.6L403.4 336.3L403.4 336.0L403.4 335.8L403.5 335.5L403.5 335.2L403.6 334.9L403.6 334.6L403.7 334.4L403.7 334.1L403.7 333.8L403.8 333.5L403.8 333.2L403.9 332.9L403.9 332.6L404.0 332.4L404.0 332.1L404.0 331.8L404.1 331.5L404.1 331.2L404.2 330.9L404.2 330.6L404.3 330.3L404.3 330.0L404.3 329.7L404.4 329.4L404.4 329.0L404.5 328.7L404.5 328.4L404.6 328.1L404.6 327.8L404.6 327.4L404.7 327.1L404.7 326.8L404.8 326.5L404.8 326.1L404.9 325.8L404.9 325.4L404.9 325.1L405.0 324.8L405.0 324.4L405.1 324.1L405.1 323.7L405.1 323.3L405.2 323.0L405.2 322.6L405.2 322.2L405.3 321.9L405.3 321.5L405.4 321.1L405.4 320.7L405.4 320.3L405.5 319.9L405.5 319.5L405.5 319.1L405.6 318.7L405.6 318.3L405.6 317.9L405.7 317.5L405.7 317.1L405.7 316.6L405.7 316.2L405.8 315.8L405.8 315.3L405.8 314.9L405.9 314.4L405.9 314.0L405.9 313.6L405.9 313.1L406.0 312.7L406.0 312.2L406.0 311.7L406.0 311.3L406.1 310.8L406.1 310.4L406.1 309.9L406.1 309.5L406.1 309.0L406.2 308.5L406.2 308.1L406.2 307.6L406.2 307.1L406.2 306.7L406.3 306.2L406.3 305.7L406.3 305.3L406.3 304.8L406.3 304.4L406.3 303.9L406.4 303.4L406.4 303.0L406.4 302.5L406.4 302.1L406.4 301.6L406.4 301.2L406.4 300.7L406.5 300.3L406.5 299.8L406.5 299.4L406.5 298.9L406.5 298.5L406.5 298.1L406.5 297.6L406.6 297.2L406.6 296.8L406.6 296.3L406.6 295.9L406.6 295.5L406.6 295.1L406.6 294.7L406.6 294.2L406.6 293.8L406.7 293.4L406.7 293.0L406.7 292.6L406.7 292.2L406.7 291.8L406.7 291.4L406.7 291.0L406.7 290.6L406.7 290.2L406.8 289.8L406.8 289.4L406.8 289.0L406.8 288.6L406.8 288.2L406.8 287.9L406.8 287.5L406.8 287.1L406.8 286.7L406.8 286.3L406.8 285.9L406.9 285.6L406.9 285.2L406.9 284.8L406.9 284.4L406.9 284.0L406.9 283.7L406.9 283.3L406.9 282.9L406.9 282.5L406.9 282.2L406.9 281.8L407.0 281.4L407.0 281.1L407.0 280.7L407.0 280.3L407.0 280.0L407.0 279.6L407.0 279.2L407.0 278.9L407.0 278.5L407.0 278.2L407.1 277.8L407.1 277.5L407.1 277.1L407.1 276.8L407.1 276.4L407.1 276.1L407.1 275.7L407.1 275.4L407.2 275.0L407.2 274.7L407.2 274.4L407.2 274.0L407.2 273.7L407.2 273.4L407.2 273.1L407.3 272.8L407.3 272.5L407.3 272.1L407.3 271.8L407.3 271.5L407.3 271.2L407.4 270.9L407.4 270.6L407.4 270.4L407.4 270.1L407.4 269.8L407.5 269.5L407.5 269.2L407.5 268.9L407.5 268.6L407.5 268.4L407.6 268.1L407.6 267.8L407.6 267.5L407.6 267.3L407.6 267.0L407.7 266.7L407.7 266.4L407.7 266.2L407.7 265.9L407.7 265.6L407.8 265.3L407.8 265.0L407.8 264.7L407.8 264.5L407.8 264.2L407.9 263.9L407.9 263.6L407.9 263.3L407.9 263.0L407.9 262.7L408.0 262.5L408.0 262.2L408.0 261.9L408.0 261.7L408.0 261.4L408.1 261.2L408.1 261.0L408.1 260.8L408.1 260.7L408.1 260.5L408.1 260.4L408.2 260.3L408.2 260.2L408.2 260.2L408.2 260.2L408.2 260.2L408.2 260.3L408.3 260.3L408.3 260.4L408.3 260.6L408.3 260.7L408.3 260.9L408.3 261.1L408.3 261.3L408.4 261.5L408.4 261.8L408.4 262.0L408.4 262.3L408.4 262.6L408.4 262.9L408.4 263.1L408.5 263.4L408.5 263.7L408.5 264.0L408.5 264.3L408.5 264.6L408.5 264.9L408.5 265.2L408.5 265.4L408.6 265.7L408.6 266.0L408.6 266.3L408.6 266.5L408.6 266.8L408.6 267.1L408.6 267.4L408.6 267.7L408.6 267.9L408.7 268.2L408.7 268.5L408.7 268.8L408.7 269.0L408.7 269.3L408.7 269.6L408.7 269.9L408.7 270.2L408.8 270.5L408.8 270.8L408.8 271.1L408.8 271.4L408.8 271.7L408.8 272.0L408.8 272.3L408.8 272.6L408.8 272.9L408.8 273.2L408.9 273.5L408.9 273.9L408.9 274.2L408.9 274.5L408.9 274.8L408.9 275.2L408.9 275.5L408.9 275.8L408.9 276.2L408.9 276.5L408.9 276.9L409.0 277.2L409.0 277.6L409.0 277.9L409.0 278.3L409.0 278.6L409.0 279.0L409.0 279.4L409.0 279.7L409.0 280.1L409.0 280.5L409.0 280.8L409.1 281.2L409.1 281.6L409.1 281.9L409.1 282.3L409.1 282.7L409.1 283.1L409.1 283.4L409.1 283.8L409.1 284.2L409.1 284.6L409.1 284.9L409.1 285.3L409.1 285.7L409.1 286.1L409.2 286.5L409.2 286.9L409.2 287.2L409.2 287.6L409.2 288.0L409.2 288.4L409.2 288.8L409.2 289.2L409.2 289.6L409.2 290.0L409.2 290.4L409.2 290.8L409.2 291.2L409.2 291.6L409.2 292.0L409.3 292.4L409.3 292.8L409.3 293.2L409.3 293.6L409.3 294.0L409.3 294.4L409.3 294.8L409.3 295.2L409.3 295.7L409.3 296.1L409.3 296.5L409.3 296.9L409.3 297.3L409.3 297.8L409.3 298.2L409.3 298.6L409.3 299.1L409.3 299.5L409.4 299.9L409.4 300.4L409.4 300.8L409.4 301.3L409.4 301.7L409.4 302.2L409.4 302.6L409.4 303.1L409.4 303.5L409.4 304.0L409.4 304.4L409.4 304.9L409.4 305.3L409.4 305.8L409.4 306.3L409.4 306.7L409.4 307.2L409.4 307.6L409.5 308.1L409.5 308.5L409.5 309.0L409.5 309.5L409.5 309.9L409.5 310.4L409.5 310.8L409.5 311.3L409.5 311.7L409.5 312.2L409.5 312.6L409.5 313.1L409.5 313.5L409.5 314.0L409.5 314.4L409.5 314.9L409.6 315.3L409.6 315.8L409.6 316.2L409.6 316.7L409.6 317.1L409.6 317.5L409.6 318.0L409.6 318.4L409.6 318.8L409.6 319.2L409.6 319.7L409.6 320.1L409.6 320.5L409.7 320.9L409.7 321.3L409.7 321.7L409.7 322.1L409.7 322.5L409.7 322.9L409.7 323.3L409.7 323.7L409.7 324.1L409.7 324.5L409.7 324.9L409.8 325.2L409.8 325.6L409.8 326.0L409.8 326.4L409.8 326.7L409.8 327.1L409.8 327.4L409.8 327.8L409.8 328.1L409.9 328.5L409.9 328.8L409.9 329.2L409.9 329.5L409.9 329.8L409.9 330.2L409.9 330.5L409.9 330.8L410.0 331.1L410.0 331.5L410.0 331.8L410.0 332.1L410.0 332.4L410.0 332.7L410.1 333.0L410.1 333.3L410.1 333.5L410.1 333.8L410.1 334.1L410.1 334.4L410.1 334.6L410.2 334.9L410.2 335.2L410.2 335.4L410.2 335.7L410.2 335.9L410.3 336.2L410.3 336.4L410.3 336.6L410.3 336.9L410.3 337.1L410.4 337.3L410.4 337.5L410.4 337.7L410.4 337.9L410.4 338.1L410.5 337.8L410.5 337.6L410.6 337.3L410.6 337.0L410.6 336.8L410.7 336.5L410.7 336.2L410.8 335.9L410.8 335.6L410.9 335.4L410.9 335.1L410.9 334.8L411.0 334.5L411.0 334.2L411.1 334.0L411.1 333.7L411.2 333.4L411.2 333.1L411.3 332.8L411.3 332.5L411.3 332.2L411.4 332.0L411.4 331.7L411.5 331.4L411.5 331.1L411.6 330.8L411.6 330.5L411.7 330.2L411.7 329.9L411.8 329.6L411.8 329.2L411.9 328.9L411.9 328.6L411.9 328.3L412.0 328.0L412.0 327.7L412.1 327.3L412.1 327.0L412.2 326.7L412.2 326.3L412.3 326.0L412.3 325.7L412.3 325.3L412.4 325.0L412.4 324.6L412.5 324.3L412.5 323.9L412.6 323.6L412.6 323.2L412.6 322.8L412.7 322.5L412.7 322.1L412.8 321.7L412.8 321.3L412.8 320.9L412.9 320.6L412.9 320.2L412.9 319.8L413.0 319.4L413.0 319.0L413.1 318.5L413.1 318.1L413.1 317.7L413.2 317.3L413.2 316.9L413.2 316.4L413.2 316.0L413.3 315.5L413.3 315.1L413.3 314.7L413.4 314.2L413.4 313.8L413.4 313.3L413.4 312.9L413.5 312.4L413.5 312.0L413.5 311.5L413.5 311.0L413.6 310.6L413.6 310.1L413.6 309.7L413.6 309.2L413.7 308.7L413.7 308.3L413.7 307.8L413.7 307.3L413.7 306.9L413.8 306.4L413.8 305.9L413.8 305.5L413.8 305.0L413.8 304.5L413.8 304.1L413.9 303.6L413.9 303.2L413.9 302.7L413.9 302.3L413.9 301.8L413.9 301.4L414.0 300.9L414.0 300.5L414.0 300.0L414.0 299.6L414.0 299.1L414.0 298.7L414.0 298.3L414.1 297.8L414.1 297.4L414.1 297.0L414.1 296.6L414.1 296.2L414.1 295.7L414.1 295.3L414.1 294.9L414.2 294.5L414.2 294.1L414.2 293.7L414.2 293.3L414.2 292.9L414.2 292.5L414.2 292.1L414.2 291.7L414.2 291.3L414.3 290.9L414.3 290.5L414.3 290.1L414.3 289.7L414.3 289.3L414.3 288.9L414.3 288.5L414.3 288.2L414.3 287.8L414.3 287.4L414.3 287.0L414.4 286.6L414.4 286.3L414.4 285.9L414.4 285.5L414.4 285.1L414.4 284.7L414.4 284.4L414.4 284.0L414.4 283.6L414.4 283.2L414.5 282.9L414.5 282.5L414.5 282.1L414.5 281.8L414.5 281.4L414.5 281.0L414.5 280.7L414.5 280.3L414.5 280.0L414.5 279.6L414.6 279.2L414.6 278.9L414.6 278.5L414.6 278.2L414.6 277.8L414.6 277.5L414.6 277.2L414.6 276.8L414.7 276.5L414.7 276.2L414.7 275.8L414.7 275.5L414.7 275.2L414.7 274.8L414.8 274.5L414.8 274.2L414.8 273.9L414.8 273.6L414.8 273.3L414.8 273.0L414.9 272.7L414.9 272.4L414.9 272.1L414.9 271.8L414.9 271.5L415.0 271.3L415.0 271.0L415.0 270.7L415.0 270.4L415.0 270.1L415.1 269.8L415.1 269.6L415.1 269.3L415.1 269.0L415.1 268.7L415.2 268.5L415.2 268.2L415.2 267.9L415.2 267.6L415.3 267.3L415.3 267.1L415.3 266.8L415.3 266.5L415.3 266.2L415.4 265.9L415.4 265.6L415.4 265.3L415.4 265.0L415.4 264.8L415.5 264.5L415.5 264.2L415.5 263.9L415.5 263.7L415.5 263.5L415.6 263.2L415.6 263.0L415.6 262.9L415.6 262.7L415.6 262.6L415.6 262.4L415.7 262.3L415.7 262.3L415.7 262.3L415.7 262.3L415.7 262.3L415.7 262.4L415.8 262.5L415.8 262.6L415.8 262.7L415.8 262.9L415.8 263.1L415.8 263.3L415.9 263.5L415.9 263.8L415.9 264.0L415.9 264.3L415.9 264.5L415.9 264.8L415.9 265.1L416.0 265.4L416.0 265.7L416.0 266.0L416.0 266.3L416.0 266.6L416.0 266.8L416.0 267.1L416.0 267.4L416.1 267.7L416.1 268.0L416.1 268.2L416.1 268.5L416.1 268.8L416.1 269.1L416.1 269.3L416.1 269.6L416.2 269.9L416.2 270.2L416.2 270.5L416.2 270.7L416.2 271.0L416.2 271.3L416.2 271.6L416.2 271.9L416.2 272.2L416.3 272.5L416.3 272.7L416.3 273.0L416.3 273.3L416.3 273.6L416.3 274.0L416.3 274.3L416.3 274.6L416.3 274.9L416.4 275.2L416.4 275.5L416.4 275.9L416.4 276.2L416.4 276.5L416.4 276.9L416.4 277.2L416.4 277.5L416.4 277.9L416.4 278.2L416.5 278.6L416.5 278.9L416.5 279.3L416.5 279.6L416.5 280.0L416.5 280.4L416.5 280.7L416.5 281.1L416.5 281.4L416.5 281.8L416.5 282.2L416.5 282.5L416.6 282.9L416.6 283.3L416.6 283.7L416.6 284.0L416.6 284.4L416.6 284.8L416.6 285.2L416.6 285.5L416.6 285.9L416.6 286.3L416.6 286.7L416.6 287.1L416.7 287.4L416.7 287.8L416.7 288.2L416.7 288.6L416.7 289.0L416.7 289.4L416.7 289.8L416.7 290.1L416.7 290.5L416.7 290.9L416.7 291.3L416.7 291.7L416.7 292.1L416.7 292.5L416.8 292.9L416.8 293.3L416.8 293.7L416.8 294.1L416.8 294.6L416.8 295.0L416.8 295.4L416.8 295.8L416.8 296.2L416.8 296.6L416.8 297.0L416.8 297.5L416.8 297.9L416.8 298.3L416.8 298.7L416.8 299.2L416.9 299.6L416.9 300.0L416.9 300.5L416.9 300.9L416.9 301.4L416.9 301.8L416.9 302.3L416.9 302.7L416.9 303.2L416.9 303.6L416.9 304.1L416.9 304.5L416.9 305.0L416.9 305.4L416.9 305.9L416.9 306.3L416.9 306.8L417.0 307.2L417.0 307.7L417.0 308.2L417.0 308.6L417.0 309.1L417.0 309.5L417.0 310.0L417.0 310.5L417.0 310.9L417.0 311.4L417.0 311.8L417.0 312.3L417.0 312.7L417.0 313.2L417.0 313.6L417.1 314.1L417.1 314.5L417.1 315.0L417.1 315.4L417.1 315.9L417.1 316.3L417.1 316.7L417.1 317.2L417.1 317.6L417.1 318.0L417.1 318.5L417.1 318.9L417.2 319.3L417.2 319.7L417.2 320.2L417.2 320.6L417.2 321.0L417.2 321.4L417.2 321.8L417.2 322.2L417.2 322.6L417.2 323.0L417.3 323.4L417.3 323.8L417.3 324.2L417.3 324.6L417.3 324.9L417.3 325.3L417.3 325.7L417.3 326.1L417.4 326.4L417.4 326.8L417.4 327.2L417.4 327.5L417.4 327.9L417.4 328.2L417.4 328.6L417.5 328.9L417.5 329.2L417.5 329.6L417.5 329.9L417.5 330.2L417.5 330.5L417.6 330.9L417.6 331.2L417.6 331.5L417.6 331.8L417.6 332.1L417.6 332.4L417.7 332.7L417.7 333.0L417.7 333.2L417.7 333.5L417.7 333.8L417.8 334.1L417.8 334.3L417.8 334.6L417.8 334.9L417.9 335.1L417.9 335.4L417.9 335.6L417.9 335.8L417.9 336.1L418.0 336.3L418.0 336.5L418.0 336.7L418.0 337.0L418.1 337.2L418.1 337.4L418.1 337.6L418.2 337.3L418.2 337.0L418.2 336.7L418.3 336.4L418.3 336.1L418.4 335.8L418.4 335.5L418.5 335.2L418.5 334.9L418.6 334.6L418.6 334.3L418.7 334.0L418.7 333.7L418.8 333.4L418.8 333.1L418.9 332.8L418.9 332.4L419.0 332.1L419.0 331.8L419.1 331.5L419.1 331.2L419.2 330.9L419.2 330.5L419.3 330.2L419.3 329.9L419.4 329.6L419.4 329.2L419.5 328.9L419.5 328.5L419.5 328.2L419.6 327.9L419.6 327.5L419.7 327.2L419.7 326.8L419.8 326.4L419.8 326.1L419.9 325.7L419.9 325.3L420.0 325.0L420.0 324.6L420.1 324.2L420.1 323.8L420.2 323.4L420.2 323.0L420.3 322.6L420.3 322.2L420.3 321.8L420.4 321.4L420.4 321.0L420.5 320.6L420.5 320.1L420.5 319.7L420.6 319.3L420.6 318.8L420.6 318.4L420.7 317.9L420.7 317.5L420.7 317.0L420.8 316.5L420.8 316.1L420.8 315.6L420.9 315.1L420.9 314.6L420.9 314.1L421.0 313.7L421.0 313.2L421.0 312.7L421.0 312.2L421.1 311.7L421.1 311.2L421.1 310.7L421.1 310.2L421.2 309.7L421.2 309.2L421.2 308.7L421.2 308.2L421.3 307.7L421.3 307.2L421.3 306.7L421.3 306.2L421.3 305.7L421.4 305.2L421.4 304.7L421.4 304.2L421.4 303.7L421.4 303.2L421.4 302.7L421.5 302.2L421.5 301.7L421.5 301.2L421.5 300.7L421.5 300.3L421.5 299.8L421.5 299.3L421.6 298.9L421.6 298.4L421.6 297.9L421.6 297.5L421.6 297.0L421.6 296.6L421.6 296.1L421.7 295.7L421.7 295.2L421.7 294.8L421.7 294.4L421.7 293.9L421.7 293.5L421.7 293.1L421.7 292.6L421.8 292.2L421.8 291.8L421.8 291.4L421.8 290.9L421.8 290.5L421.8 290.1L421.8 289.7L421.8 289.3L421.8 288.8L421.8 288.4L421.9 288.0L421.9 287.6L421.9 287.2L421.9 286.8L421.9 286.4L421.9 286.0L421.9 285.6L421.9 285.2L421.9 284.8L422.0 284.4L422.0 284.0L422.0 283.6L422.0 283.2L422.0 282.8L422.0 282.4L422.0 282.0L422.0 281.6L422.1 281.2L422.1 280.8L422.1 280.4L422.1 280.1L422.1 279.7L422.1 279.3L422.1 278.9L422.1 278.6L422.2 278.2L422.2 277.9L422.2 277.5L422.2 277.1L422.2 276.8L422.2 276.4L422.3 276.1L422.3 275.8L422.3 275.4L422.3 275.1L422.3 274.8L422.4 274.5L422.4 274.1L422.4 273.8L422.4 273.5L422.5 273.2L422.5 272.9L422.5 272.6L422.5 272.3L422.5 272.0L422.6 271.7L422.6 271.4L422.6 271.1L422.6 270.8L422.7 270.5L422.7 270.2L422.7 269.9L422.7 269.6L422.8 269.3L422.8 269.0L422.8 268.7L422.8 268.4L422.9 268.0L422.9 267.7L422.9 267.4L422.9 267.1L423.0 266.8L423.0 266.5L423.0 266.2L423.0 265.9L423.0 265.7L423.1 265.4L423.1 265.2L423.1 265.0L423.1 264.9L423.1 264.7L423.2 264.6L423.2 264.6L423.2 264.5L423.2 264.5L423.2 264.6L423.2 264.7L423.3 264.8L423.3 264.9L423.3 265.1L423.3 265.3L423.3 265.5L423.4 265.8L423.4 266.0L423.4 266.3L423.4 266.6L423.4 266.9L423.4 267.2L423.4 267.5L423.5 267.8L423.5 268.2L423.5 268.5L423.5 268.8L423.5 269.1L423.5 269.4L423.6 269.7L423.6 270.0L423.6 270.3L423.6 270.6L423.6 270.9L423.6 271.2L423.6 271.5L423.7 271.8L423.7 272.1L423.7 272.4L423.7 272.7L423.7 273.0L423.7 273.3L423.7 273.6L423.7 273.9L423.8 274.2L423.8 274.6L423.8 274.9L423.8 275.2L423.8 275.5L423.8 275.9L423.8 276.2L423.8 276.5L423.9 276.9L423.9 277.2L423.9 277.6L423.9 278.0L423.9 278.3L423.9 278.7L423.9 279.0L423.9 279.4L423.9 279.8L423.9 280.2L424.0 280.5L424.0 280.9L424.0 281.3L424.0 281.7L424.0 282.1L424.0 282.5L424.0 282.9L424.0 283.3L424.0 283.7L424.0 284.1L424.1 284.5L424.1 284.9L424.1 285.3L424.1 285.7L424.1 286.1L424.1 286.5L424.1 286.9L424.1 287.3L424.1 287.7L424.1 288.1L424.2 288.5L424.2 288.9L424.2 289.3L424.2 289.8L424.2 290.2L424.2 290.6L424.2 291.0L424.2 291.4L424.2 291.9L424.2 292.3L424.2 292.7L424.2 293.1L424.3 293.6L424.3 294.0L424.3 294.4L424.3 294.9L424.3 295.3L424.3 295.8L424.3 296.2L424.3 296.7L424.3 297.1L424.3 297.6L424.3 298.0L424.3 298.5L424.3 299.0L424.4 299.4L424.4 299.9L424.4 300.4L424.4 300.8L424.4 301.3L424.4 301.8L424.4 302.3L424.4 302.8L424.4 303.3L424.4 303.7L424.4 304.2L424.4 304.7L424.4 305.2L424.4 305.7L424.4 306.2L424.5 306.7L424.5 307.2L424.5 307.7L424.5 308.2L424.5 308.7L424.5 309.2L424.5 309.7L424.5 310.2L424.5 310.7L424.5 311.2L424.5 311.7L424.5 312.2L424.5 312.7L424.6 313.2L424.6 313.7L424.6 314.2L424.6 314.6L424.6 315.1L424.6 315.6L424.6 316.1L424.6 316.5L424.6 317.0L424.6 317.5L424.7 317.9L424.7 318.4L424.7 318.8L424.7 319.2L424.7 319.7L424.7 320.1L424.7 320.5L424.7 320.9L424.8 321.4L424.8 321.8L424.8 322.2L424.8 322.6L424.8 323.0L424.8 323.4L424.8 323.8L424.9 324.2L424.9 324.6L424.9 325.0L424.9 325.3L424.9 325.7L425.0 326.1L425.0 326.5L425.0 326.9L425.0 327.3L425.0 327.7L425.0 328.1L425.1 328.4L425.1 328.8L425.1 329.2L425.1 329.6L425.1 330.0L425.2 330.4L425.2 330.8L425.2 331.2L425.2 331.6L425.2 332.0L425.3 332.4L425.3 332.8L425.3 333.2L425.3 333.6L425.4 333.9L425.4 334.3L425.4 334.6L425.4 335.0L425.5 335.3L425.5 335.6L425.5 335.8L425.6 336.1L425.6 336.3L425.6 336.5L425.7 336.6L425.7 336.7L425.7 336.8L425.8 336.9L425.8 336.9L425.9 336.8L425.9 336.7L425.9 336.6L426.0 336.5L426.0 336.3L426.1 336.1L426.1 335.9L426.2 335.6L426.2 335.3L426.3 335.0L426.4 334.7L426.4 334.3L426.5 334.0L426.5 333.6L426.6 333.2L426.6 332.8L426.7 332.4L426.8 332.0L426.8 331.6L426.9 331.2L426.9 330.8L427.0 330.3L427.1 329.9L427.1 329.5L427.2 329.1L427.2 328.8L427.3 328.4L427.4 328.0L427.4 327.6L427.5 327.3L427.5 326.9L427.6 326.6L427.6 326.2L427.7 325.9L427.8 325.5L427.8 325.2L427.9 324.8L427.9 324.5L428.0 324.1L428.0 323.8L428.1 323.4L428.1 323.0L428.2 322.7L428.2 322.3L428.3 322.0L428.3 321.6L428.4 321.2L428.4 320.8L428.5 320.5L428.5 320.1L428.5 319.7L428.6 319.3L428.6 318.9L428.7 318.4L428.7 318.0L428.8 317.6L428.8 317.1L428.8 316.7L428.9 316.2L428.9 315.8L428.9 315.3L429.0 314.9L429.0 314.4L429.0 313.9L429.1 313.4L429.1 312.9L429.1 312.5L429.2 312.0L429.2 311.5L429.2 311.0L429.3 310.5L429.3 310.0L429.3 309.5L429.3 309.0L429.4 308.5L429.4 308.0L429.4 307.5L429.4 307.0L429.5 306.5L429.5 306.0L429.5 305.5L429.5 305.0L429.6 304.5L429.6 304.0L429.6 303.5L429.6 303.1L429.6 302.6L429.6 302.1L429.7 301.6L429.7 301.2L429.7 300.7L429.7 300.2L429.7 299.8L429.8 299.3L429.8 298.9L429.8 298.4L429.8 298.0L429.8 297.5L429.8 297.1L429.8 296.7L429.9 296.2L429.9 295.8L429.9 295.4L429.9 295.0L429.9 294.5L429.9 294.1L429.9 293.7L430.0 293.3L430.0 292.9L430.0 292.5L430.0 292.1L430.0 291.7L430.0 291.2L430.0 290.8L430.0 290.4L430.0 290.0L430.1 289.6L430.1 289.2L430.1 288.8L430.1 288.4L430.1 288.0L430.1 287.7L430.1 287.3L430.1 286.9L430.1 286.5L430.2 286.1L430.2 285.7L430.2 285.3L430.2 284.9L430.2 284.5L430.2 284.1L430.2 283.8L430.2 283.4L430.3 283.0L430.3 282.6L430.3 282.3L430.3 281.9L430.3 281.5L430.3 281.2L430.3 280.8L430.4 280.4L430.4 280.1L430.4 279.7L430.4 279.4L430.4 279.1L430.4 278.7L430.5 278.4L430.5 278.0L430.5 277.7L430.5 277.4L430.5 277.1L430.6 276.8L430.6 276.5L430.6 276.1L430.6 275.8L430.7 275.5L430.7 275.2L430.7 274.9L430.7 274.6L430.7 274.4L430.8 274.1L430.8 273.8L430.8 273.5L430.8 273.2L430.9 272.9L430.9 272.6L430.9 272.3L430.9 272.0L431.0 271.7L431.0 271.4L431.0 271.1L431.0 270.8L431.1 270.5L431.1 270.2L431.1 269.9L431.1 269.6L431.2 269.3L431.2 269.0L431.2 268.7L431.2 268.5L431.2 268.2L431.3 268.0L431.3 267.8L431.3 267.6L431.3 267.5L431.3 267.4L431.4 267.3L431.4 267.2L431.4 267.2L431.4 267.3L431.4 267.3L431.5 267.4L431.5 267.6L431.5 267.7L431.5 267.9L431.5 268.2L431.6 268.4L431.6 268.6L431.6 268.9L431.6 269.2L431.6 269.5L431.6 269.8L431.6 270.1L431.7 270.4L431.7 270.7L431.7 271.0L431.7 271.3L431.7 271.6L431.7 271.9L431.8 272.2L431.8 272.5L431.8 272.8L431.8 273.1L431.8 273.4L431.8 273.7L431.8 274.0L431.9 274.3L431.9 274.6L431.9 274.9L431.9 275.2L431.9 275.4L431.9 275.8L431.9 276.1L431.9 276.4L432.0 276.7L432.0 277.0L432.0 277.3L432.0 277.6L432.0 277.9L432.0 278.3L432.0 278.6L432.0 278.9L432.1 279.3L432.1 279.6L432.1 280.0L432.1 280.3L432.1 280.7L432.1 281.0L432.1 281.4L432.1 281.8L432.1 282.1L432.2 282.5L432.2 282.9L432.2 283.3L432.2 283.6L432.2 284.0L432.2 284.4L432.2 284.8L432.2 285.2L432.2 285.6L432.2 285.9L432.3 286.3L432.3 286.7L432.3 287.1L432.3 287.5L432.3 287.9L432.3 288.3L432.3 288.7L432.3 289.1L432.3 289.5L432.3 289.9L432.4 290.3L432.4 290.7L432.4 291.1L432.4 291.5L432.4 291.9L432.4 292.4L432.4 292.8L432.4 293.2L432.4 293.6L432.4 294.0L432.4 294.4L432.5 294.9L432.5 295.3L432.5 295.7L432.5 296.1L432.5 296.6L432.5 297.0L432.5 297.4L432.5 297.9L432.5 298.3L432.5 298.8L432.5 299.2L432.5 299.6L432.6 300.1L432.6 300.6L432.6 301.0L432.6 301.5L432.6 301.9L432.6 302.4L432.6 302.9L432.6 303.4L432.6 303.8L432.6 304.3L432.6 304.8L432.6 305.3L432.6 305.8L432.7 306.3L432.7 306.7L432.7 307.2L432.7 307.7L432.7 308.2L432.7 308.7L432.7 309.2L432.7 309.7L432.7 310.2L432.7 310.7L432.7 311.1L432.7 311.6L432.8 312.1L432.8 312.6L432.8 313.1L432.8 313.6L432.8 314.0L432.8 314.5L432.8 315.0L432.8 315.5L432.8 315.9L432.8 316.4L432.9 316.8L432.9 317.3L432.9 317.8L432.9 318.2L432.9 318.6L432.9 319.1L432.9 319.5L432.9 319.9L433.0 320.4L433.0 320.8L433.0 321.2L433.0 321.6L433.0 322.0L433.0 322.4L433.1 322.8L433.1 323.2L433.1 323.6L433.1 324.0L433.1 324.4L433.1 324.7L433.2 325.1L433.2 325.5L433.2 325.9L433.2 326.3L433.2 326.6L433.3 327.0L433.3 327.4L433.3 327.8L433.3 328.2L433.4 328.5L433.4 328.9L433.4 329.3L433.4 329.7L433.4 330.1L433.5 330.5L433.5 330.9L433.5 331.2L433.5 331.6L433.6 332.0L433.6 332.4L433.6 332.8L433.6 333.2L433.7 333.6L433.7 333.9L433.7 334.3L433.8 334.6L433.8 334.9L433.8 335.2L433.9 335.5L433.9 335.7L433.9 335.9L434.0 336.1L434.0 336.3L434.1 336.4L434.1 336.5L434.1 336.6L434.2 336.6L434.2 336.6L434.3 336.5L434.3 336.4L434.4 336.3L434.4 336.1L434.5 335.9L434.6 335.7L434.6 335.5L434.7 335.2L434.7 334.9L434.8 334.6L434.9 334.2L434.9 333.9L435.0 333.5L435.1 333.2L435.1 332.8L435.2 332.4L435.2 332.0L435.3 331.6L435.4 331.2L435.4 330.8L435.5 330.4L435.6 330.0L435.6 329.6L435.7 329.2L435.8 328.8L435.8 328.5L435.9 328.1L436.0 327.7L436.0 327.4L436.1 327.0L436.2 326.7L436.2 326.3L436.3 326.0L436.3 325.7L436.4 325.3L436.5 325.0L436.5 324.6L436.6 324.3L436.6 323.9L436.7 323.6L436.8 323.3L436.8 322.9L436.9 322.6L436.9 322.2L437.0 321.8L437.0 321.5L437.1 321.1L437.1 320.7L437.2 320.3L437.2 319.9L437.3 319.5L437.3 319.1L437.4 318.7L437.4 318.3L437.5 317.9L437.5 317.4L437.5 317.0L437.6 316.5L437.6 316.1L437.7 315.6L437.7 315.2L437.7 314.7L437.8 314.2L437.8 313.8L437.8 313.3L437.9 312.8L437.9 312.3L438.0 311.9L438.0 311.4L438.0 310.9L438.0 310.4L438.1 309.9L438.1 309.4L438.1 308.9L438.2 308.4L438.2 308.0L438.2 307.5L438.2 307.0L438.3 306.5L438.3 306.0L438.3 305.5L438.3 305.1L438.4 304.6L438.4 304.1L438.4 303.7L438.4 303.2L438.4 302.7L438.5 302.3L438.5 301.8L438.5 301.4L438.5 300.9L438.5 300.5L438.6 300.1L438.6 299.6L438.6 299.2L438.6 298.8L438.6 298.3L438.6 297.9L438.7 297.5L438.7 297.1L438.7 296.7L438.7 296.3L438.7 295.8L438.7 295.4L438.7 295.0L438.8 294.6L438.8 294.2L438.8 293.8L438.8 293.4L438.8 293.0L438.8 292.6L438.8 292.2L438.8 291.9L438.9 291.5L438.9 291.1L438.9 290.7L438.9 290.3L438.9 289.9L438.9 289.5L438.9 289.1L438.9 288.7L439.0 288.4L439.0 288.0L439.0 287.6L439.0 287.2L439.0 286.8L439.0 286.5L439.0 286.1L439.0 285.7L439.1 285.4L439.1 285.0L439.1 284.6L439.1 284.3L439.1 283.9L439.1 283.5L439.1 283.2L439.2 282.8L439.2 282.5L439.2 282.2L439.2 281.8L439.2 281.5L439.2 281.1L439.3 280.8L439.3 280.5L439.3 280.2L439.3 279.9L439.3 279.5L439.4 279.2L439.4 278.9L439.4 278.6L439.4 278.3L439.5 278.0L439.5 277.8L439.5 277.5L439.5 277.2L439.6 276.9L439.6 276.6L439.6 276.3L439.6 276.0L439.7 275.7L439.7 275.5L439.7 275.2L439.7 274.9L439.8 274.6L439.8 274.3L439.8 274.0L439.8 273.7L439.9 273.4L439.9 273.1L439.9 272.8L439.9 272.5L439.9 272.2L440.0 271.9L440.0 271.7L440.0 271.4L440.0 271.2L440.1 270.9L440.1 270.7L440.1 270.6L440.1 270.4L440.1 270.3L440.2 270.2L440.2 270.1L440.2 270.1L440.2 270.2L440.2 270.2L440.3 270.3L440.3 270.4L440.3 270.6L440.3 270.8L440.3 271.0L440.4 271.2L440.4 271.5L440.4 271.7L440.4 272.0L440.4 272.3L440.4 272.6L440.5 272.9L440.5 273.2L440.5 273.5L440.5 273.7L440.5 274.0L440.5 274.3L440.6 274.6L440.6 274.9L440.6 275.2L440.6 275.5L440.6 275.7L440.6 276.0L440.6 276.3L440.7 276.6L440.7 276.9L440.7 277.2L440.7 277.4L440.7 277.7L440.7 278.0L440.7 278.3L440.8 278.6L440.8 278.9L440.8 279.2L440.8 279.5L440.8 279.8L440.8 280.1L440.8 280.4L440.8 280.8L440.9 281.1L440.9 281.4L440.9 281.8L440.9 282.1L440.9 282.4L440.9 282.8L440.9 283.1L440.9 283.5L440.9 283.8L441.0 284.2L441.0 284.5L441.0 284.9L441.0 285.3L441.0 285.6L441.0 286.0L441.0 286.4L441.0 286.7L441.0 287.1L441.0 287.5L441.1 287.9L441.1 288.2L441.1 288.6L441.1 289.0L441.1 289.4L441.1 289.8L441.1 290.1L441.1 290.5L441.1 290.9L441.2 291.3L441.2 291.7L441.2 292.1L441.2 292.5L441.2 292.9L441.2 293.3L441.2 293.7L441.2 294.1L441.2 294.5L441.2 294.9L441.3 295.3L441.3 295.7L441.3 296.1L441.3 296.5L441.3 296.9L441.3 297.3L441.3 297.7L441.3 298.1L441.3 298.6L441.3 299.0L441.4 299.4L441.4 299.8L441.4 300.3L441.4 300.7L441.4 301.2L441.4 301.6L441.4 302.0L441.4 302.5L441.4 302.9L441.4 303.4L441.4 303.9L441.5 304.3L441.5 304.8L441.5 305.2L441.5 305.7L441.5 306.2L441.5 306.6L441.5 307.1L441.5 307.6L441.5 308.1L441.5 308.5L441.5 309.0L441.5 309.5L441.6 309.9L441.6 310.4L441.6 310.9L441.6 311.4L441.6 311.8L441.6 312.3L441.6 312.7L441.6 313.2L441.6 313.7L441.7 314.1L441.7 314.6L441.7 315.0L441.7 315.5L441.7 315.9L441.7 316.3L441.7 316.8L441.7 317.2L441.8 317.6L441.8 318.0L441.8 318.5L441.8 318.9L441.8 319.3L441.8 319.7L441.9 320.1L441.9 320.5L441.9 320.8L441.9 321.2L441.9 321.6L442.0 322.0L442.0 322.4L442.0 322.7L442.0 323.1L442.0 323.5L442.1 323.8L442.1 324.2L442.1 324.6L442.1 324.9L442.2 325.3L442.2 325.7L442.2 326.0L442.3 326.4L442.3 326.8L442.3 327.1L442.3 327.5L442.4 327.9L442.4 328.2L442.4 328.6L442.5 329.0L442.5 329.4L442.5 329.7L442.6 330.1L442.6 330.5L442.6 330.8L442.7 331.2L442.7 331.6L442.7 331.9L442.8 332.2L442.8 332.5L442.9 332.8L442.9 333.1L442.9 333.3L443.0 333.5L443.0 333.7L443.1 333.9L443.1 334.0L443.2 334.1L443.2 334.2L443.3 334.2L443.3 334.2L443.4 334.1L443.5 334.0L443.5 333.9L443.6 333.7L443.6 333.6L443.7 333.3L443.8 333.1L443.8 332.8L443.9 332.5L444.0 332.2L444.0 331.9L444.1 331.6L444.2 331.2L444.3 330.8L444.3 330.5L444.4 330.1L444.5 329.7L444.5 329.3L444.6 328.9L444.7 328.6L444.8 328.2L444.8 327.8L444.9 327.5L445.0 327.1L445.0 326.8L445.1 326.4L445.2 326.1L445.3 325.7L445.3 325.4L445.4 325.1L445.5 324.7L445.5 324.4L445.6 324.1L445.7 323.8L445.7 323.4L445.8 323.1L445.9 322.8L445.9 322.5L446.0 322.1L446.1 321.8L446.1 321.5L446.2 321.1L446.2 320.8L446.3 320.4L446.4 320.1L446.4 319.7L446.5 319.4L446.5 319.0L446.6 318.6L446.6 318.2L446.7 317.8L446.7 317.4L446.8 317.0L446.8 316.6L446.9 316.2L446.9 315.7L447.0 315.3L447.0 314.9L447.1 314.4L447.1 314.0L447.1 313.5L447.2 313.1L447.2 312.6L447.3 312.2L447.3 311.7L447.3 311.2L447.4 310.8L447.4 310.3L447.4 309.9L447.5 309.4L447.5 308.9L447.5 308.5L447.6 308.0L447.6 307.5L447.6 307.1L447.7 306.6L447.7 306.2L447.7 305.7L447.7 305.2L447.8 304.8L447.8 304.4L447.8 303.9L447.8 303.5L447.8 303.0L447.9 302.6L447.9 302.2L447.9 301.8L447.9 301.3L448.0 300.9L448.0 300.5L448.0 300.1L448.0 299.7L448.0 299.3L448.0 298.9L448.1 298.5L448.1 298.1L448.1 297.7L448.1 297.3L448.1 296.9L448.1 296.5L448.2 296.2L448.2 295.8L448.2 295.4L448.2 295.0L448.2 294.6L448.2 294.3L448.2 293.9L448.2 293.5L448.3 293.1L448.3 292.8L448.3 292.4L448.3 292.0L448.3 291.7L448.3 291.3L448.3 290.9L448.3 290.6L448.4 290.2L448.4 289.8L448.4 289.5L448.4 289.1L448.4 288.8L448.4 288.4L448.4 288.1L448.5 287.7L448.5 287.4L448.5 287.0L448.5 286.7L448.5 286.3L448.5 286.0L448.5 285.6L448.6 285.3L448.6 285.0L448.6 284.7L448.6 284.3L448.6 284.0L448.6 283.7L448.7 283.4L448.7 283.1L448.7 282.8L448.7 282.5L448.8 282.2L448.8 281.9L448.8 281.6L448.8 281.3L448.9 281.1L448.9 280.8L448.9 280.5L448.9 280.2L449.0 280.0L449.0 279.7L449.0 279.4L449.0 279.1L449.1 278.9L449.1 278.6L449.1 278.3L449.1 278.1L449.2 277.8L449.2 277.5L449.2 277.2L449.3 276.9L449.3 276.6L449.3 276.4L449.3 276.1L449.3 275.8L449.4 275.5L449.4 275.3L449.4 275.0L449.4 274.8L449.5 274.6L449.5 274.4L449.5 274.2L449.5 274.1L449.6 274.0L449.6 274.0L449.6 273.9L449.6 273.9L449.6 274.0L449.7 274.1L449.7 274.2L449.7 274.3L449.7 274.5L449.7 274.7L449.8 274.9L449.8 275.2L449.8 275.4L449.8 275.7L449.8 275.9L449.8 276.2L449.9 276.5L449.9 276.8L449.9 277.1L449.9 277.4L449.9 277.6L449.9 277.9L450.0 278.2L450.0 278.4L450.0 278.7L450.0 279.0L450.0 279.3L450.0 279.5L450.1 279.8L450.1 280.1L450.1 280.3L450.1 280.6L450.1 280.9L450.1 281.2L450.1 281.5L450.2 281.7L450.2 282.0L450.2 282.3L450.2 282.6L450.2 282.9L450.2 283.2L450.2 283.5L450.2 283.8L450.3 284.1L450.3 284.4L450.3 284.8L450.3 285.1L450.3 285.4L450.3 285.8L450.3 286.1L450.3 286.4L450.3 286.8L450.4 287.1L450.4 287.5L450.4 287.8L450.4 288.2L450.4 288.5L450.4 288.9L450.4 289.2L450.4 289.6L450.4 289.9L450.5 290.3L450.5 290.7L450.5 291.0L450.5 291.4L450.5 291.8L450.5 292.1L450.5 292.5L450.5 292.9L450.5 293.2L450.6 293.6L450.6 294.0L450.6 294.4L450.6 294.7L450.6 295.1L450.6 295.5L450.6 295.9L450.6 296.3L450.7 296.6L450.7 297.0L450.7 297.4L450.7 297.8L450.7 298.2L450.7 298.6L450.7 299.0L450.7 299.4L450.7 299.8L450.8 300.2L450.8 300.6L450.8 301.0L450.8 301.4L450.8 301.9L450.8 302.3L450.8 302.7L450.8 303.1L450.8 303.5L450.8 304.0L450.8 304.4L450.8 304.8L450.9 305.3L450.9 305.7L450.9 306.2L450.9 306.6L450.9 307.1L450.9 307.5L450.9 308.0L450.9 308.4L450.9 308.9L450.9 309.3L450.9 309.8L450.9 310.2L450.9 310.7L450.9 311.1L451.0 311.6L451.0 312.0L451.0 312.4L451.0 312.9L451.0 313.3L451.0 313.8L451.0 314.2L451.0 314.7L451.1 315.1L451.1 315.5L451.1 315.9L451.1 316.4L451.1 316.8L451.1 317.2L451.2 317.6L451.2 318.0L451.2 318.4L451.2 318.8L451.3 319.2L451.3 319.6L451.3 320.0L451.3 320.4L451.4 320.8L451.4 321.2L451.4 321.5L451.5 321.9L451.5 322.3L451.5 322.7L451.6 323.0L451.6 323.4L451.6 323.7L451.6 324.1L451.7 324.4L451.7 324.8L451.7 325.1L451.8 325.5L451.8 325.8L451.8 326.2L451.8 326.5L451.9 326.8L451.9 327.2L451.9 327.5L451.9 327.9L451.9 328.2L451.9 328.5L451.9 328.9L452.0 329.2L452.0 329.5L452.0 329.8L452.0 330.1L452.0 330.4L452.0 330.7L452.1 331.0L452.1 331.3L452.1 331.5L452.2 331.8L452.2 332.0L452.3 332.2L452.3 332.4L452.4 332.6L452.5 332.7L452.6 332.9L452.7 333.0L452.9 333.0L453.0 333.1L453.2 333.1L453.3 333.1L453.5 333.1L453.7 333.1L453.9 333.0L454.1 333.0L454.3 332.9L454.5 332.8L454.7 332.7L454.9 332.6L455.1 332.5L455.3 332.4L455.5 332.2L455.7 332.1L455.8 331.9L456.0 331.8L456.2 331.6L456.3 331.5L456.5 331.3L456.6 331.2L456.8 331.0L456.9 330.8L457.0 330.6L457.2 330.4L457.3 330.2L457.4 330.0L457.5 329.8L457.7 329.6L457.8 329.3L457.9 329.1L458.0 328.8L458.1 328.6L458.2 328.3L458.3 328.0L458.4 327.7L458.5 327.4L458.6 327.1L458.7 326.8L458.8 326.5L458.9 326.2L459.0 325.8L459.1 325.5L459.1 325.2L459.2 324.8L459.3 324.4L459.4 324.1L459.5 323.7L459.6 323.3L459.6 322.9L459.7 322.5L459.8 322.1L459.9 321.7L459.9 321.3L460.0 320.9L460.1 320.5L460.2 320.1L460.2 319.6L460.3 319.2L460.4 318.8L460.4 318.3L460.5 317.9L460.5 317.5L460.6 317.0L460.7 316.6L460.7 316.1L460.8 315.7L460.8 315.2L460.9 314.7L461.0 314.3L461.0 313.8L461.1 313.3L461.1 312.9L461.2 312.4L461.2 311.9L461.3 311.5L461.3 311.0L461.4 310.5L461.4 310.1L461.5 309.6L461.5 309.1L461.6 308.7L461.6 308.2L461.7 307.7L461.7 307.2L461.7 306.8L461.8 306.3L461.8 305.8L461.9 305.4L461.9 304.9L462.0 304.4L462.0 304.0L462.1 303.5L462.1 303.1L462.1 302.6L462.2 302.1L462.2 301.7L462.3 301.2L462.3 300.8L462.4 300.3L462.4 299.9L462.4 299.5L462.5 299.0L462.5 298.6L462.6 298.2L462.6 297.8L462.7 297.3L462.7 296.9L462.7 296.5L462.8 296.1L462.8 295.7L462.9 295.3L462.9 294.9L462.9 294.5L463.0 294.1L463.0 293.7L463.1 293.4L463.1 293.0L463.1 292.6L463.2 292.3L463.2 291.9L463.2 291.6L463.3 291.2L463.3 290.9L463.3 290.6L463.4 290.2L463.4 289.9L463.4 289.6L463.5 289.3L463.5 289.0L463.5 288.7L463.6 288.4L463.6 288.1L463.6 287.8L463.7 287.6L463.7 287.3L463.7 287.0L463.8 286.7L463.8 286.5L463.8 286.2L463.9 285.9L463.9 285.7L463.9 285.4L464.0 285.1L464.0 284.9L464.0 284.6L464.1 284.3L464.1 284.1L464.1 283.8L464.2 283.5L464.2 283.3L464.2 283.0L464.3 282.7L464.3 282.5L464.4 282.3L464.4 282.1L464.4 281.9L464.5 281.7L464.5 281.6L464.6 281.5L464.6 281.4L464.7 281.3L464.7 281.3L464.8 281.3L464.8 281.4L464.8 281.5L464.9 281.6L464.9 281.7L465.0 281.9L465.0 282.1L465.1 282.3L465.1 282.6L465.1 282.8L465.2 283.1L465.2 283.3L465.3 283.6L465.3 283.9L465.3 284.2L465.4 284.5L465.4 284.8L465.4 285.0L465.4 285.3L465.5 285.6L465.5 285.9L465.5 286.2L465.6 286.5L465.6 286.8L465.6 287.2L465.6 287.5L465.6 287.8L465.7 288.1L465.7 288.4L465.7 288.8L465.7 289.1L465.8 289.4L465.8 289.8L465.8 290.1L465.8 290.5L465.8 290.8L465.9 291.2L465.9 291.6L465.9 291.9L465.9 292.3L465.9 292.7L466.0 293.1L466.0 293.5L466.0 293.9L466.0 294.3L466.1 294.7L466.1 295.1L466.1 295.5L466.1 295.9L466.1 296.4L466.2 296.8L466.2 297.2L466.2 297.6L466.2 298.1L466.3 298.5L466.3 299.0L466.3 299.4L466.3 299.8L466.4 300.3L466.4 300.7L466.4 301.2L466.4 301.6L466.5 302.1L466.5 302.5L466.5 302.9L466.5 303.4L466.6 303.8L466.6 304.3L466.6 304.7L466.6 305.1L466.7 305.6L466.7 306.0L466.7 306.4L466.8 306.9L466.8 307.3L466.8 307.7L466.8 308.1L466.9 308.6L466.9 309.0L466.9 309.4L466.9 309.8L467.0 310.2L467.0 310.6L467.0 311.1L467.0 311.5L467.1 311.9L467.1 312.3L467.1 312.7L467.1 313.1L467.2 313.5L467.2 314.0L467.2 314.4L467.3 314.8L467.3 315.2L467.3 315.6L467.3 316.0L467.4 316.4L467.4 316.9L467.4 317.3L467.5 317.7L467.5 318.1L467.5 318.6L467.6 319.0L467.6 319.4L467.6 319.8L467.7 320.3L467.7 320.7L467.7 321.1L467.8 321.6L467.8 322.0L467.8 322.4L467.9 322.8L467.9 323.2L468.0 323.6L468.0 323.9L468.1 324.3L468.1 324.6L468.2 324.9L468.2 325.2L468.3 325.5L468.3 325.7L468.4 326.0L468.5 326.1L468.5 326.3L468.6 326.4L468.7 326.5L468.7 326.6L468.8 326.6L468.9 326.6L469.0 326.5L469.1 326.5L469.2 326.3L469.3 326.2L469.3 326.0L469.4 325.8L469.5 325.6L469.6 325.4L469.7 325.1L469.8 324.8L469.9 324.5L470.0 324.2L470.1 323.9L470.2 323.6L470.3 323.2L470.4 322.9L470.5 322.6L470.6 322.2L470.7 321.8L470.7 321.5L470.8 321.1L470.9 320.8L471.0 320.4L471.1 320.1L471.1 319.7L471.2 319.3L471.3 319.0L471.3 318.6L471.4 318.2L471.5 317.8L471.5 317.5L471.6 317.1L471.7 316.7L471.7 316.3L471.8 315.9L471.9 315.5L471.9 315.1L472.0 314.7L472.0 314.3L472.1 313.9L472.2 313.5L472.2 313.1L472.3 312.7L472.3 312.3L472.4 311.9L472.4 311.5L472.5 311.0L472.6 310.6L472.6 310.2L472.7 309.7L472.7 309.3L472.8 308.9L472.8 308.4L472.9 308.0L473.0 307.6L473.0 307.1L473.1 306.7L473.1 306.3L473.2 305.8L473.2 305.4L473.3 305.0L473.4 304.5L473.4 304.1L473.5 303.7L473.5 303.3L473.6 302.8L473.6 302.4L473.7 302.0L473.8 301.6L473.8 301.2L473.9 300.8L473.9 300.4L474.0 300.1L474.0 299.7L474.1 299.3L474.2 299.0L474.2 298.6L474.3 298.3L474.3 297.9L474.4 297.6L474.4 297.3L474.5 297.0L474.5 296.7L474.6 296.4L474.6 296.1L474.7 295.8L474.7 295.6L474.8 295.3L474.8 295.0L474.9 294.8L474.9 294.5L475.0 294.2L475.0 294.0L475.1 293.7L475.1 293.5L475.2 293.3L475.2 293.0L475.3 292.8L475.4 292.5L475.4 292.3L475.5 292.0L475.5 291.8L475.6 291.5L475.6 291.3L475.7 291.1L475.7 290.9L475.8 290.7L475.9 290.5L475.9 290.4L476.0 290.2L476.0 290.1L476.1 290.1L476.2 290.0L476.2 290.0L476.3 290.0L476.3 290.1L476.4 290.2L476.5 290.3L476.5 290.4L476.6 290.6L476.7 290.8L476.7 291.0L476.8 291.2L476.8 291.5L476.9 291.7L476.9 292.0L477.0 292.2L477.0 292.5L477.1 292.8L477.1 293.1L477.2 293.3L477.2 293.6L477.3 293.9L477.3 294.2L477.3 294.5L477.4 294.8L477.4 295.1L477.5 295.4L477.5 295.7L477.5 296.1L477.6 296.4L477.6 296.7L477.6 297.0L477.7 297.4L477.7 297.7L477.7 298.0L477.8 298.4L477.8 298.7L477.8 299.1L477.8 299.4L477.9 299.8L477.9 300.1L477.9 300.5L478.0 300.9L478.0 301.2L478.0 301.6L478.1 302.0L478.1 302.4L478.1 302.8L478.2 303.1L478.2 303.5L478.2 303.9L478.3 304.3L478.3 304.7L478.3 305.1L478.4 305.5L478.4 305.9L478.4 306.3L478.5 306.7L478.5 307.2L478.6 307.6L478.6 308.0L478.6 308.4L478.7 308.8L478.7 309.2L478.7 309.7L478.8 310.1L478.8 310.5L478.9 310.9L478.9 311.4L478.9 311.8L479.0 312.2L479.0 312.7L479.1 313.1L479.1 313.5L479.1 313.9L479.2 314.4L479.2 314.8L479.3 315.2L479.3 315.6L479.4 316.0L479.4 316.4L479.5 316.7L479.5 317.1L479.6 317.4L479.6 317.7L479.7 318.0L479.7 318.2L479.8 318.5L479.8 318.7L479.9 318.9L480.0 319.0L480.0 319.1L480.1 319.2L480.2 319.3L480.2 319.3L480.3 319.3L480.4 319.2L480.5 319.1L480.5 319.0L480.6 318.9L480.7 318.7L480.8 318.5L480.9 318.3L480.9 318.0L481.0 317.8L481.1 317.5L481.2 317.2L481.3 316.9L481.3 316.6L481.4 316.3L481.5 315.9L481.6 315.6L481.7 315.3L481.7 314.9L481.8 314.6L481.9 314.2L481.9 313.9L482.0 313.5L482.0 313.2L482.1 312.8L482.2 312.4L482.2 312.1L482.3 311.7L482.3 311.3L482.4 311.0L482.4 310.6L482.5 310.2L482.5 309.8L482.6 309.5L482.7 309.1L482.7 308.7L482.8 308.3L482.8 307.9L482.9 307.5L482.9 307.1L483.0 306.7L483.0 306.3L483.1 305.9L483.1 305.5L483.2 305.1L483.3 304.7L483.3 304.3L483.4 303.9L483.5 303.5L483.5 303.1L483.6 302.6L483.7 302.2L483.7 301.8L483.8 301.5L483.9 301.1L484.0 300.7L484.0 300.4L484.1 300.0L484.2 299.7L484.3 299.4L484.3 299.1L484.4 298.9L484.5 298.6L484.6 298.4L484.6 298.2L484.7 298.1L484.8 298.0L484.9 297.9L485.0 297.8L485.0 297.8L485.1 297.8L485.2 297.9L485.3 297.9L485.3 298.1L485.4 298.2L485.5 298.4L485.6 298.6L485.6 298.8L485.7 299.1L485.8 299.4L485.8 299.7L485.9 300.0L486.0 300.3L486.0 300.7L486.1 301.1L486.1 301.5L486.2 301.9L486.2 302.3L486.3 302.8L486.3 303.2L486.4 303.7L486.4 304.2L486.4 304.7L486.5 305.2L486.5 305.7L486.5 306.2L486.6 306.7L486.6 307.1L486.6 307.6L486.6 308.1L486.6 308.6L486.7 309.1L486.7 309.6L486.7 310.0L486.7 310.5L486.7 310.9L486.8 311.3L486.8 311.7L486.8 312.0L486.9 312.4L486.9 312.7L486.9 313.0L487.0 313.3L487.0 313.5L487.1 313.8L487.1 313.9L487.2 314.1L487.3 314.2L487.3 314.3L487.4 314.3L487.5 314.3L487.6 314.3L487.7 314.2L487.8 314.1L487.9 313.9L488.0 313.8L488.1 313.6L488.3 313.4L488.4 313.2L488.5 312.9L488.6 312.7L488.7 312.5L488.9 312.2L489.0 311.9L489.1 311.7L489.2 311.4L489.3 311.2L489.5 311.0L489.6 310.7L489.7 310.5L489.8 310.3L489.9 310.1L490.0 309.8L490.1 309.6L490.2 309.4L490.3 309.2L490.4 309.0L490.5 308.9L490.7 308.7L490.8 308.5L490.9 308.3L491.0 308.1L491.1 307.9L491.2 307.7L491.4 307.6L491.5 307.4L491.6 307.2L491.7 307.1L491.9 306.9L492.0 306.8L492.2 306.7L492.3 306.6L492.4 306.5L492.6 306.4L492.8 306.4L492.9 306.4L493.1 306.4L493.2 306.4L493.4 306.5L493.6 306.6L493.7 306.7L493.9 306.9L494.1 307.1L494.3 307.3L494.5 307.5L494.6 307.7L494.8 308.0L495.0 308.2L495.2 308.5L495.3 308.8L495.5 309.1L495.7 309.4L495.9 309.7L496.0 310.1L496.2 310.4L496.4 310.7L496.5 311.0L496.7 311.4L496.8 311.7L497.0 312.0L497.1 312.3L497.3 312.6L497.4 312.9L497.5 313.2L497.7 313.5L497.8 313.8L497.9 314.0L498.0 314.3L498.1 314.6L498.2 314.9L498.3 315.1L498.4 315.4L498.5 315.7L498.6 315.9L498.7 316.2L498.8 316.5L498.9 316.8L499.0 317.1L499.1 317.3L499.1 317.6L499.2 317.9L499.3 318.2L499.4 318.5L499.5 318.8L499.5 319.1L499.6 319.5L499.7 319.8L499.7 320.1L499.8 320.5L499.9 320.8L499.9 321.2L500.0 321.5L500.1 321.9L500.1 322.2L500.2 322.6L500.3 323.0L500.3 323.3L500.4 323.7L500.4 324.1L500.5 324.5L500.5 324.9L500.6 325.3L500.6 325.6L500.7 326.0L500.7 326.4L500.8 326.8L500.8 327.2L500.9 327.6L500.9 328.0L500.9 328.4L501.0 328.8L501.0 329.2L501.0 329.6L501.1 330.0L501.1 330.4L501.1 330.8L501.2 331.1L501.2 331.5L501.2 331.9L501.2 332.3L501.3 332.7L501.3 333.1L501.3 333.5L501.3 333.9L501.3 334.3L501.3 334.7L501.4 335.1L501.4 335.5L501.4 335.9L501.4 336.3L501.4 336.8L501.4 337.2L501.4 337.6L501.4 338.0L501.4 338.4L501.5 338.9L501.5 339.3L501.5 339.7L501.5 340.2L501.5 340.6L501.5 341.1L501.5 341.5L501.5 342.0L501.5 342.4L501.5 342.9L501.5 343.4L501.5 343.8L501.5 344.3L501.5 344.8L501.5 345.3L501.5 345.8L501.5 346.2L501.5 346.7L501.5 347.2L501.5 347.7L501.5 348.2L501.5 348.7L501.5 349.2L501.5 349.7L501.5 350.2L501.5 350.7L501.5 351.2L501.5 351.7L501.5 352.2L501.5 352.7L501.5 353.2L501.5 353.7L501.5 354.2L501.4 354.7L501.4 355.2L501.4 355.7L501.4 356.2L501.4 356.7L501.4 357.2L501.3 357.7L501.3 358.2L501.3 358.7L501.3 359.2L501.3 359.6L501.2 360.1L501.2 360.6L501.2 361.0L501.1 361.5L501.1 361.9L501.1 362.4L501.0 362.8L501.0 363.3L501.0 363.7L500.9 364.1L500.9 364.6L500.9 365.0L500.8 365.4L500.8 365.8L500.7 366.2L500.7 366.6L500.7 367.0L500.6 367.4L500.6 367.8L500.5 368.2L500.5 368.6L500.4 369.0L500.4 369.4L500.3 369.8L500.3 370.1L500.2 370.5L500.2 370.9L500.1 371.2L500.1 371.6L500.0 372.0L500.0 372.3L499.9 372.7L499.9 373.0L499.9 373.3L499.8 373.7L499.8 374.0L499.7 374.3L499.7 374.7L499.6 375.0L499.6 375.3L499.5 375.6L499.5 376.0L499.4 376.3L499.4 376.6L499.3 376.9L499.3 377.2L499.2 377.5L499.2 377.8L499.1 378.0L499.1 378.3L499.0 378.6L498.9 378.9L498.9 379.1L498.8 379.4L498.8 379.7L498.7 379.9L498.7 380.2L498.6 380.4L498.5 380.7L498.5 380.9L498.4 381.1L498.4 381.4L498.3 381.6L498.2 381.8L498.1 382.0L498.1 382.3L498.0 382.5L497.9 382.7L497.8 383.0L497.8 383.2L497.7 383.4L497.6 383.6L497.5 383.9L497.4 384.1L497.3 384.4L497.2 384.6L497.1 384.9L497.0 385.1L496.9 385.4L496.8 385.6L496.7 385.9L496.5 386.1L496.4 386.4L496.3 386.7L496.2 386.9L496.0 387.2L495.9 387.5L495.8 387.7L495.6 388.0L495.5 388.3L495.3 388.5L495.2 388.8L495.0 389.1L494.9 389.3L494.7 389.6L494.6 389.9L494.4 390.1L494.3 390.4L494.1 390.6L493.9 390.9L493.7 391.1L493.6 391.4L493.4 391.6L493.2 391.9L493.0 392.1L492.9 392.3L492.7 392.6L492.5 392.8L492.3 393.0L492.1 393.3L491.9 393.5L491.7 393.7L491.5 393.9L491.3 394.1L491.1 394.3L490.9 394.5L490.7 394.7L490.4 394.9L490.2 395.1L490.0 395.3L489.8 395.5L489.5 395.7L489.3 395.9L489.1 396.1L488.8 396.2L488.6 396.4L488.3 396.6L488.1 396.7L487.9 396.9L487.6 397.0L487.3 397.2L487.1 397.4L486.8 397.5L486.6 397.6L486.3 397.8L486.0 397.9L485.8 398.0L485.5 398.2L485.2 398.3L484.9 398.4L484.6 398.5L484.4 398.7L484.1 398.8L483.8 398.9L483.5 399.0L483.2 399.1L482.9 399.2L482.6 399.3L482.3 399.4L482.0 399.5L481.7 399.5L481.4 399.6L481.1 399.7L480.8 399.8L480.5 399.8L480.2 399.9L479.9 400.0L479.6 400.0L479.3 400.1L479.0 400.2L478.6 400.2L478.3 400.3L478.0 400.3L477.7 400.4L477.4 400.4L477.1 400.4L476.8 400.5L476.5 400.5L476.2 400.6L475.9 400.6L475.5 400.6L475.2 400.7L474.9 400.7L474.6 400.7L474.3 400.7L474.0 400.8L473.7 400.8L473.4 400.8L473.1 400.8L472.8 400.8L472.5 400.8L472.2 400.9L471.8 400.9L471.5 400.9L471.2 400.9L470.9 400.9L470.6 400.9L470.3 400.9L470.0 400.9L469.7 400.9L469.4 400.9L469.1 400.9L468.8 400.9L468.5 400.9L468.1 400.9L467.8 400.9L467.5 400.9L467.2 400.9L466.9 400.9L466.6 400.8L466.3 400.8L466.0 400.8L465.7 400.8L465.3 400.8L465.0 400.8L464.7 400.8L464.4 400.8L464.1 400.7L463.8 400.7L463.5 400.7L463.2 400.7L462.9 400.7L462.5 400.6L462.2 400.6L461.9 400.6L461.6 400.6L461.3 400.5L461.0 400.5L460.7 400.5L460.4 400.5L460.1 400.4L459.8 400.4L459.5 400.4L459.2 400.4L458.9 400.3L458.6 400.3L458.3 400.3L458.0 400.2L457.7 400.2L457.4 400.2L457.1 400.1L456.8 400.1L456.5 400.1L456.2 400.0L455.9 400.0L455.6 400.0L455.3 399.9L455.0 399.9" transform="translate(-127.80,-224.20)" fill="none" stroke="#6fd0e6" stroke-width="2.5" stroke-linejoin="round"/><text x="327.2" y="38.4" class="mu" textLength="75" lengthAdjust="spacingAndGlyphs"><tspan class="mi">μ</tspan> = 0.0035</text>
</g>
</svg>
</body></html>
